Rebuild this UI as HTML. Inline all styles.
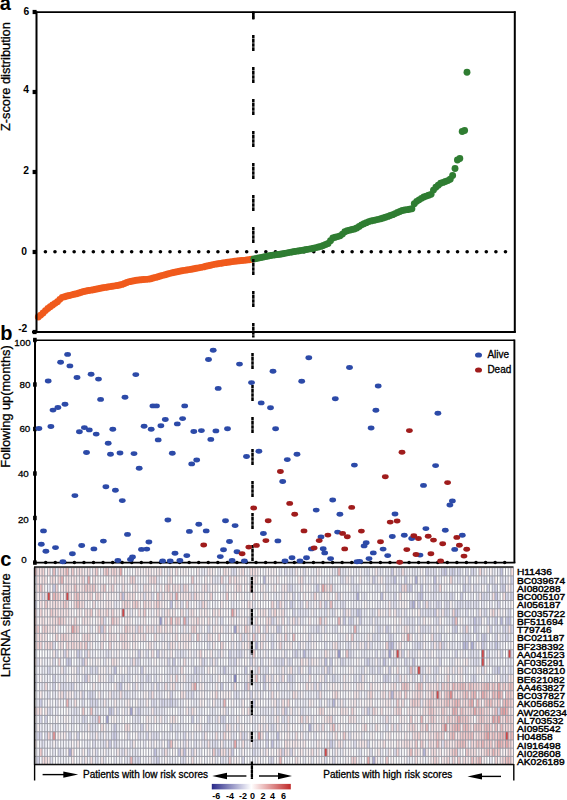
<!DOCTYPE html><html><head><meta charset="utf-8"><style>html,body{margin:0;padding:0;background:#fff;}svg{display:block}text{font-family:"Liberation Sans", sans-serif;} .t{stroke:#000;stroke-width:0.3px}</style></head><body>
<svg width="567" height="800" viewBox="0 0 567 800">
<rect width="567" height="800" fill="#fff"/>
<path fill="rgb(132,132,192)" d="M233.85 674.35h2.66v8.20h-2.66z"/>
<path fill="rgb(152,152,202)" d="M159.28 616.93h2.66v8.20h-2.66zM337.72 649.74h2.66v8.20h-2.66z"/>
<path fill="rgb(163,163,208)" d="M233.85 625.13h2.66v8.20h-2.66zM388.32 649.74h2.66v8.20h-2.66zM129.98 707.17h2.66v8.20h-2.66zM106.01 715.38h2.66v8.20h-2.66z"/>
<path fill="rgb(173,173,213)" d="M414.96 575.90h2.66v8.20h-2.66zM356.36 592.31h2.66v8.20h-2.66zM412.29 600.52h2.66v8.20h-2.66zM255.16 641.54h2.66v8.20h-2.66zM470.89 641.54h2.66v8.20h-2.66zM68.72 748.19h2.66v8.20h-2.66zM372.34 756.40h2.66v8.20h-2.66z"/>
<path fill="rgb(183,183,218)" d="M263.15 575.90h2.66v8.20h-2.66zM500.18 616.93h2.66v8.20h-2.66zM390.99 641.54h2.66v8.20h-2.66zM462.90 641.54h2.66v8.20h-2.66zM303.10 649.74h2.66v8.20h-2.66zM390.99 690.76h2.66v8.20h-2.66zM332.39 698.97h2.66v8.20h-2.66zM308.42 723.58h2.66v8.20h-2.66zM422.95 748.19h2.66v8.20h-2.66z"/>
<path fill="rgb(194,194,224)" d="M444.25 567.70h2.66v8.20h-2.66zM500.18 567.70h2.66v8.20h-2.66zM393.65 575.90h2.66v8.20h-2.66zM433.60 575.90h2.66v8.20h-2.66zM121.99 592.31h2.66v8.20h-2.66zM380.33 592.31h2.66v8.20h-2.66zM420.28 592.31h2.66v8.20h-2.66zM494.86 592.31h2.66v8.20h-2.66zM169.93 600.52h2.66v8.20h-2.66zM356.36 608.72h2.66v8.20h-2.66zM473.55 616.93h2.66v8.20h-2.66zM508.17 616.93h2.66v8.20h-2.66zM388.32 641.54h2.66v8.20h-2.66zM465.56 641.54h2.66v8.20h-2.66zM494.86 641.54h2.66v8.20h-2.66zM324.40 657.95h2.66v8.20h-2.66zM383.00 657.95h2.66v8.20h-2.66zM412.29 657.95h2.66v8.20h-2.66zM114.00 666.15h2.66v8.20h-2.66zM223.20 666.15h2.66v8.20h-2.66zM497.52 666.15h2.66v8.20h-2.66zM263.15 674.35h2.66v8.20h-2.66zM119.33 682.56h2.66v8.20h-2.66zM108.67 707.17h2.66v8.20h-2.66zM276.46 731.78h2.66v8.20h-2.66zM271.14 739.99h2.66v8.20h-2.66zM153.95 748.19h2.66v8.20h-2.66zM177.92 748.19h2.66v8.20h-2.66zM183.25 748.19h2.66v8.20h-2.66z"/>
<path fill="rgb(204,204,229)" d="M390.99 567.70h2.66v8.20h-2.66zM452.24 567.70h2.66v8.20h-2.66zM372.34 575.90h2.66v8.20h-2.66zM404.30 575.90h2.66v8.20h-2.66zM510.84 575.90h2.66v8.20h-2.66zM52.74 584.11h2.66v8.20h-2.66zM316.41 584.11h2.66v8.20h-2.66zM409.63 584.11h2.66v8.20h-2.66zM420.28 584.11h2.66v8.20h-2.66zM462.90 584.11h2.66v8.20h-2.66zM502.85 584.11h2.66v8.20h-2.66zM460.23 592.31h2.66v8.20h-2.66zM510.84 592.31h2.66v8.20h-2.66zM289.78 600.52h2.66v8.20h-2.66zM324.40 600.52h2.66v8.20h-2.66zM409.63 600.52h2.66v8.20h-2.66zM417.62 600.52h2.66v8.20h-2.66zM359.03 608.72h2.66v8.20h-2.66zM433.60 608.72h2.66v8.20h-2.66zM454.91 608.72h2.66v8.20h-2.66zM343.05 616.93h2.66v8.20h-2.66zM359.03 616.93h2.66v8.20h-2.66zM452.24 616.93h2.66v8.20h-2.66zM494.86 616.93h2.66v8.20h-2.66zM505.51 616.93h2.66v8.20h-2.66zM100.68 625.13h2.66v8.20h-2.66zM276.46 625.13h2.66v8.20h-2.66zM385.66 625.13h2.66v8.20h-2.66zM454.91 625.13h2.66v8.20h-2.66zM473.55 625.13h2.66v8.20h-2.66zM481.54 633.33h2.66v8.20h-2.66zM484.20 633.33h2.66v8.20h-2.66zM481.54 641.54h2.66v8.20h-2.66zM76.71 649.74h2.66v8.20h-2.66zM137.97 649.74h2.66v8.20h-2.66zM156.61 649.74h2.66v8.20h-2.66zM295.11 649.74h2.66v8.20h-2.66zM66.06 657.95h2.66v8.20h-2.66zM68.72 657.95h2.66v8.20h-2.66zM82.04 657.95h2.66v8.20h-2.66zM172.59 657.95h2.66v8.20h-2.66zM329.73 657.95h2.66v8.20h-2.66zM367.02 657.95h2.66v8.20h-2.66zM140.63 666.15h2.66v8.20h-2.66zM193.90 666.15h2.66v8.20h-2.66zM244.50 666.15h2.66v8.20h-2.66zM308.42 666.15h2.66v8.20h-2.66zM327.07 666.15h2.66v8.20h-2.66zM388.32 666.15h2.66v8.20h-2.66zM84.70 674.35h2.66v8.20h-2.66zM220.53 682.56h2.66v8.20h-2.66zM244.50 682.56h2.66v8.20h-2.66zM263.15 682.56h2.66v8.20h-2.66zM39.43 698.97h2.66v8.20h-2.66zM169.93 698.97h2.66v8.20h-2.66zM137.97 707.17h2.66v8.20h-2.66zM284.45 707.17h2.66v8.20h-2.66zM367.02 707.17h2.66v8.20h-2.66zM191.24 715.38h2.66v8.20h-2.66zM114.00 723.58h2.66v8.20h-2.66zM114.00 731.78h2.66v8.20h-2.66zM108.67 739.99h2.66v8.20h-2.66zM167.27 739.99h2.66v8.20h-2.66zM329.73 739.99h2.66v8.20h-2.66zM217.87 748.19h2.66v8.20h-2.66zM231.19 748.19h2.66v8.20h-2.66zM156.61 756.40h2.66v8.20h-2.66z"/>
<path fill="rgb(214,214,234)" d="M425.61 567.70h2.66v8.20h-2.66zM441.59 567.70h2.66v8.20h-2.66zM449.58 567.70h2.66v8.20h-2.66zM457.57 567.70h2.66v8.20h-2.66zM470.89 567.70h2.66v8.20h-2.66zM468.22 575.90h2.66v8.20h-2.66zM500.18 575.90h2.66v8.20h-2.66zM289.78 584.11h2.66v8.20h-2.66zM398.98 584.11h2.66v8.20h-2.66zM406.97 584.11h2.66v8.20h-2.66zM433.60 584.11h2.66v8.20h-2.66zM486.87 584.11h2.66v8.20h-2.66zM494.86 584.11h2.66v8.20h-2.66zM500.18 584.11h2.66v8.20h-2.66zM292.44 592.31h2.66v8.20h-2.66zM337.72 592.31h2.66v8.20h-2.66zM393.65 592.31h2.66v8.20h-2.66zM417.62 592.31h2.66v8.20h-2.66zM449.58 592.31h2.66v8.20h-2.66zM481.54 592.31h2.66v8.20h-2.66zM505.51 592.31h2.66v8.20h-2.66zM34.10 600.52h2.66v8.20h-2.66zM276.46 600.52h2.66v8.20h-2.66zM436.26 600.52h2.66v8.20h-2.66zM497.52 600.52h2.66v8.20h-2.66zM292.44 608.72h2.66v8.20h-2.66zM343.05 608.72h2.66v8.20h-2.66zM444.25 608.72h2.66v8.20h-2.66zM484.20 608.72h2.66v8.20h-2.66zM508.17 608.72h2.66v8.20h-2.66zM185.91 616.93h2.66v8.20h-2.66zM271.14 616.93h2.66v8.20h-2.66zM348.37 616.93h2.66v8.20h-2.66zM351.04 616.93h2.66v8.20h-2.66zM478.88 616.93h2.66v8.20h-2.66zM486.87 616.93h2.66v8.20h-2.66zM207.22 625.13h2.66v8.20h-2.66zM279.13 625.13h2.66v8.20h-2.66zM316.41 625.13h2.66v8.20h-2.66zM377.67 625.13h2.66v8.20h-2.66zM452.24 625.13h2.66v8.20h-2.66zM462.90 625.13h2.66v8.20h-2.66zM489.53 625.13h2.66v8.20h-2.66zM502.85 625.13h2.66v8.20h-2.66zM510.84 625.13h2.66v8.20h-2.66zM388.32 633.33h2.66v8.20h-2.66zM438.93 633.33h2.66v8.20h-2.66zM476.21 633.33h2.66v8.20h-2.66zM494.86 633.33h2.66v8.20h-2.66zM505.51 633.33h2.66v8.20h-2.66zM271.14 641.54h2.66v8.20h-2.66zM364.35 641.54h2.66v8.20h-2.66zM417.62 641.54h2.66v8.20h-2.66zM441.59 641.54h2.66v8.20h-2.66zM63.40 649.74h2.66v8.20h-2.66zM228.52 649.74h2.66v8.20h-2.66zM239.18 649.74h2.66v8.20h-2.66zM348.37 649.74h2.66v8.20h-2.66zM401.64 649.74h2.66v8.20h-2.66zM454.91 649.74h2.66v8.20h-2.66zM486.87 649.74h2.66v8.20h-2.66zM500.18 649.74h2.66v8.20h-2.66zM167.27 657.95h2.66v8.20h-2.66zM201.89 657.95h2.66v8.20h-2.66zM233.85 657.95h2.66v8.20h-2.66zM249.83 657.95h2.66v8.20h-2.66zM281.79 657.95h2.66v8.20h-2.66zM340.38 657.95h2.66v8.20h-2.66zM404.30 657.95h2.66v8.20h-2.66zM438.93 657.95h2.66v8.20h-2.66zM47.42 666.15h2.66v8.20h-2.66zM76.71 666.15h2.66v8.20h-2.66zM90.03 666.15h2.66v8.20h-2.66zM95.36 666.15h2.66v8.20h-2.66zM297.77 666.15h2.66v8.20h-2.66zM377.67 666.15h2.66v8.20h-2.66zM412.29 666.15h2.66v8.20h-2.66zM494.86 666.15h2.66v8.20h-2.66zM52.74 674.35h2.66v8.20h-2.66zM145.96 674.35h2.66v8.20h-2.66zM287.12 674.35h2.66v8.20h-2.66zM289.78 674.35h2.66v8.20h-2.66zM324.40 674.35h2.66v8.20h-2.66zM332.39 674.35h2.66v8.20h-2.66zM359.03 674.35h2.66v8.20h-2.66zM383.00 674.35h2.66v8.20h-2.66zM385.66 674.35h2.66v8.20h-2.66zM420.28 674.35h2.66v8.20h-2.66zM473.55 674.35h2.66v8.20h-2.66zM52.74 682.56h2.66v8.20h-2.66zM71.39 682.56h2.66v8.20h-2.66zM156.61 682.56h2.66v8.20h-2.66zM319.08 682.56h2.66v8.20h-2.66zM82.04 690.76h2.66v8.20h-2.66zM90.03 690.76h2.66v8.20h-2.66zM169.93 690.76h2.66v8.20h-2.66zM191.24 690.76h2.66v8.20h-2.66zM249.83 690.76h2.66v8.20h-2.66zM90.03 698.97h2.66v8.20h-2.66zM95.36 698.97h2.66v8.20h-2.66zM161.94 698.97h2.66v8.20h-2.66zM252.49 698.97h2.66v8.20h-2.66zM111.34 707.17h2.66v8.20h-2.66zM497.52 707.17h2.66v8.20h-2.66zM39.43 715.38h2.66v8.20h-2.66zM44.75 715.38h2.66v8.20h-2.66zM82.04 715.38h2.66v8.20h-2.66zM207.22 715.38h2.66v8.20h-2.66zM220.53 715.38h2.66v8.20h-2.66zM223.20 715.38h2.66v8.20h-2.66zM140.63 723.58h2.66v8.20h-2.66zM169.93 723.58h2.66v8.20h-2.66zM271.14 723.58h2.66v8.20h-2.66zM36.76 731.78h2.66v8.20h-2.66zM39.43 731.78h2.66v8.20h-2.66zM68.72 731.78h2.66v8.20h-2.66zM76.71 731.78h2.66v8.20h-2.66zM111.34 731.78h2.66v8.20h-2.66zM145.96 731.78h2.66v8.20h-2.66zM183.25 731.78h2.66v8.20h-2.66zM241.84 731.78h2.66v8.20h-2.66zM265.81 731.78h2.66v8.20h-2.66zM114.00 739.99h2.66v8.20h-2.66zM265.81 739.99h2.66v8.20h-2.66zM367.02 739.99h2.66v8.20h-2.66zM58.07 748.19h2.66v8.20h-2.66zM87.37 748.19h2.66v8.20h-2.66zM191.24 748.19h2.66v8.20h-2.66zM252.49 748.19h2.66v8.20h-2.66zM281.79 748.19h2.66v8.20h-2.66zM289.78 748.19h2.66v8.20h-2.66zM36.76 756.40h2.66v8.20h-2.66zM137.97 756.40h2.66v8.20h-2.66zM241.84 756.40h2.66v8.20h-2.66zM271.14 756.40h2.66v8.20h-2.66zM332.39 756.40h2.66v8.20h-2.66z"/>
<path fill="rgb(224,224,239)" d="M231.19 567.70h2.66v8.20h-2.66zM233.85 567.70h2.66v8.20h-2.66zM284.45 567.70h2.66v8.20h-2.66zM289.78 567.70h2.66v8.20h-2.66zM303.10 567.70h2.66v8.20h-2.66zM367.02 567.70h2.66v8.20h-2.66zM398.98 567.70h2.66v8.20h-2.66zM433.60 567.70h2.66v8.20h-2.66zM465.56 567.70h2.66v8.20h-2.66zM473.55 567.70h2.66v8.20h-2.66zM340.38 575.90h2.66v8.20h-2.66zM351.04 575.90h2.66v8.20h-2.66zM385.66 575.90h2.66v8.20h-2.66zM390.99 575.90h2.66v8.20h-2.66zM457.57 575.90h2.66v8.20h-2.66zM462.90 575.90h2.66v8.20h-2.66zM484.20 575.90h2.66v8.20h-2.66zM489.53 575.90h2.66v8.20h-2.66zM492.19 575.90h2.66v8.20h-2.66zM180.58 584.11h2.66v8.20h-2.66zM287.12 584.11h2.66v8.20h-2.66zM356.36 584.11h2.66v8.20h-2.66zM385.66 584.11h2.66v8.20h-2.66zM468.22 584.11h2.66v8.20h-2.66zM473.55 584.11h2.66v8.20h-2.66zM492.19 584.11h2.66v8.20h-2.66zM510.84 584.11h2.66v8.20h-2.66zM42.09 592.31h2.66v8.20h-2.66zM143.30 592.31h2.66v8.20h-2.66zM151.29 592.31h2.66v8.20h-2.66zM191.24 592.31h2.66v8.20h-2.66zM297.77 592.31h2.66v8.20h-2.66zM433.60 592.31h2.66v8.20h-2.66zM444.25 592.31h2.66v8.20h-2.66zM452.24 592.31h2.66v8.20h-2.66zM476.21 592.31h2.66v8.20h-2.66zM484.20 592.31h2.66v8.20h-2.66zM486.87 592.31h2.66v8.20h-2.66zM180.58 600.52h2.66v8.20h-2.66zM199.23 600.52h2.66v8.20h-2.66zM284.45 600.52h2.66v8.20h-2.66zM292.44 600.52h2.66v8.20h-2.66zM300.43 600.52h2.66v8.20h-2.66zM340.38 600.52h2.66v8.20h-2.66zM343.05 600.52h2.66v8.20h-2.66zM393.65 600.52h2.66v8.20h-2.66zM422.95 600.52h2.66v8.20h-2.66zM428.27 600.52h2.66v8.20h-2.66zM438.93 600.52h2.66v8.20h-2.66zM444.25 600.52h2.66v8.20h-2.66zM446.92 600.52h2.66v8.20h-2.66zM457.57 600.52h2.66v8.20h-2.66zM460.23 600.52h2.66v8.20h-2.66zM465.56 600.52h2.66v8.20h-2.66zM468.22 600.52h2.66v8.20h-2.66zM473.55 600.52h2.66v8.20h-2.66zM476.21 600.52h2.66v8.20h-2.66zM268.47 608.72h2.66v8.20h-2.66zM297.77 608.72h2.66v8.20h-2.66zM324.40 608.72h2.66v8.20h-2.66zM332.39 608.72h2.66v8.20h-2.66zM351.04 608.72h2.66v8.20h-2.66zM372.34 608.72h2.66v8.20h-2.66zM396.31 608.72h2.66v8.20h-2.66zM404.30 608.72h2.66v8.20h-2.66zM420.28 608.72h2.66v8.20h-2.66zM425.61 608.72h2.66v8.20h-2.66zM428.27 608.72h2.66v8.20h-2.66zM446.92 608.72h2.66v8.20h-2.66zM457.57 608.72h2.66v8.20h-2.66zM465.56 608.72h2.66v8.20h-2.66zM476.21 608.72h2.66v8.20h-2.66zM103.35 616.93h2.66v8.20h-2.66zM220.53 616.93h2.66v8.20h-2.66zM247.17 616.93h2.66v8.20h-2.66zM287.12 616.93h2.66v8.20h-2.66zM295.11 616.93h2.66v8.20h-2.66zM369.68 616.93h2.66v8.20h-2.66zM375.01 616.93h2.66v8.20h-2.66zM406.97 616.93h2.66v8.20h-2.66zM412.29 616.93h2.66v8.20h-2.66zM417.62 616.93h2.66v8.20h-2.66zM436.26 616.93h2.66v8.20h-2.66zM476.21 616.93h2.66v8.20h-2.66zM135.31 625.13h2.66v8.20h-2.66zM252.49 625.13h2.66v8.20h-2.66zM263.15 625.13h2.66v8.20h-2.66zM324.40 625.13h2.66v8.20h-2.66zM335.06 625.13h2.66v8.20h-2.66zM356.36 625.13h2.66v8.20h-2.66zM388.32 625.13h2.66v8.20h-2.66zM412.29 625.13h2.66v8.20h-2.66zM420.28 625.13h2.66v8.20h-2.66zM422.95 625.13h2.66v8.20h-2.66zM428.27 625.13h2.66v8.20h-2.66zM476.21 625.13h2.66v8.20h-2.66zM494.86 625.13h2.66v8.20h-2.66zM505.51 625.13h2.66v8.20h-2.66zM241.84 633.33h2.66v8.20h-2.66zM255.16 633.33h2.66v8.20h-2.66zM271.14 633.33h2.66v8.20h-2.66zM308.42 633.33h2.66v8.20h-2.66zM372.34 633.33h2.66v8.20h-2.66zM377.67 633.33h2.66v8.20h-2.66zM390.99 633.33h2.66v8.20h-2.66zM433.60 633.33h2.66v8.20h-2.66zM462.90 633.33h2.66v8.20h-2.66zM465.56 633.33h2.66v8.20h-2.66zM468.22 633.33h2.66v8.20h-2.66zM52.74 641.54h2.66v8.20h-2.66zM167.27 641.54h2.66v8.20h-2.66zM207.22 641.54h2.66v8.20h-2.66zM297.77 641.54h2.66v8.20h-2.66zM324.40 641.54h2.66v8.20h-2.66zM337.72 641.54h2.66v8.20h-2.66zM348.37 641.54h2.66v8.20h-2.66zM369.68 641.54h2.66v8.20h-2.66zM414.96 641.54h2.66v8.20h-2.66zM420.28 641.54h2.66v8.20h-2.66zM430.94 641.54h2.66v8.20h-2.66zM436.26 641.54h2.66v8.20h-2.66zM473.55 641.54h2.66v8.20h-2.66zM484.20 641.54h2.66v8.20h-2.66zM489.53 641.54h2.66v8.20h-2.66zM497.52 641.54h2.66v8.20h-2.66zM55.41 649.74h2.66v8.20h-2.66zM79.38 649.74h2.66v8.20h-2.66zM84.70 649.74h2.66v8.20h-2.66zM106.01 649.74h2.66v8.20h-2.66zM145.96 649.74h2.66v8.20h-2.66zM180.58 649.74h2.66v8.20h-2.66zM217.87 649.74h2.66v8.20h-2.66zM236.51 649.74h2.66v8.20h-2.66zM249.83 649.74h2.66v8.20h-2.66zM284.45 649.74h2.66v8.20h-2.66zM292.44 649.74h2.66v8.20h-2.66zM308.42 649.74h2.66v8.20h-2.66zM375.01 649.74h2.66v8.20h-2.66zM383.00 649.74h2.66v8.20h-2.66zM470.89 649.74h2.66v8.20h-2.66zM476.21 649.74h2.66v8.20h-2.66zM510.84 649.74h2.66v8.20h-2.66zM36.76 657.95h2.66v8.20h-2.66zM52.74 657.95h2.66v8.20h-2.66zM129.98 657.95h2.66v8.20h-2.66zM135.31 657.95h2.66v8.20h-2.66zM137.97 657.95h2.66v8.20h-2.66zM209.88 657.95h2.66v8.20h-2.66zM215.21 657.95h2.66v8.20h-2.66zM228.52 657.95h2.66v8.20h-2.66zM260.48 657.95h2.66v8.20h-2.66zM273.80 657.95h2.66v8.20h-2.66zM279.13 657.95h2.66v8.20h-2.66zM287.12 657.95h2.66v8.20h-2.66zM289.78 657.95h2.66v8.20h-2.66zM308.42 657.95h2.66v8.20h-2.66zM343.05 657.95h2.66v8.20h-2.66zM364.35 657.95h2.66v8.20h-2.66zM377.67 657.95h2.66v8.20h-2.66zM393.65 657.95h2.66v8.20h-2.66zM473.55 657.95h2.66v8.20h-2.66zM476.21 657.95h2.66v8.20h-2.66zM63.40 666.15h2.66v8.20h-2.66zM127.32 666.15h2.66v8.20h-2.66zM169.93 666.15h2.66v8.20h-2.66zM175.26 666.15h2.66v8.20h-2.66zM196.56 666.15h2.66v8.20h-2.66zM201.89 666.15h2.66v8.20h-2.66zM255.16 666.15h2.66v8.20h-2.66zM265.81 666.15h2.66v8.20h-2.66zM321.74 666.15h2.66v8.20h-2.66zM329.73 666.15h2.66v8.20h-2.66zM361.69 666.15h2.66v8.20h-2.66zM369.68 666.15h2.66v8.20h-2.66zM372.34 666.15h2.66v8.20h-2.66zM406.97 666.15h2.66v8.20h-2.66zM420.28 666.15h2.66v8.20h-2.66zM433.60 666.15h2.66v8.20h-2.66zM436.26 666.15h2.66v8.20h-2.66zM481.54 666.15h2.66v8.20h-2.66zM492.19 666.15h2.66v8.20h-2.66zM502.85 666.15h2.66v8.20h-2.66zM508.17 666.15h2.66v8.20h-2.66zM510.84 666.15h2.66v8.20h-2.66zM108.67 674.35h2.66v8.20h-2.66zM111.34 674.35h2.66v8.20h-2.66zM121.99 674.35h2.66v8.20h-2.66zM127.32 674.35h2.66v8.20h-2.66zM140.63 674.35h2.66v8.20h-2.66zM148.62 674.35h2.66v8.20h-2.66zM153.95 674.35h2.66v8.20h-2.66zM191.24 674.35h2.66v8.20h-2.66zM196.56 674.35h2.66v8.20h-2.66zM209.88 674.35h2.66v8.20h-2.66zM271.14 674.35h2.66v8.20h-2.66zM279.13 674.35h2.66v8.20h-2.66zM292.44 674.35h2.66v8.20h-2.66zM353.70 674.35h2.66v8.20h-2.66zM388.32 674.35h2.66v8.20h-2.66zM396.31 674.35h2.66v8.20h-2.66zM412.29 674.35h2.66v8.20h-2.66zM425.61 674.35h2.66v8.20h-2.66zM433.60 674.35h2.66v8.20h-2.66zM470.89 674.35h2.66v8.20h-2.66zM500.18 674.35h2.66v8.20h-2.66zM505.51 674.35h2.66v8.20h-2.66zM34.10 682.56h2.66v8.20h-2.66zM60.73 682.56h2.66v8.20h-2.66zM63.40 682.56h2.66v8.20h-2.66zM68.72 682.56h2.66v8.20h-2.66zM116.66 682.56h2.66v8.20h-2.66zM132.64 682.56h2.66v8.20h-2.66zM140.63 682.56h2.66v8.20h-2.66zM151.29 682.56h2.66v8.20h-2.66zM231.19 682.56h2.66v8.20h-2.66zM255.16 682.56h2.66v8.20h-2.66zM276.46 682.56h2.66v8.20h-2.66zM289.78 682.56h2.66v8.20h-2.66zM313.75 682.56h2.66v8.20h-2.66zM47.42 690.76h2.66v8.20h-2.66zM63.40 690.76h2.66v8.20h-2.66zM74.05 690.76h2.66v8.20h-2.66zM87.37 690.76h2.66v8.20h-2.66zM92.69 690.76h2.66v8.20h-2.66zM111.34 690.76h2.66v8.20h-2.66zM124.65 690.76h2.66v8.20h-2.66zM148.62 690.76h2.66v8.20h-2.66zM185.91 690.76h2.66v8.20h-2.66zM233.85 690.76h2.66v8.20h-2.66zM236.51 690.76h2.66v8.20h-2.66zM316.41 690.76h2.66v8.20h-2.66zM82.04 698.97h2.66v8.20h-2.66zM92.69 698.97h2.66v8.20h-2.66zM151.29 698.97h2.66v8.20h-2.66zM153.95 698.97h2.66v8.20h-2.66zM159.28 698.97h2.66v8.20h-2.66zM164.60 698.97h2.66v8.20h-2.66zM167.27 698.97h2.66v8.20h-2.66zM172.59 698.97h2.66v8.20h-2.66zM175.26 698.97h2.66v8.20h-2.66zM276.46 698.97h2.66v8.20h-2.66zM319.08 698.97h2.66v8.20h-2.66zM327.07 698.97h2.66v8.20h-2.66zM47.42 707.17h2.66v8.20h-2.66zM50.08 707.17h2.66v8.20h-2.66zM74.05 707.17h2.66v8.20h-2.66zM95.36 707.17h2.66v8.20h-2.66zM116.66 707.17h2.66v8.20h-2.66zM135.31 707.17h2.66v8.20h-2.66zM153.95 707.17h2.66v8.20h-2.66zM225.86 707.17h2.66v8.20h-2.66zM271.14 707.17h2.66v8.20h-2.66zM276.46 707.17h2.66v8.20h-2.66zM300.43 707.17h2.66v8.20h-2.66zM71.39 715.38h2.66v8.20h-2.66zM84.70 715.38h2.66v8.20h-2.66zM92.69 715.38h2.66v8.20h-2.66zM95.36 715.38h2.66v8.20h-2.66zM137.97 715.38h2.66v8.20h-2.66zM215.21 715.38h2.66v8.20h-2.66zM281.79 715.38h2.66v8.20h-2.66zM90.03 723.58h2.66v8.20h-2.66zM223.20 723.58h2.66v8.20h-2.66zM385.66 723.58h2.66v8.20h-2.66zM44.75 731.78h2.66v8.20h-2.66zM127.32 731.78h2.66v8.20h-2.66zM137.97 731.78h2.66v8.20h-2.66zM151.29 731.78h2.66v8.20h-2.66zM153.95 731.78h2.66v8.20h-2.66zM156.61 731.78h2.66v8.20h-2.66zM175.26 731.78h2.66v8.20h-2.66zM201.89 731.78h2.66v8.20h-2.66zM244.50 731.78h2.66v8.20h-2.66zM348.37 731.78h2.66v8.20h-2.66zM42.09 739.99h2.66v8.20h-2.66zM92.69 739.99h2.66v8.20h-2.66zM103.35 739.99h2.66v8.20h-2.66zM129.98 739.99h2.66v8.20h-2.66zM183.25 739.99h2.66v8.20h-2.66zM193.90 739.99h2.66v8.20h-2.66zM212.54 739.99h2.66v8.20h-2.66zM215.21 739.99h2.66v8.20h-2.66zM223.20 739.99h2.66v8.20h-2.66zM252.49 739.99h2.66v8.20h-2.66zM255.16 739.99h2.66v8.20h-2.66zM276.46 739.99h2.66v8.20h-2.66zM332.39 739.99h2.66v8.20h-2.66zM353.70 739.99h2.66v8.20h-2.66zM441.59 739.99h2.66v8.20h-2.66zM95.36 748.19h2.66v8.20h-2.66zM121.99 748.19h2.66v8.20h-2.66zM161.94 748.19h2.66v8.20h-2.66zM215.21 748.19h2.66v8.20h-2.66zM225.86 748.19h2.66v8.20h-2.66zM359.03 748.19h2.66v8.20h-2.66zM369.68 748.19h2.66v8.20h-2.66zM393.65 748.19h2.66v8.20h-2.66zM50.08 756.40h2.66v8.20h-2.66zM95.36 756.40h2.66v8.20h-2.66zM132.64 756.40h2.66v8.20h-2.66zM135.31 756.40h2.66v8.20h-2.66zM153.95 756.40h2.66v8.20h-2.66zM180.58 756.40h2.66v8.20h-2.66zM183.25 756.40h2.66v8.20h-2.66zM220.53 756.40h2.66v8.20h-2.66zM268.47 756.40h2.66v8.20h-2.66zM324.40 756.40h2.66v8.20h-2.66z"/>
<path fill="rgb(234,234,244)" d="M55.41 567.70h2.66v8.20h-2.66zM167.27 567.70h2.66v8.20h-2.66zM201.89 567.70h2.66v8.20h-2.66zM217.87 567.70h2.66v8.20h-2.66zM279.13 567.70h2.66v8.20h-2.66zM292.44 567.70h2.66v8.20h-2.66zM332.39 567.70h2.66v8.20h-2.66zM335.06 567.70h2.66v8.20h-2.66zM340.38 567.70h2.66v8.20h-2.66zM343.05 567.70h2.66v8.20h-2.66zM364.35 567.70h2.66v8.20h-2.66zM377.67 567.70h2.66v8.20h-2.66zM380.33 567.70h2.66v8.20h-2.66zM385.66 567.70h2.66v8.20h-2.66zM396.31 567.70h2.66v8.20h-2.66zM404.30 567.70h2.66v8.20h-2.66zM412.29 567.70h2.66v8.20h-2.66zM414.96 567.70h2.66v8.20h-2.66zM428.27 567.70h2.66v8.20h-2.66zM430.94 567.70h2.66v8.20h-2.66zM438.93 567.70h2.66v8.20h-2.66zM454.91 567.70h2.66v8.20h-2.66zM460.23 567.70h2.66v8.20h-2.66zM481.54 567.70h2.66v8.20h-2.66zM492.19 567.70h2.66v8.20h-2.66zM497.52 567.70h2.66v8.20h-2.66zM156.61 575.90h2.66v8.20h-2.66zM212.54 575.90h2.66v8.20h-2.66zM215.21 575.90h2.66v8.20h-2.66zM217.87 575.90h2.66v8.20h-2.66zM289.78 575.90h2.66v8.20h-2.66zM303.10 575.90h2.66v8.20h-2.66zM308.42 575.90h2.66v8.20h-2.66zM313.75 575.90h2.66v8.20h-2.66zM329.73 575.90h2.66v8.20h-2.66zM343.05 575.90h2.66v8.20h-2.66zM367.02 575.90h2.66v8.20h-2.66zM375.01 575.90h2.66v8.20h-2.66zM388.32 575.90h2.66v8.20h-2.66zM398.98 575.90h2.66v8.20h-2.66zM420.28 575.90h2.66v8.20h-2.66zM425.61 575.90h2.66v8.20h-2.66zM438.93 575.90h2.66v8.20h-2.66zM452.24 575.90h2.66v8.20h-2.66zM481.54 575.90h2.66v8.20h-2.66zM502.85 575.90h2.66v8.20h-2.66zM505.51 575.90h2.66v8.20h-2.66zM47.42 584.11h2.66v8.20h-2.66zM207.22 584.11h2.66v8.20h-2.66zM223.20 584.11h2.66v8.20h-2.66zM265.81 584.11h2.66v8.20h-2.66zM292.44 584.11h2.66v8.20h-2.66zM313.75 584.11h2.66v8.20h-2.66zM332.39 584.11h2.66v8.20h-2.66zM351.04 584.11h2.66v8.20h-2.66zM353.70 584.11h2.66v8.20h-2.66zM375.01 584.11h2.66v8.20h-2.66zM377.67 584.11h2.66v8.20h-2.66zM388.32 584.11h2.66v8.20h-2.66zM393.65 584.11h2.66v8.20h-2.66zM414.96 584.11h2.66v8.20h-2.66zM425.61 584.11h2.66v8.20h-2.66zM436.26 584.11h2.66v8.20h-2.66zM465.56 584.11h2.66v8.20h-2.66zM476.21 584.11h2.66v8.20h-2.66zM159.28 592.31h2.66v8.20h-2.66zM172.59 592.31h2.66v8.20h-2.66zM273.80 592.31h2.66v8.20h-2.66zM284.45 592.31h2.66v8.20h-2.66zM311.09 592.31h2.66v8.20h-2.66zM319.08 592.31h2.66v8.20h-2.66zM353.70 592.31h2.66v8.20h-2.66zM361.69 592.31h2.66v8.20h-2.66zM364.35 592.31h2.66v8.20h-2.66zM388.32 592.31h2.66v8.20h-2.66zM414.96 592.31h2.66v8.20h-2.66zM430.94 592.31h2.66v8.20h-2.66zM438.93 592.31h2.66v8.20h-2.66zM470.89 592.31h2.66v8.20h-2.66zM497.52 592.31h2.66v8.20h-2.66zM508.17 592.31h2.66v8.20h-2.66zM114.00 600.52h2.66v8.20h-2.66zM207.22 600.52h2.66v8.20h-2.66zM231.19 600.52h2.66v8.20h-2.66zM252.49 600.52h2.66v8.20h-2.66zM297.77 600.52h2.66v8.20h-2.66zM308.42 600.52h2.66v8.20h-2.66zM335.06 600.52h2.66v8.20h-2.66zM377.67 600.52h2.66v8.20h-2.66zM390.99 600.52h2.66v8.20h-2.66zM433.60 600.52h2.66v8.20h-2.66zM454.91 600.52h2.66v8.20h-2.66zM462.90 600.52h2.66v8.20h-2.66zM470.89 600.52h2.66v8.20h-2.66zM481.54 600.52h2.66v8.20h-2.66zM489.53 600.52h2.66v8.20h-2.66zM494.86 600.52h2.66v8.20h-2.66zM129.98 608.72h2.66v8.20h-2.66zM161.94 608.72h2.66v8.20h-2.66zM185.91 608.72h2.66v8.20h-2.66zM236.51 608.72h2.66v8.20h-2.66zM284.45 608.72h2.66v8.20h-2.66zM300.43 608.72h2.66v8.20h-2.66zM303.10 608.72h2.66v8.20h-2.66zM305.76 608.72h2.66v8.20h-2.66zM313.75 608.72h2.66v8.20h-2.66zM319.08 608.72h2.66v8.20h-2.66zM329.73 608.72h2.66v8.20h-2.66zM353.70 608.72h2.66v8.20h-2.66zM364.35 608.72h2.66v8.20h-2.66zM369.68 608.72h2.66v8.20h-2.66zM385.66 608.72h2.66v8.20h-2.66zM398.98 608.72h2.66v8.20h-2.66zM422.95 608.72h2.66v8.20h-2.66zM430.94 608.72h2.66v8.20h-2.66zM438.93 608.72h2.66v8.20h-2.66zM470.89 608.72h2.66v8.20h-2.66zM481.54 608.72h2.66v8.20h-2.66zM494.86 608.72h2.66v8.20h-2.66zM505.51 608.72h2.66v8.20h-2.66zM249.83 616.93h2.66v8.20h-2.66zM273.80 616.93h2.66v8.20h-2.66zM300.43 616.93h2.66v8.20h-2.66zM321.74 616.93h2.66v8.20h-2.66zM377.67 616.93h2.66v8.20h-2.66zM404.30 616.93h2.66v8.20h-2.66zM409.63 616.93h2.66v8.20h-2.66zM433.60 616.93h2.66v8.20h-2.66zM446.92 616.93h2.66v8.20h-2.66zM449.58 616.93h2.66v8.20h-2.66zM468.22 616.93h2.66v8.20h-2.66zM470.89 616.93h2.66v8.20h-2.66zM492.19 616.93h2.66v8.20h-2.66zM58.07 625.13h2.66v8.20h-2.66zM90.03 625.13h2.66v8.20h-2.66zM153.95 625.13h2.66v8.20h-2.66zM180.58 625.13h2.66v8.20h-2.66zM185.91 625.13h2.66v8.20h-2.66zM199.23 625.13h2.66v8.20h-2.66zM225.86 625.13h2.66v8.20h-2.66zM308.42 625.13h2.66v8.20h-2.66zM311.09 625.13h2.66v8.20h-2.66zM313.75 625.13h2.66v8.20h-2.66zM319.08 625.13h2.66v8.20h-2.66zM332.39 625.13h2.66v8.20h-2.66zM348.37 625.13h2.66v8.20h-2.66zM375.01 625.13h2.66v8.20h-2.66zM380.33 625.13h2.66v8.20h-2.66zM396.31 625.13h2.66v8.20h-2.66zM409.63 625.13h2.66v8.20h-2.66zM425.61 625.13h2.66v8.20h-2.66zM433.60 625.13h2.66v8.20h-2.66zM438.93 625.13h2.66v8.20h-2.66zM441.59 625.13h2.66v8.20h-2.66zM468.22 625.13h2.66v8.20h-2.66zM497.52 625.13h2.66v8.20h-2.66zM161.94 633.33h2.66v8.20h-2.66zM191.24 633.33h2.66v8.20h-2.66zM204.55 633.33h2.66v8.20h-2.66zM244.50 633.33h2.66v8.20h-2.66zM265.81 633.33h2.66v8.20h-2.66zM287.12 633.33h2.66v8.20h-2.66zM319.08 633.33h2.66v8.20h-2.66zM337.72 633.33h2.66v8.20h-2.66zM356.36 633.33h2.66v8.20h-2.66zM375.01 633.33h2.66v8.20h-2.66zM414.96 633.33h2.66v8.20h-2.66zM420.28 633.33h2.66v8.20h-2.66zM436.26 633.33h2.66v8.20h-2.66zM444.25 633.33h2.66v8.20h-2.66zM452.24 633.33h2.66v8.20h-2.66zM500.18 633.33h2.66v8.20h-2.66zM502.85 633.33h2.66v8.20h-2.66zM508.17 633.33h2.66v8.20h-2.66zM87.37 641.54h2.66v8.20h-2.66zM153.95 641.54h2.66v8.20h-2.66zM231.19 641.54h2.66v8.20h-2.66zM236.51 641.54h2.66v8.20h-2.66zM239.18 641.54h2.66v8.20h-2.66zM281.79 641.54h2.66v8.20h-2.66zM305.76 641.54h2.66v8.20h-2.66zM308.42 641.54h2.66v8.20h-2.66zM329.73 641.54h2.66v8.20h-2.66zM345.71 641.54h2.66v8.20h-2.66zM356.36 641.54h2.66v8.20h-2.66zM377.67 641.54h2.66v8.20h-2.66zM393.65 641.54h2.66v8.20h-2.66zM404.30 641.54h2.66v8.20h-2.66zM412.29 641.54h2.66v8.20h-2.66zM444.25 641.54h2.66v8.20h-2.66zM449.58 641.54h2.66v8.20h-2.66zM452.24 641.54h2.66v8.20h-2.66zM457.57 641.54h2.66v8.20h-2.66zM492.19 641.54h2.66v8.20h-2.66zM34.10 649.74h2.66v8.20h-2.66zM108.67 649.74h2.66v8.20h-2.66zM161.94 649.74h2.66v8.20h-2.66zM175.26 649.74h2.66v8.20h-2.66zM177.92 649.74h2.66v8.20h-2.66zM183.25 649.74h2.66v8.20h-2.66zM193.90 649.74h2.66v8.20h-2.66zM231.19 649.74h2.66v8.20h-2.66zM233.85 649.74h2.66v8.20h-2.66zM241.84 649.74h2.66v8.20h-2.66zM257.82 649.74h2.66v8.20h-2.66zM265.81 649.74h2.66v8.20h-2.66zM297.77 649.74h2.66v8.20h-2.66zM305.76 649.74h2.66v8.20h-2.66zM319.08 649.74h2.66v8.20h-2.66zM329.73 649.74h2.66v8.20h-2.66zM351.04 649.74h2.66v8.20h-2.66zM361.69 649.74h2.66v8.20h-2.66zM364.35 649.74h2.66v8.20h-2.66zM380.33 649.74h2.66v8.20h-2.66zM409.63 649.74h2.66v8.20h-2.66zM412.29 649.74h2.66v8.20h-2.66zM414.96 649.74h2.66v8.20h-2.66zM422.95 649.74h2.66v8.20h-2.66zM428.27 649.74h2.66v8.20h-2.66zM436.26 649.74h2.66v8.20h-2.66zM438.93 649.74h2.66v8.20h-2.66zM462.90 649.74h2.66v8.20h-2.66zM468.22 649.74h2.66v8.20h-2.66zM473.55 649.74h2.66v8.20h-2.66zM494.86 649.74h2.66v8.20h-2.66zM76.71 657.95h2.66v8.20h-2.66zM79.38 657.95h2.66v8.20h-2.66zM103.35 657.95h2.66v8.20h-2.66zM148.62 657.95h2.66v8.20h-2.66zM177.92 657.95h2.66v8.20h-2.66zM191.24 657.95h2.66v8.20h-2.66zM204.55 657.95h2.66v8.20h-2.66zM231.19 657.95h2.66v8.20h-2.66zM255.16 657.95h2.66v8.20h-2.66zM276.46 657.95h2.66v8.20h-2.66zM319.08 657.95h2.66v8.20h-2.66zM348.37 657.95h2.66v8.20h-2.66zM369.68 657.95h2.66v8.20h-2.66zM372.34 657.95h2.66v8.20h-2.66zM385.66 657.95h2.66v8.20h-2.66zM390.99 657.95h2.66v8.20h-2.66zM406.97 657.95h2.66v8.20h-2.66zM449.58 657.95h2.66v8.20h-2.66zM452.24 657.95h2.66v8.20h-2.66zM470.89 657.95h2.66v8.20h-2.66zM489.53 657.95h2.66v8.20h-2.66zM505.51 657.95h2.66v8.20h-2.66zM508.17 657.95h2.66v8.20h-2.66zM510.84 657.95h2.66v8.20h-2.66zM42.09 666.15h2.66v8.20h-2.66zM50.08 666.15h2.66v8.20h-2.66zM84.70 666.15h2.66v8.20h-2.66zM92.69 666.15h2.66v8.20h-2.66zM106.01 666.15h2.66v8.20h-2.66zM111.34 666.15h2.66v8.20h-2.66zM135.31 666.15h2.66v8.20h-2.66zM153.95 666.15h2.66v8.20h-2.66zM167.27 666.15h2.66v8.20h-2.66zM172.59 666.15h2.66v8.20h-2.66zM199.23 666.15h2.66v8.20h-2.66zM217.87 666.15h2.66v8.20h-2.66zM220.53 666.15h2.66v8.20h-2.66zM225.86 666.15h2.66v8.20h-2.66zM231.19 666.15h2.66v8.20h-2.66zM233.85 666.15h2.66v8.20h-2.66zM260.48 666.15h2.66v8.20h-2.66zM263.15 666.15h2.66v8.20h-2.66zM276.46 666.15h2.66v8.20h-2.66zM279.13 666.15h2.66v8.20h-2.66zM284.45 666.15h2.66v8.20h-2.66zM292.44 666.15h2.66v8.20h-2.66zM316.41 666.15h2.66v8.20h-2.66zM359.03 666.15h2.66v8.20h-2.66zM380.33 666.15h2.66v8.20h-2.66zM422.95 666.15h2.66v8.20h-2.66zM449.58 666.15h2.66v8.20h-2.66zM454.91 666.15h2.66v8.20h-2.66zM462.90 666.15h2.66v8.20h-2.66zM465.56 666.15h2.66v8.20h-2.66zM473.55 666.15h2.66v8.20h-2.66zM34.10 674.35h2.66v8.20h-2.66zM58.07 674.35h2.66v8.20h-2.66zM63.40 674.35h2.66v8.20h-2.66zM76.71 674.35h2.66v8.20h-2.66zM82.04 674.35h2.66v8.20h-2.66zM119.33 674.35h2.66v8.20h-2.66zM167.27 674.35h2.66v8.20h-2.66zM185.91 674.35h2.66v8.20h-2.66zM188.57 674.35h2.66v8.20h-2.66zM193.90 674.35h2.66v8.20h-2.66zM201.89 674.35h2.66v8.20h-2.66zM228.52 674.35h2.66v8.20h-2.66zM244.50 674.35h2.66v8.20h-2.66zM249.83 674.35h2.66v8.20h-2.66zM260.48 674.35h2.66v8.20h-2.66zM300.43 674.35h2.66v8.20h-2.66zM313.75 674.35h2.66v8.20h-2.66zM329.73 674.35h2.66v8.20h-2.66zM335.06 674.35h2.66v8.20h-2.66zM337.72 674.35h2.66v8.20h-2.66zM364.35 674.35h2.66v8.20h-2.66zM393.65 674.35h2.66v8.20h-2.66zM452.24 674.35h2.66v8.20h-2.66zM465.56 674.35h2.66v8.20h-2.66zM486.87 674.35h2.66v8.20h-2.66zM502.85 674.35h2.66v8.20h-2.66zM39.43 682.56h2.66v8.20h-2.66zM42.09 682.56h2.66v8.20h-2.66zM66.06 682.56h2.66v8.20h-2.66zM79.38 682.56h2.66v8.20h-2.66zM98.02 682.56h2.66v8.20h-2.66zM161.94 682.56h2.66v8.20h-2.66zM167.27 682.56h2.66v8.20h-2.66zM175.26 682.56h2.66v8.20h-2.66zM185.91 682.56h2.66v8.20h-2.66zM188.57 682.56h2.66v8.20h-2.66zM204.55 682.56h2.66v8.20h-2.66zM225.86 682.56h2.66v8.20h-2.66zM257.82 682.56h2.66v8.20h-2.66zM271.14 682.56h2.66v8.20h-2.66zM284.45 682.56h2.66v8.20h-2.66zM292.44 682.56h2.66v8.20h-2.66zM324.40 682.56h2.66v8.20h-2.66zM438.93 682.56h2.66v8.20h-2.66zM52.74 690.76h2.66v8.20h-2.66zM100.68 690.76h2.66v8.20h-2.66zM114.00 690.76h2.66v8.20h-2.66zM116.66 690.76h2.66v8.20h-2.66zM121.99 690.76h2.66v8.20h-2.66zM127.32 690.76h2.66v8.20h-2.66zM132.64 690.76h2.66v8.20h-2.66zM156.61 690.76h2.66v8.20h-2.66zM159.28 690.76h2.66v8.20h-2.66zM188.57 690.76h2.66v8.20h-2.66zM241.84 690.76h2.66v8.20h-2.66zM255.16 690.76h2.66v8.20h-2.66zM260.48 690.76h2.66v8.20h-2.66zM268.47 690.76h2.66v8.20h-2.66zM281.79 690.76h2.66v8.20h-2.66zM287.12 690.76h2.66v8.20h-2.66zM297.77 690.76h2.66v8.20h-2.66zM308.42 690.76h2.66v8.20h-2.66zM359.03 690.76h2.66v8.20h-2.66zM364.35 690.76h2.66v8.20h-2.66zM36.76 698.97h2.66v8.20h-2.66zM55.41 698.97h2.66v8.20h-2.66zM68.72 698.97h2.66v8.20h-2.66zM100.68 698.97h2.66v8.20h-2.66zM106.01 698.97h2.66v8.20h-2.66zM137.97 698.97h2.66v8.20h-2.66zM140.63 698.97h2.66v8.20h-2.66zM180.58 698.97h2.66v8.20h-2.66zM193.90 698.97h2.66v8.20h-2.66zM207.22 698.97h2.66v8.20h-2.66zM215.21 698.97h2.66v8.20h-2.66zM217.87 698.97h2.66v8.20h-2.66zM220.53 698.97h2.66v8.20h-2.66zM239.18 698.97h2.66v8.20h-2.66zM295.11 698.97h2.66v8.20h-2.66zM303.10 698.97h2.66v8.20h-2.66zM329.73 698.97h2.66v8.20h-2.66zM337.72 698.97h2.66v8.20h-2.66zM343.05 698.97h2.66v8.20h-2.66zM420.28 698.97h2.66v8.20h-2.66zM55.41 707.17h2.66v8.20h-2.66zM71.39 707.17h2.66v8.20h-2.66zM76.71 707.17h2.66v8.20h-2.66zM100.68 707.17h2.66v8.20h-2.66zM124.65 707.17h2.66v8.20h-2.66zM140.63 707.17h2.66v8.20h-2.66zM145.96 707.17h2.66v8.20h-2.66zM156.61 707.17h2.66v8.20h-2.66zM159.28 707.17h2.66v8.20h-2.66zM161.94 707.17h2.66v8.20h-2.66zM177.92 707.17h2.66v8.20h-2.66zM180.58 707.17h2.66v8.20h-2.66zM188.57 707.17h2.66v8.20h-2.66zM199.23 707.17h2.66v8.20h-2.66zM209.88 707.17h2.66v8.20h-2.66zM212.54 707.17h2.66v8.20h-2.66zM231.19 707.17h2.66v8.20h-2.66zM260.48 707.17h2.66v8.20h-2.66zM263.15 707.17h2.66v8.20h-2.66zM265.81 707.17h2.66v8.20h-2.66zM292.44 707.17h2.66v8.20h-2.66zM303.10 707.17h2.66v8.20h-2.66zM308.42 707.17h2.66v8.20h-2.66zM361.69 707.17h2.66v8.20h-2.66zM369.68 707.17h2.66v8.20h-2.66zM76.71 715.38h2.66v8.20h-2.66zM90.03 715.38h2.66v8.20h-2.66zM132.64 715.38h2.66v8.20h-2.66zM135.31 715.38h2.66v8.20h-2.66zM164.60 715.38h2.66v8.20h-2.66zM180.58 715.38h2.66v8.20h-2.66zM196.56 715.38h2.66v8.20h-2.66zM209.88 715.38h2.66v8.20h-2.66zM228.52 715.38h2.66v8.20h-2.66zM231.19 715.38h2.66v8.20h-2.66zM252.49 715.38h2.66v8.20h-2.66zM268.47 715.38h2.66v8.20h-2.66zM271.14 715.38h2.66v8.20h-2.66zM284.45 715.38h2.66v8.20h-2.66zM303.10 715.38h2.66v8.20h-2.66zM311.09 715.38h2.66v8.20h-2.66zM332.39 715.38h2.66v8.20h-2.66zM383.00 715.38h2.66v8.20h-2.66zM388.32 715.38h2.66v8.20h-2.66zM34.10 723.58h2.66v8.20h-2.66zM39.43 723.58h2.66v8.20h-2.66zM44.75 723.58h2.66v8.20h-2.66zM52.74 723.58h2.66v8.20h-2.66zM55.41 723.58h2.66v8.20h-2.66zM63.40 723.58h2.66v8.20h-2.66zM71.39 723.58h2.66v8.20h-2.66zM79.38 723.58h2.66v8.20h-2.66zM84.70 723.58h2.66v8.20h-2.66zM92.69 723.58h2.66v8.20h-2.66zM95.36 723.58h2.66v8.20h-2.66zM106.01 723.58h2.66v8.20h-2.66zM111.34 723.58h2.66v8.20h-2.66zM132.64 723.58h2.66v8.20h-2.66zM175.26 723.58h2.66v8.20h-2.66zM177.92 723.58h2.66v8.20h-2.66zM204.55 723.58h2.66v8.20h-2.66zM207.22 723.58h2.66v8.20h-2.66zM215.21 723.58h2.66v8.20h-2.66zM231.19 723.58h2.66v8.20h-2.66zM236.51 723.58h2.66v8.20h-2.66zM252.49 723.58h2.66v8.20h-2.66zM263.15 723.58h2.66v8.20h-2.66zM268.47 723.58h2.66v8.20h-2.66zM273.80 723.58h2.66v8.20h-2.66zM284.45 723.58h2.66v8.20h-2.66zM300.43 723.58h2.66v8.20h-2.66zM311.09 723.58h2.66v8.20h-2.66zM319.08 723.58h2.66v8.20h-2.66zM369.68 723.58h2.66v8.20h-2.66zM393.65 723.58h2.66v8.20h-2.66zM398.98 723.58h2.66v8.20h-2.66zM50.08 731.78h2.66v8.20h-2.66zM90.03 731.78h2.66v8.20h-2.66zM92.69 731.78h2.66v8.20h-2.66zM98.02 731.78h2.66v8.20h-2.66zM100.68 731.78h2.66v8.20h-2.66zM106.01 731.78h2.66v8.20h-2.66zM116.66 731.78h2.66v8.20h-2.66zM140.63 731.78h2.66v8.20h-2.66zM161.94 731.78h2.66v8.20h-2.66zM167.27 731.78h2.66v8.20h-2.66zM188.57 731.78h2.66v8.20h-2.66zM193.90 731.78h2.66v8.20h-2.66zM220.53 731.78h2.66v8.20h-2.66zM231.19 731.78h2.66v8.20h-2.66zM233.85 731.78h2.66v8.20h-2.66zM271.14 731.78h2.66v8.20h-2.66zM305.76 731.78h2.66v8.20h-2.66zM313.75 731.78h2.66v8.20h-2.66zM329.73 731.78h2.66v8.20h-2.66zM361.69 731.78h2.66v8.20h-2.66zM380.33 731.78h2.66v8.20h-2.66zM39.43 739.99h2.66v8.20h-2.66zM50.08 739.99h2.66v8.20h-2.66zM55.41 739.99h2.66v8.20h-2.66zM87.37 739.99h2.66v8.20h-2.66zM100.68 739.99h2.66v8.20h-2.66zM116.66 739.99h2.66v8.20h-2.66zM143.30 739.99h2.66v8.20h-2.66zM151.29 739.99h2.66v8.20h-2.66zM159.28 739.99h2.66v8.20h-2.66zM201.89 739.99h2.66v8.20h-2.66zM204.55 739.99h2.66v8.20h-2.66zM209.88 739.99h2.66v8.20h-2.66zM228.52 739.99h2.66v8.20h-2.66zM231.19 739.99h2.66v8.20h-2.66zM236.51 739.99h2.66v8.20h-2.66zM244.50 739.99h2.66v8.20h-2.66zM257.82 739.99h2.66v8.20h-2.66zM343.05 739.99h2.66v8.20h-2.66zM44.75 748.19h2.66v8.20h-2.66zM52.74 748.19h2.66v8.20h-2.66zM60.73 748.19h2.66v8.20h-2.66zM106.01 748.19h2.66v8.20h-2.66zM119.33 748.19h2.66v8.20h-2.66zM127.32 748.19h2.66v8.20h-2.66zM132.64 748.19h2.66v8.20h-2.66zM135.31 748.19h2.66v8.20h-2.66zM156.61 748.19h2.66v8.20h-2.66zM167.27 748.19h2.66v8.20h-2.66zM199.23 748.19h2.66v8.20h-2.66zM239.18 748.19h2.66v8.20h-2.66zM255.16 748.19h2.66v8.20h-2.66zM257.82 748.19h2.66v8.20h-2.66zM263.15 748.19h2.66v8.20h-2.66zM321.74 748.19h2.66v8.20h-2.66zM332.39 748.19h2.66v8.20h-2.66zM340.38 748.19h2.66v8.20h-2.66zM380.33 748.19h2.66v8.20h-2.66zM385.66 748.19h2.66v8.20h-2.66zM457.57 748.19h2.66v8.20h-2.66zM82.04 756.40h2.66v8.20h-2.66zM103.35 756.40h2.66v8.20h-2.66zM114.00 756.40h2.66v8.20h-2.66zM119.33 756.40h2.66v8.20h-2.66zM124.65 756.40h2.66v8.20h-2.66zM127.32 756.40h2.66v8.20h-2.66zM151.29 756.40h2.66v8.20h-2.66zM169.93 756.40h2.66v8.20h-2.66zM215.21 756.40h2.66v8.20h-2.66zM223.20 756.40h2.66v8.20h-2.66zM225.86 756.40h2.66v8.20h-2.66zM303.10 756.40h2.66v8.20h-2.66zM311.09 756.40h2.66v8.20h-2.66zM359.03 756.40h2.66v8.20h-2.66zM380.33 756.40h2.66v8.20h-2.66zM406.97 756.40h2.66v8.20h-2.66zM489.53 756.40h2.66v8.20h-2.66z"/>
<path fill="rgb(245,245,250)" d="M50.08 567.70h2.66v8.20h-2.66zM90.03 567.70h2.66v8.20h-2.66zM100.68 567.70h2.66v8.20h-2.66zM127.32 567.70h2.66v8.20h-2.66zM161.94 567.70h2.66v8.20h-2.66zM199.23 567.70h2.66v8.20h-2.66zM204.55 567.70h2.66v8.20h-2.66zM244.50 567.70h2.66v8.20h-2.66zM247.17 567.70h2.66v8.20h-2.66zM263.15 567.70h2.66v8.20h-2.66zM287.12 567.70h2.66v8.20h-2.66zM311.09 567.70h2.66v8.20h-2.66zM313.75 567.70h2.66v8.20h-2.66zM345.71 567.70h2.66v8.20h-2.66zM353.70 567.70h2.66v8.20h-2.66zM356.36 567.70h2.66v8.20h-2.66zM361.69 567.70h2.66v8.20h-2.66zM372.34 567.70h2.66v8.20h-2.66zM388.32 567.70h2.66v8.20h-2.66zM406.97 567.70h2.66v8.20h-2.66zM409.63 567.70h2.66v8.20h-2.66zM417.62 567.70h2.66v8.20h-2.66zM446.92 567.70h2.66v8.20h-2.66zM486.87 567.70h2.66v8.20h-2.66zM494.86 567.70h2.66v8.20h-2.66zM508.17 567.70h2.66v8.20h-2.66zM34.10 575.90h2.66v8.20h-2.66zM84.70 575.90h2.66v8.20h-2.66zM124.65 575.90h2.66v8.20h-2.66zM135.31 575.90h2.66v8.20h-2.66zM137.97 575.90h2.66v8.20h-2.66zM143.30 575.90h2.66v8.20h-2.66zM159.28 575.90h2.66v8.20h-2.66zM164.60 575.90h2.66v8.20h-2.66zM180.58 575.90h2.66v8.20h-2.66zM193.90 575.90h2.66v8.20h-2.66zM199.23 575.90h2.66v8.20h-2.66zM223.20 575.90h2.66v8.20h-2.66zM225.86 575.90h2.66v8.20h-2.66zM247.17 575.90h2.66v8.20h-2.66zM249.83 575.90h2.66v8.20h-2.66zM273.80 575.90h2.66v8.20h-2.66zM287.12 575.90h2.66v8.20h-2.66zM292.44 575.90h2.66v8.20h-2.66zM321.74 575.90h2.66v8.20h-2.66zM324.40 575.90h2.66v8.20h-2.66zM332.39 575.90h2.66v8.20h-2.66zM337.72 575.90h2.66v8.20h-2.66zM353.70 575.90h2.66v8.20h-2.66zM361.69 575.90h2.66v8.20h-2.66zM364.35 575.90h2.66v8.20h-2.66zM383.00 575.90h2.66v8.20h-2.66zM406.97 575.90h2.66v8.20h-2.66zM412.29 575.90h2.66v8.20h-2.66zM428.27 575.90h2.66v8.20h-2.66zM454.91 575.90h2.66v8.20h-2.66zM460.23 575.90h2.66v8.20h-2.66zM473.55 575.90h2.66v8.20h-2.66zM478.88 575.90h2.66v8.20h-2.66zM98.02 584.11h2.66v8.20h-2.66zM116.66 584.11h2.66v8.20h-2.66zM119.33 584.11h2.66v8.20h-2.66zM127.32 584.11h2.66v8.20h-2.66zM137.97 584.11h2.66v8.20h-2.66zM140.63 584.11h2.66v8.20h-2.66zM156.61 584.11h2.66v8.20h-2.66zM188.57 584.11h2.66v8.20h-2.66zM191.24 584.11h2.66v8.20h-2.66zM199.23 584.11h2.66v8.20h-2.66zM220.53 584.11h2.66v8.20h-2.66zM279.13 584.11h2.66v8.20h-2.66zM295.11 584.11h2.66v8.20h-2.66zM297.77 584.11h2.66v8.20h-2.66zM335.06 584.11h2.66v8.20h-2.66zM337.72 584.11h2.66v8.20h-2.66zM343.05 584.11h2.66v8.20h-2.66zM359.03 584.11h2.66v8.20h-2.66zM367.02 584.11h2.66v8.20h-2.66zM369.68 584.11h2.66v8.20h-2.66zM390.99 584.11h2.66v8.20h-2.66zM430.94 584.11h2.66v8.20h-2.66zM444.25 584.11h2.66v8.20h-2.66zM449.58 584.11h2.66v8.20h-2.66zM454.91 584.11h2.66v8.20h-2.66zM478.88 584.11h2.66v8.20h-2.66zM116.66 592.31h2.66v8.20h-2.66zM204.55 592.31h2.66v8.20h-2.66zM212.54 592.31h2.66v8.20h-2.66zM223.20 592.31h2.66v8.20h-2.66zM244.50 592.31h2.66v8.20h-2.66zM247.17 592.31h2.66v8.20h-2.66zM260.48 592.31h2.66v8.20h-2.66zM268.47 592.31h2.66v8.20h-2.66zM276.46 592.31h2.66v8.20h-2.66zM279.13 592.31h2.66v8.20h-2.66zM329.73 592.31h2.66v8.20h-2.66zM343.05 592.31h2.66v8.20h-2.66zM345.71 592.31h2.66v8.20h-2.66zM348.37 592.31h2.66v8.20h-2.66zM351.04 592.31h2.66v8.20h-2.66zM372.34 592.31h2.66v8.20h-2.66zM375.01 592.31h2.66v8.20h-2.66zM385.66 592.31h2.66v8.20h-2.66zM390.99 592.31h2.66v8.20h-2.66zM409.63 592.31h2.66v8.20h-2.66zM422.95 592.31h2.66v8.20h-2.66zM425.61 592.31h2.66v8.20h-2.66zM428.27 592.31h2.66v8.20h-2.66zM436.26 592.31h2.66v8.20h-2.66zM441.59 592.31h2.66v8.20h-2.66zM446.92 592.31h2.66v8.20h-2.66zM462.90 592.31h2.66v8.20h-2.66zM468.22 592.31h2.66v8.20h-2.66zM489.53 592.31h2.66v8.20h-2.66zM84.70 600.52h2.66v8.20h-2.66zM95.36 600.52h2.66v8.20h-2.66zM116.66 600.52h2.66v8.20h-2.66zM188.57 600.52h2.66v8.20h-2.66zM196.56 600.52h2.66v8.20h-2.66zM212.54 600.52h2.66v8.20h-2.66zM215.21 600.52h2.66v8.20h-2.66zM233.85 600.52h2.66v8.20h-2.66zM236.51 600.52h2.66v8.20h-2.66zM311.09 600.52h2.66v8.20h-2.66zM316.41 600.52h2.66v8.20h-2.66zM321.74 600.52h2.66v8.20h-2.66zM327.07 600.52h2.66v8.20h-2.66zM332.39 600.52h2.66v8.20h-2.66zM337.72 600.52h2.66v8.20h-2.66zM351.04 600.52h2.66v8.20h-2.66zM353.70 600.52h2.66v8.20h-2.66zM356.36 600.52h2.66v8.20h-2.66zM359.03 600.52h2.66v8.20h-2.66zM367.02 600.52h2.66v8.20h-2.66zM375.01 600.52h2.66v8.20h-2.66zM383.00 600.52h2.66v8.20h-2.66zM385.66 600.52h2.66v8.20h-2.66zM396.31 600.52h2.66v8.20h-2.66zM430.94 600.52h2.66v8.20h-2.66zM452.24 600.52h2.66v8.20h-2.66zM484.20 600.52h2.66v8.20h-2.66zM502.85 600.52h2.66v8.20h-2.66zM505.51 600.52h2.66v8.20h-2.66zM508.17 600.52h2.66v8.20h-2.66zM36.76 608.72h2.66v8.20h-2.66zM151.29 608.72h2.66v8.20h-2.66zM244.50 608.72h2.66v8.20h-2.66zM295.11 608.72h2.66v8.20h-2.66zM308.42 608.72h2.66v8.20h-2.66zM321.74 608.72h2.66v8.20h-2.66zM361.69 608.72h2.66v8.20h-2.66zM375.01 608.72h2.66v8.20h-2.66zM409.63 608.72h2.66v8.20h-2.66zM449.58 608.72h2.66v8.20h-2.66zM460.23 608.72h2.66v8.20h-2.66zM462.90 608.72h2.66v8.20h-2.66zM486.87 608.72h2.66v8.20h-2.66zM500.18 608.72h2.66v8.20h-2.66zM135.31 616.93h2.66v8.20h-2.66zM137.97 616.93h2.66v8.20h-2.66zM161.94 616.93h2.66v8.20h-2.66zM180.58 616.93h2.66v8.20h-2.66zM212.54 616.93h2.66v8.20h-2.66zM217.87 616.93h2.66v8.20h-2.66zM233.85 616.93h2.66v8.20h-2.66zM279.13 616.93h2.66v8.20h-2.66zM303.10 616.93h2.66v8.20h-2.66zM313.75 616.93h2.66v8.20h-2.66zM329.73 616.93h2.66v8.20h-2.66zM335.06 616.93h2.66v8.20h-2.66zM353.70 616.93h2.66v8.20h-2.66zM361.69 616.93h2.66v8.20h-2.66zM364.35 616.93h2.66v8.20h-2.66zM367.02 616.93h2.66v8.20h-2.66zM380.33 616.93h2.66v8.20h-2.66zM383.00 616.93h2.66v8.20h-2.66zM385.66 616.93h2.66v8.20h-2.66zM401.64 616.93h2.66v8.20h-2.66zM420.28 616.93h2.66v8.20h-2.66zM444.25 616.93h2.66v8.20h-2.66zM462.90 616.93h2.66v8.20h-2.66zM465.56 616.93h2.66v8.20h-2.66zM489.53 616.93h2.66v8.20h-2.66zM502.85 616.93h2.66v8.20h-2.66zM510.84 616.93h2.66v8.20h-2.66zM79.38 625.13h2.66v8.20h-2.66zM119.33 625.13h2.66v8.20h-2.66zM143.30 625.13h2.66v8.20h-2.66zM172.59 625.13h2.66v8.20h-2.66zM209.88 625.13h2.66v8.20h-2.66zM223.20 625.13h2.66v8.20h-2.66zM239.18 625.13h2.66v8.20h-2.66zM268.47 625.13h2.66v8.20h-2.66zM287.12 625.13h2.66v8.20h-2.66zM292.44 625.13h2.66v8.20h-2.66zM329.73 625.13h2.66v8.20h-2.66zM351.04 625.13h2.66v8.20h-2.66zM361.69 625.13h2.66v8.20h-2.66zM364.35 625.13h2.66v8.20h-2.66zM367.02 625.13h2.66v8.20h-2.66zM398.98 625.13h2.66v8.20h-2.66zM478.88 625.13h2.66v8.20h-2.66zM484.20 625.13h2.66v8.20h-2.66zM500.18 625.13h2.66v8.20h-2.66zM95.36 633.33h2.66v8.20h-2.66zM145.96 633.33h2.66v8.20h-2.66zM159.28 633.33h2.66v8.20h-2.66zM167.27 633.33h2.66v8.20h-2.66zM201.89 633.33h2.66v8.20h-2.66zM225.86 633.33h2.66v8.20h-2.66zM236.51 633.33h2.66v8.20h-2.66zM249.83 633.33h2.66v8.20h-2.66zM268.47 633.33h2.66v8.20h-2.66zM273.80 633.33h2.66v8.20h-2.66zM281.79 633.33h2.66v8.20h-2.66zM313.75 633.33h2.66v8.20h-2.66zM340.38 633.33h2.66v8.20h-2.66zM343.05 633.33h2.66v8.20h-2.66zM353.70 633.33h2.66v8.20h-2.66zM359.03 633.33h2.66v8.20h-2.66zM361.69 633.33h2.66v8.20h-2.66zM364.35 633.33h2.66v8.20h-2.66zM385.66 633.33h2.66v8.20h-2.66zM393.65 633.33h2.66v8.20h-2.66zM460.23 633.33h2.66v8.20h-2.66zM470.89 633.33h2.66v8.20h-2.66zM478.88 633.33h2.66v8.20h-2.66zM486.87 633.33h2.66v8.20h-2.66zM492.19 633.33h2.66v8.20h-2.66zM510.84 633.33h2.66v8.20h-2.66zM42.09 641.54h2.66v8.20h-2.66zM95.36 641.54h2.66v8.20h-2.66zM98.02 641.54h2.66v8.20h-2.66zM111.34 641.54h2.66v8.20h-2.66zM159.28 641.54h2.66v8.20h-2.66zM175.26 641.54h2.66v8.20h-2.66zM196.56 641.54h2.66v8.20h-2.66zM199.23 641.54h2.66v8.20h-2.66zM209.88 641.54h2.66v8.20h-2.66zM249.83 641.54h2.66v8.20h-2.66zM257.82 641.54h2.66v8.20h-2.66zM263.15 641.54h2.66v8.20h-2.66zM273.80 641.54h2.66v8.20h-2.66zM292.44 641.54h2.66v8.20h-2.66zM340.38 641.54h2.66v8.20h-2.66zM372.34 641.54h2.66v8.20h-2.66zM375.01 641.54h2.66v8.20h-2.66zM380.33 641.54h2.66v8.20h-2.66zM425.61 641.54h2.66v8.20h-2.66zM454.91 641.54h2.66v8.20h-2.66zM460.23 641.54h2.66v8.20h-2.66zM500.18 641.54h2.66v8.20h-2.66zM502.85 641.54h2.66v8.20h-2.66zM508.17 641.54h2.66v8.20h-2.66zM47.42 649.74h2.66v8.20h-2.66zM68.72 649.74h2.66v8.20h-2.66zM90.03 649.74h2.66v8.20h-2.66zM92.69 649.74h2.66v8.20h-2.66zM98.02 649.74h2.66v8.20h-2.66zM100.68 649.74h2.66v8.20h-2.66zM103.35 649.74h2.66v8.20h-2.66zM114.00 649.74h2.66v8.20h-2.66zM119.33 649.74h2.66v8.20h-2.66zM124.65 649.74h2.66v8.20h-2.66zM135.31 649.74h2.66v8.20h-2.66zM143.30 649.74h2.66v8.20h-2.66zM167.27 649.74h2.66v8.20h-2.66zM185.91 649.74h2.66v8.20h-2.66zM191.24 649.74h2.66v8.20h-2.66zM212.54 649.74h2.66v8.20h-2.66zM215.21 649.74h2.66v8.20h-2.66zM223.20 649.74h2.66v8.20h-2.66zM247.17 649.74h2.66v8.20h-2.66zM260.48 649.74h2.66v8.20h-2.66zM271.14 649.74h2.66v8.20h-2.66zM273.80 649.74h2.66v8.20h-2.66zM279.13 649.74h2.66v8.20h-2.66zM300.43 649.74h2.66v8.20h-2.66zM311.09 649.74h2.66v8.20h-2.66zM321.74 649.74h2.66v8.20h-2.66zM332.39 649.74h2.66v8.20h-2.66zM353.70 649.74h2.66v8.20h-2.66zM359.03 649.74h2.66v8.20h-2.66zM367.02 649.74h2.66v8.20h-2.66zM369.68 649.74h2.66v8.20h-2.66zM390.99 649.74h2.66v8.20h-2.66zM441.59 649.74h2.66v8.20h-2.66zM444.25 649.74h2.66v8.20h-2.66zM446.92 649.74h2.66v8.20h-2.66zM452.24 649.74h2.66v8.20h-2.66zM489.53 649.74h2.66v8.20h-2.66zM492.19 649.74h2.66v8.20h-2.66zM42.09 657.95h2.66v8.20h-2.66zM44.75 657.95h2.66v8.20h-2.66zM47.42 657.95h2.66v8.20h-2.66zM60.73 657.95h2.66v8.20h-2.66zM92.69 657.95h2.66v8.20h-2.66zM121.99 657.95h2.66v8.20h-2.66zM124.65 657.95h2.66v8.20h-2.66zM143.30 657.95h2.66v8.20h-2.66zM145.96 657.95h2.66v8.20h-2.66zM159.28 657.95h2.66v8.20h-2.66zM161.94 657.95h2.66v8.20h-2.66zM169.93 657.95h2.66v8.20h-2.66zM185.91 657.95h2.66v8.20h-2.66zM220.53 657.95h2.66v8.20h-2.66zM239.18 657.95h2.66v8.20h-2.66zM265.81 657.95h2.66v8.20h-2.66zM271.14 657.95h2.66v8.20h-2.66zM295.11 657.95h2.66v8.20h-2.66zM297.77 657.95h2.66v8.20h-2.66zM337.72 657.95h2.66v8.20h-2.66zM345.71 657.95h2.66v8.20h-2.66zM351.04 657.95h2.66v8.20h-2.66zM359.03 657.95h2.66v8.20h-2.66zM380.33 657.95h2.66v8.20h-2.66zM398.98 657.95h2.66v8.20h-2.66zM409.63 657.95h2.66v8.20h-2.66zM414.96 657.95h2.66v8.20h-2.66zM420.28 657.95h2.66v8.20h-2.66zM422.95 657.95h2.66v8.20h-2.66zM425.61 657.95h2.66v8.20h-2.66zM428.27 657.95h2.66v8.20h-2.66zM433.60 657.95h2.66v8.20h-2.66zM468.22 657.95h2.66v8.20h-2.66zM478.88 657.95h2.66v8.20h-2.66zM492.19 657.95h2.66v8.20h-2.66zM494.86 657.95h2.66v8.20h-2.66zM497.52 657.95h2.66v8.20h-2.66zM500.18 657.95h2.66v8.20h-2.66zM34.10 666.15h2.66v8.20h-2.66zM36.76 666.15h2.66v8.20h-2.66zM39.43 666.15h2.66v8.20h-2.66zM44.75 666.15h2.66v8.20h-2.66zM52.74 666.15h2.66v8.20h-2.66zM55.41 666.15h2.66v8.20h-2.66zM58.07 666.15h2.66v8.20h-2.66zM66.06 666.15h2.66v8.20h-2.66zM79.38 666.15h2.66v8.20h-2.66zM87.37 666.15h2.66v8.20h-2.66zM129.98 666.15h2.66v8.20h-2.66zM132.64 666.15h2.66v8.20h-2.66zM145.96 666.15h2.66v8.20h-2.66zM148.62 666.15h2.66v8.20h-2.66zM151.29 666.15h2.66v8.20h-2.66zM156.61 666.15h2.66v8.20h-2.66zM164.60 666.15h2.66v8.20h-2.66zM177.92 666.15h2.66v8.20h-2.66zM185.91 666.15h2.66v8.20h-2.66zM191.24 666.15h2.66v8.20h-2.66zM215.21 666.15h2.66v8.20h-2.66zM228.52 666.15h2.66v8.20h-2.66zM241.84 666.15h2.66v8.20h-2.66zM252.49 666.15h2.66v8.20h-2.66zM273.80 666.15h2.66v8.20h-2.66zM295.11 666.15h2.66v8.20h-2.66zM305.76 666.15h2.66v8.20h-2.66zM311.09 666.15h2.66v8.20h-2.66zM313.75 666.15h2.66v8.20h-2.66zM319.08 666.15h2.66v8.20h-2.66zM335.06 666.15h2.66v8.20h-2.66zM340.38 666.15h2.66v8.20h-2.66zM343.05 666.15h2.66v8.20h-2.66zM353.70 666.15h2.66v8.20h-2.66zM356.36 666.15h2.66v8.20h-2.66zM367.02 666.15h2.66v8.20h-2.66zM375.01 666.15h2.66v8.20h-2.66zM398.98 666.15h2.66v8.20h-2.66zM404.30 666.15h2.66v8.20h-2.66zM430.94 666.15h2.66v8.20h-2.66zM470.89 666.15h2.66v8.20h-2.66zM500.18 666.15h2.66v8.20h-2.66zM505.51 666.15h2.66v8.20h-2.66zM36.76 674.35h2.66v8.20h-2.66zM42.09 674.35h2.66v8.20h-2.66zM44.75 674.35h2.66v8.20h-2.66zM47.42 674.35h2.66v8.20h-2.66zM55.41 674.35h2.66v8.20h-2.66zM60.73 674.35h2.66v8.20h-2.66zM90.03 674.35h2.66v8.20h-2.66zM106.01 674.35h2.66v8.20h-2.66zM116.66 674.35h2.66v8.20h-2.66zM124.65 674.35h2.66v8.20h-2.66zM129.98 674.35h2.66v8.20h-2.66zM137.97 674.35h2.66v8.20h-2.66zM143.30 674.35h2.66v8.20h-2.66zM156.61 674.35h2.66v8.20h-2.66zM164.60 674.35h2.66v8.20h-2.66zM172.59 674.35h2.66v8.20h-2.66zM177.92 674.35h2.66v8.20h-2.66zM204.55 674.35h2.66v8.20h-2.66zM207.22 674.35h2.66v8.20h-2.66zM212.54 674.35h2.66v8.20h-2.66zM215.21 674.35h2.66v8.20h-2.66zM225.86 674.35h2.66v8.20h-2.66zM241.84 674.35h2.66v8.20h-2.66zM257.82 674.35h2.66v8.20h-2.66zM297.77 674.35h2.66v8.20h-2.66zM303.10 674.35h2.66v8.20h-2.66zM305.76 674.35h2.66v8.20h-2.66zM340.38 674.35h2.66v8.20h-2.66zM345.71 674.35h2.66v8.20h-2.66zM356.36 674.35h2.66v8.20h-2.66zM375.01 674.35h2.66v8.20h-2.66zM377.67 674.35h2.66v8.20h-2.66zM401.64 674.35h2.66v8.20h-2.66zM406.97 674.35h2.66v8.20h-2.66zM414.96 674.35h2.66v8.20h-2.66zM428.27 674.35h2.66v8.20h-2.66zM430.94 674.35h2.66v8.20h-2.66zM438.93 674.35h2.66v8.20h-2.66zM441.59 674.35h2.66v8.20h-2.66zM476.21 674.35h2.66v8.20h-2.66zM484.20 674.35h2.66v8.20h-2.66zM489.53 674.35h2.66v8.20h-2.66zM47.42 682.56h2.66v8.20h-2.66zM50.08 682.56h2.66v8.20h-2.66zM76.71 682.56h2.66v8.20h-2.66zM82.04 682.56h2.66v8.20h-2.66zM90.03 682.56h2.66v8.20h-2.66zM95.36 682.56h2.66v8.20h-2.66zM103.35 682.56h2.66v8.20h-2.66zM106.01 682.56h2.66v8.20h-2.66zM108.67 682.56h2.66v8.20h-2.66zM121.99 682.56h2.66v8.20h-2.66zM137.97 682.56h2.66v8.20h-2.66zM143.30 682.56h2.66v8.20h-2.66zM145.96 682.56h2.66v8.20h-2.66zM148.62 682.56h2.66v8.20h-2.66zM159.28 682.56h2.66v8.20h-2.66zM177.92 682.56h2.66v8.20h-2.66zM183.25 682.56h2.66v8.20h-2.66zM196.56 682.56h2.66v8.20h-2.66zM207.22 682.56h2.66v8.20h-2.66zM209.88 682.56h2.66v8.20h-2.66zM212.54 682.56h2.66v8.20h-2.66zM217.87 682.56h2.66v8.20h-2.66zM236.51 682.56h2.66v8.20h-2.66zM241.84 682.56h2.66v8.20h-2.66zM252.49 682.56h2.66v8.20h-2.66zM265.81 682.56h2.66v8.20h-2.66zM279.13 682.56h2.66v8.20h-2.66zM281.79 682.56h2.66v8.20h-2.66zM303.10 682.56h2.66v8.20h-2.66zM340.38 682.56h2.66v8.20h-2.66zM353.70 682.56h2.66v8.20h-2.66zM367.02 682.56h2.66v8.20h-2.66zM396.31 682.56h2.66v8.20h-2.66zM412.29 682.56h2.66v8.20h-2.66zM422.95 682.56h2.66v8.20h-2.66zM36.76 690.76h2.66v8.20h-2.66zM42.09 690.76h2.66v8.20h-2.66zM44.75 690.76h2.66v8.20h-2.66zM55.41 690.76h2.66v8.20h-2.66zM76.71 690.76h2.66v8.20h-2.66zM106.01 690.76h2.66v8.20h-2.66zM129.98 690.76h2.66v8.20h-2.66zM135.31 690.76h2.66v8.20h-2.66zM140.63 690.76h2.66v8.20h-2.66zM153.95 690.76h2.66v8.20h-2.66zM161.94 690.76h2.66v8.20h-2.66zM172.59 690.76h2.66v8.20h-2.66zM193.90 690.76h2.66v8.20h-2.66zM196.56 690.76h2.66v8.20h-2.66zM204.55 690.76h2.66v8.20h-2.66zM217.87 690.76h2.66v8.20h-2.66zM244.50 690.76h2.66v8.20h-2.66zM273.80 690.76h2.66v8.20h-2.66zM279.13 690.76h2.66v8.20h-2.66zM284.45 690.76h2.66v8.20h-2.66zM289.78 690.76h2.66v8.20h-2.66zM303.10 690.76h2.66v8.20h-2.66zM305.76 690.76h2.66v8.20h-2.66zM311.09 690.76h2.66v8.20h-2.66zM313.75 690.76h2.66v8.20h-2.66zM321.74 690.76h2.66v8.20h-2.66zM324.40 690.76h2.66v8.20h-2.66zM343.05 690.76h2.66v8.20h-2.66zM375.01 690.76h2.66v8.20h-2.66zM377.67 690.76h2.66v8.20h-2.66zM385.66 690.76h2.66v8.20h-2.66zM422.95 690.76h2.66v8.20h-2.66zM42.09 698.97h2.66v8.20h-2.66zM44.75 698.97h2.66v8.20h-2.66zM50.08 698.97h2.66v8.20h-2.66zM60.73 698.97h2.66v8.20h-2.66zM71.39 698.97h2.66v8.20h-2.66zM79.38 698.97h2.66v8.20h-2.66zM87.37 698.97h2.66v8.20h-2.66zM98.02 698.97h2.66v8.20h-2.66zM111.34 698.97h2.66v8.20h-2.66zM116.66 698.97h2.66v8.20h-2.66zM119.33 698.97h2.66v8.20h-2.66zM121.99 698.97h2.66v8.20h-2.66zM129.98 698.97h2.66v8.20h-2.66zM143.30 698.97h2.66v8.20h-2.66zM156.61 698.97h2.66v8.20h-2.66zM177.92 698.97h2.66v8.20h-2.66zM191.24 698.97h2.66v8.20h-2.66zM196.56 698.97h2.66v8.20h-2.66zM233.85 698.97h2.66v8.20h-2.66zM236.51 698.97h2.66v8.20h-2.66zM265.81 698.97h2.66v8.20h-2.66zM268.47 698.97h2.66v8.20h-2.66zM279.13 698.97h2.66v8.20h-2.66zM297.77 698.97h2.66v8.20h-2.66zM300.43 698.97h2.66v8.20h-2.66zM305.76 698.97h2.66v8.20h-2.66zM313.75 698.97h2.66v8.20h-2.66zM356.36 698.97h2.66v8.20h-2.66zM375.01 698.97h2.66v8.20h-2.66zM390.99 698.97h2.66v8.20h-2.66zM393.65 698.97h2.66v8.20h-2.66zM404.30 698.97h2.66v8.20h-2.66zM68.72 707.17h2.66v8.20h-2.66zM87.37 707.17h2.66v8.20h-2.66zM92.69 707.17h2.66v8.20h-2.66zM98.02 707.17h2.66v8.20h-2.66zM103.35 707.17h2.66v8.20h-2.66zM106.01 707.17h2.66v8.20h-2.66zM143.30 707.17h2.66v8.20h-2.66zM148.62 707.17h2.66v8.20h-2.66zM164.60 707.17h2.66v8.20h-2.66zM169.93 707.17h2.66v8.20h-2.66zM196.56 707.17h2.66v8.20h-2.66zM201.89 707.17h2.66v8.20h-2.66zM215.21 707.17h2.66v8.20h-2.66zM217.87 707.17h2.66v8.20h-2.66zM255.16 707.17h2.66v8.20h-2.66zM257.82 707.17h2.66v8.20h-2.66zM268.47 707.17h2.66v8.20h-2.66zM279.13 707.17h2.66v8.20h-2.66zM287.12 707.17h2.66v8.20h-2.66zM295.11 707.17h2.66v8.20h-2.66zM305.76 707.17h2.66v8.20h-2.66zM390.99 707.17h2.66v8.20h-2.66zM36.76 715.38h2.66v8.20h-2.66zM52.74 715.38h2.66v8.20h-2.66zM60.73 715.38h2.66v8.20h-2.66zM74.05 715.38h2.66v8.20h-2.66zM79.38 715.38h2.66v8.20h-2.66zM116.66 715.38h2.66v8.20h-2.66zM151.29 715.38h2.66v8.20h-2.66zM156.61 715.38h2.66v8.20h-2.66zM161.94 715.38h2.66v8.20h-2.66zM212.54 715.38h2.66v8.20h-2.66zM233.85 715.38h2.66v8.20h-2.66zM239.18 715.38h2.66v8.20h-2.66zM244.50 715.38h2.66v8.20h-2.66zM247.17 715.38h2.66v8.20h-2.66zM255.16 715.38h2.66v8.20h-2.66zM257.82 715.38h2.66v8.20h-2.66zM265.81 715.38h2.66v8.20h-2.66zM289.78 715.38h2.66v8.20h-2.66zM292.44 715.38h2.66v8.20h-2.66zM356.36 715.38h2.66v8.20h-2.66zM359.03 715.38h2.66v8.20h-2.66zM369.68 715.38h2.66v8.20h-2.66zM377.67 715.38h2.66v8.20h-2.66zM380.33 715.38h2.66v8.20h-2.66zM42.09 723.58h2.66v8.20h-2.66zM47.42 723.58h2.66v8.20h-2.66zM58.07 723.58h2.66v8.20h-2.66zM82.04 723.58h2.66v8.20h-2.66zM116.66 723.58h2.66v8.20h-2.66zM119.33 723.58h2.66v8.20h-2.66zM135.31 723.58h2.66v8.20h-2.66zM137.97 723.58h2.66v8.20h-2.66zM143.30 723.58h2.66v8.20h-2.66zM148.62 723.58h2.66v8.20h-2.66zM151.29 723.58h2.66v8.20h-2.66zM159.28 723.58h2.66v8.20h-2.66zM172.59 723.58h2.66v8.20h-2.66zM180.58 723.58h2.66v8.20h-2.66zM183.25 723.58h2.66v8.20h-2.66zM185.91 723.58h2.66v8.20h-2.66zM201.89 723.58h2.66v8.20h-2.66zM209.88 723.58h2.66v8.20h-2.66zM212.54 723.58h2.66v8.20h-2.66zM217.87 723.58h2.66v8.20h-2.66zM220.53 723.58h2.66v8.20h-2.66zM244.50 723.58h2.66v8.20h-2.66zM255.16 723.58h2.66v8.20h-2.66zM279.13 723.58h2.66v8.20h-2.66zM324.40 723.58h2.66v8.20h-2.66zM335.06 723.58h2.66v8.20h-2.66zM345.71 723.58h2.66v8.20h-2.66zM348.37 723.58h2.66v8.20h-2.66zM353.70 723.58h2.66v8.20h-2.66zM372.34 723.58h2.66v8.20h-2.66zM383.00 723.58h2.66v8.20h-2.66zM428.27 723.58h2.66v8.20h-2.66zM34.10 731.78h2.66v8.20h-2.66zM66.06 731.78h2.66v8.20h-2.66zM71.39 731.78h2.66v8.20h-2.66zM108.67 731.78h2.66v8.20h-2.66zM143.30 731.78h2.66v8.20h-2.66zM164.60 731.78h2.66v8.20h-2.66zM169.93 731.78h2.66v8.20h-2.66zM177.92 731.78h2.66v8.20h-2.66zM180.58 731.78h2.66v8.20h-2.66zM196.56 731.78h2.66v8.20h-2.66zM209.88 731.78h2.66v8.20h-2.66zM212.54 731.78h2.66v8.20h-2.66zM217.87 731.78h2.66v8.20h-2.66zM255.16 731.78h2.66v8.20h-2.66zM273.80 731.78h2.66v8.20h-2.66zM289.78 731.78h2.66v8.20h-2.66zM292.44 731.78h2.66v8.20h-2.66zM303.10 731.78h2.66v8.20h-2.66zM327.07 731.78h2.66v8.20h-2.66zM367.02 731.78h2.66v8.20h-2.66zM409.63 731.78h2.66v8.20h-2.66zM44.75 739.99h2.66v8.20h-2.66zM47.42 739.99h2.66v8.20h-2.66zM60.73 739.99h2.66v8.20h-2.66zM63.40 739.99h2.66v8.20h-2.66zM66.06 739.99h2.66v8.20h-2.66zM68.72 739.99h2.66v8.20h-2.66zM74.05 739.99h2.66v8.20h-2.66zM82.04 739.99h2.66v8.20h-2.66zM84.70 739.99h2.66v8.20h-2.66zM95.36 739.99h2.66v8.20h-2.66zM98.02 739.99h2.66v8.20h-2.66zM111.34 739.99h2.66v8.20h-2.66zM119.33 739.99h2.66v8.20h-2.66zM121.99 739.99h2.66v8.20h-2.66zM124.65 739.99h2.66v8.20h-2.66zM137.97 739.99h2.66v8.20h-2.66zM156.61 739.99h2.66v8.20h-2.66zM177.92 739.99h2.66v8.20h-2.66zM188.57 739.99h2.66v8.20h-2.66zM196.56 739.99h2.66v8.20h-2.66zM217.87 739.99h2.66v8.20h-2.66zM225.86 739.99h2.66v8.20h-2.66zM239.18 739.99h2.66v8.20h-2.66zM247.17 739.99h2.66v8.20h-2.66zM260.48 739.99h2.66v8.20h-2.66zM273.80 739.99h2.66v8.20h-2.66zM279.13 739.99h2.66v8.20h-2.66zM311.09 739.99h2.66v8.20h-2.66zM313.75 739.99h2.66v8.20h-2.66zM321.74 739.99h2.66v8.20h-2.66zM324.40 739.99h2.66v8.20h-2.66zM351.04 739.99h2.66v8.20h-2.66zM375.01 739.99h2.66v8.20h-2.66zM425.61 739.99h2.66v8.20h-2.66zM468.22 739.99h2.66v8.20h-2.66zM36.76 748.19h2.66v8.20h-2.66zM42.09 748.19h2.66v8.20h-2.66zM50.08 748.19h2.66v8.20h-2.66zM63.40 748.19h2.66v8.20h-2.66zM79.38 748.19h2.66v8.20h-2.66zM90.03 748.19h2.66v8.20h-2.66zM100.68 748.19h2.66v8.20h-2.66zM108.67 748.19h2.66v8.20h-2.66zM114.00 748.19h2.66v8.20h-2.66zM129.98 748.19h2.66v8.20h-2.66zM137.97 748.19h2.66v8.20h-2.66zM151.29 748.19h2.66v8.20h-2.66zM159.28 748.19h2.66v8.20h-2.66zM196.56 748.19h2.66v8.20h-2.66zM209.88 748.19h2.66v8.20h-2.66zM244.50 748.19h2.66v8.20h-2.66zM249.83 748.19h2.66v8.20h-2.66zM303.10 748.19h2.66v8.20h-2.66zM313.75 748.19h2.66v8.20h-2.66zM337.72 748.19h2.66v8.20h-2.66zM356.36 748.19h2.66v8.20h-2.66zM398.98 748.19h2.66v8.20h-2.66zM34.10 756.40h2.66v8.20h-2.66zM39.43 756.40h2.66v8.20h-2.66zM58.07 756.40h2.66v8.20h-2.66zM60.73 756.40h2.66v8.20h-2.66zM63.40 756.40h2.66v8.20h-2.66zM66.06 756.40h2.66v8.20h-2.66zM76.71 756.40h2.66v8.20h-2.66zM87.37 756.40h2.66v8.20h-2.66zM92.69 756.40h2.66v8.20h-2.66zM98.02 756.40h2.66v8.20h-2.66zM143.30 756.40h2.66v8.20h-2.66zM145.96 756.40h2.66v8.20h-2.66zM159.28 756.40h2.66v8.20h-2.66zM161.94 756.40h2.66v8.20h-2.66zM167.27 756.40h2.66v8.20h-2.66zM172.59 756.40h2.66v8.20h-2.66zM175.26 756.40h2.66v8.20h-2.66zM193.90 756.40h2.66v8.20h-2.66zM204.55 756.40h2.66v8.20h-2.66zM231.19 756.40h2.66v8.20h-2.66zM249.83 756.40h2.66v8.20h-2.66zM252.49 756.40h2.66v8.20h-2.66zM255.16 756.40h2.66v8.20h-2.66zM260.48 756.40h2.66v8.20h-2.66zM284.45 756.40h2.66v8.20h-2.66zM287.12 756.40h2.66v8.20h-2.66zM319.08 756.40h2.66v8.20h-2.66zM337.72 756.40h2.66v8.20h-2.66zM343.05 756.40h2.66v8.20h-2.66zM369.68 756.40h2.66v8.20h-2.66zM409.63 756.40h2.66v8.20h-2.66zM412.29 756.40h2.66v8.20h-2.66zM422.95 756.40h2.66v8.20h-2.66zM425.61 756.40h2.66v8.20h-2.66zM449.58 756.40h2.66v8.20h-2.66z"/>
<path fill="rgb(252,244,244)" d="M68.72 567.70h2.66v8.20h-2.66zM74.05 567.70h2.66v8.20h-2.66zM84.70 567.70h2.66v8.20h-2.66zM137.97 567.70h2.66v8.20h-2.66zM140.63 567.70h2.66v8.20h-2.66zM143.30 567.70h2.66v8.20h-2.66zM151.29 567.70h2.66v8.20h-2.66zM153.95 567.70h2.66v8.20h-2.66zM164.60 567.70h2.66v8.20h-2.66zM180.58 567.70h2.66v8.20h-2.66zM183.25 567.70h2.66v8.20h-2.66zM185.91 567.70h2.66v8.20h-2.66zM212.54 567.70h2.66v8.20h-2.66zM228.52 567.70h2.66v8.20h-2.66zM236.51 567.70h2.66v8.20h-2.66zM257.82 567.70h2.66v8.20h-2.66zM265.81 567.70h2.66v8.20h-2.66zM268.47 567.70h2.66v8.20h-2.66zM271.14 567.70h2.66v8.20h-2.66zM273.80 567.70h2.66v8.20h-2.66zM300.43 567.70h2.66v8.20h-2.66zM305.76 567.70h2.66v8.20h-2.66zM319.08 567.70h2.66v8.20h-2.66zM329.73 567.70h2.66v8.20h-2.66zM348.37 567.70h2.66v8.20h-2.66zM359.03 567.70h2.66v8.20h-2.66zM393.65 567.70h2.66v8.20h-2.66zM420.28 567.70h2.66v8.20h-2.66zM484.20 567.70h2.66v8.20h-2.66zM489.53 567.70h2.66v8.20h-2.66zM55.41 575.90h2.66v8.20h-2.66zM63.40 575.90h2.66v8.20h-2.66zM76.71 575.90h2.66v8.20h-2.66zM95.36 575.90h2.66v8.20h-2.66zM98.02 575.90h2.66v8.20h-2.66zM100.68 575.90h2.66v8.20h-2.66zM106.01 575.90h2.66v8.20h-2.66zM111.34 575.90h2.66v8.20h-2.66zM116.66 575.90h2.66v8.20h-2.66zM119.33 575.90h2.66v8.20h-2.66zM127.32 575.90h2.66v8.20h-2.66zM140.63 575.90h2.66v8.20h-2.66zM145.96 575.90h2.66v8.20h-2.66zM196.56 575.90h2.66v8.20h-2.66zM231.19 575.90h2.66v8.20h-2.66zM239.18 575.90h2.66v8.20h-2.66zM241.84 575.90h2.66v8.20h-2.66zM265.81 575.90h2.66v8.20h-2.66zM268.47 575.90h2.66v8.20h-2.66zM271.14 575.90h2.66v8.20h-2.66zM284.45 575.90h2.66v8.20h-2.66zM311.09 575.90h2.66v8.20h-2.66zM316.41 575.90h2.66v8.20h-2.66zM327.07 575.90h2.66v8.20h-2.66zM348.37 575.90h2.66v8.20h-2.66zM369.68 575.90h2.66v8.20h-2.66zM377.67 575.90h2.66v8.20h-2.66zM409.63 575.90h2.66v8.20h-2.66zM417.62 575.90h2.66v8.20h-2.66zM422.95 575.90h2.66v8.20h-2.66zM436.26 575.90h2.66v8.20h-2.66zM444.25 575.90h2.66v8.20h-2.66zM465.56 575.90h2.66v8.20h-2.66zM476.21 575.90h2.66v8.20h-2.66zM494.86 575.90h2.66v8.20h-2.66zM508.17 575.90h2.66v8.20h-2.66zM50.08 584.11h2.66v8.20h-2.66zM114.00 584.11h2.66v8.20h-2.66zM124.65 584.11h2.66v8.20h-2.66zM169.93 584.11h2.66v8.20h-2.66zM196.56 584.11h2.66v8.20h-2.66zM209.88 584.11h2.66v8.20h-2.66zM212.54 584.11h2.66v8.20h-2.66zM215.21 584.11h2.66v8.20h-2.66zM228.52 584.11h2.66v8.20h-2.66zM252.49 584.11h2.66v8.20h-2.66zM263.15 584.11h2.66v8.20h-2.66zM271.14 584.11h2.66v8.20h-2.66zM305.76 584.11h2.66v8.20h-2.66zM308.42 584.11h2.66v8.20h-2.66zM319.08 584.11h2.66v8.20h-2.66zM348.37 584.11h2.66v8.20h-2.66zM383.00 584.11h2.66v8.20h-2.66zM428.27 584.11h2.66v8.20h-2.66zM470.89 584.11h2.66v8.20h-2.66zM481.54 584.11h2.66v8.20h-2.66zM505.51 584.11h2.66v8.20h-2.66zM34.10 592.31h2.66v8.20h-2.66zM36.76 592.31h2.66v8.20h-2.66zM50.08 592.31h2.66v8.20h-2.66zM60.73 592.31h2.66v8.20h-2.66zM71.39 592.31h2.66v8.20h-2.66zM84.70 592.31h2.66v8.20h-2.66zM108.67 592.31h2.66v8.20h-2.66zM111.34 592.31h2.66v8.20h-2.66zM114.00 592.31h2.66v8.20h-2.66zM137.97 592.31h2.66v8.20h-2.66zM164.60 592.31h2.66v8.20h-2.66zM177.92 592.31h2.66v8.20h-2.66zM199.23 592.31h2.66v8.20h-2.66zM207.22 592.31h2.66v8.20h-2.66zM220.53 592.31h2.66v8.20h-2.66zM231.19 592.31h2.66v8.20h-2.66zM239.18 592.31h2.66v8.20h-2.66zM241.84 592.31h2.66v8.20h-2.66zM265.81 592.31h2.66v8.20h-2.66zM287.12 592.31h2.66v8.20h-2.66zM289.78 592.31h2.66v8.20h-2.66zM308.42 592.31h2.66v8.20h-2.66zM316.41 592.31h2.66v8.20h-2.66zM321.74 592.31h2.66v8.20h-2.66zM324.40 592.31h2.66v8.20h-2.66zM340.38 592.31h2.66v8.20h-2.66zM383.00 592.31h2.66v8.20h-2.66zM404.30 592.31h2.66v8.20h-2.66zM42.09 600.52h2.66v8.20h-2.66zM71.39 600.52h2.66v8.20h-2.66zM87.37 600.52h2.66v8.20h-2.66zM98.02 600.52h2.66v8.20h-2.66zM100.68 600.52h2.66v8.20h-2.66zM103.35 600.52h2.66v8.20h-2.66zM111.34 600.52h2.66v8.20h-2.66zM129.98 600.52h2.66v8.20h-2.66zM151.29 600.52h2.66v8.20h-2.66zM161.94 600.52h2.66v8.20h-2.66zM164.60 600.52h2.66v8.20h-2.66zM177.92 600.52h2.66v8.20h-2.66zM193.90 600.52h2.66v8.20h-2.66zM225.86 600.52h2.66v8.20h-2.66zM241.84 600.52h2.66v8.20h-2.66zM257.82 600.52h2.66v8.20h-2.66zM273.80 600.52h2.66v8.20h-2.66zM281.79 600.52h2.66v8.20h-2.66zM313.75 600.52h2.66v8.20h-2.66zM364.35 600.52h2.66v8.20h-2.66zM398.98 600.52h2.66v8.20h-2.66zM401.64 600.52h2.66v8.20h-2.66zM404.30 600.52h2.66v8.20h-2.66zM414.96 600.52h2.66v8.20h-2.66zM449.58 600.52h2.66v8.20h-2.66zM510.84 600.52h2.66v8.20h-2.66zM42.09 608.72h2.66v8.20h-2.66zM47.42 608.72h2.66v8.20h-2.66zM68.72 608.72h2.66v8.20h-2.66zM71.39 608.72h2.66v8.20h-2.66zM108.67 608.72h2.66v8.20h-2.66zM114.00 608.72h2.66v8.20h-2.66zM116.66 608.72h2.66v8.20h-2.66zM119.33 608.72h2.66v8.20h-2.66zM124.65 608.72h2.66v8.20h-2.66zM132.64 608.72h2.66v8.20h-2.66zM140.63 608.72h2.66v8.20h-2.66zM148.62 608.72h2.66v8.20h-2.66zM153.95 608.72h2.66v8.20h-2.66zM159.28 608.72h2.66v8.20h-2.66zM169.93 608.72h2.66v8.20h-2.66zM183.25 608.72h2.66v8.20h-2.66zM193.90 608.72h2.66v8.20h-2.66zM201.89 608.72h2.66v8.20h-2.66zM207.22 608.72h2.66v8.20h-2.66zM215.21 608.72h2.66v8.20h-2.66zM220.53 608.72h2.66v8.20h-2.66zM225.86 608.72h2.66v8.20h-2.66zM239.18 608.72h2.66v8.20h-2.66zM241.84 608.72h2.66v8.20h-2.66zM247.17 608.72h2.66v8.20h-2.66zM249.83 608.72h2.66v8.20h-2.66zM265.81 608.72h2.66v8.20h-2.66zM276.46 608.72h2.66v8.20h-2.66zM311.09 608.72h2.66v8.20h-2.66zM327.07 608.72h2.66v8.20h-2.66zM335.06 608.72h2.66v8.20h-2.66zM340.38 608.72h2.66v8.20h-2.66zM380.33 608.72h2.66v8.20h-2.66zM383.00 608.72h2.66v8.20h-2.66zM401.64 608.72h2.66v8.20h-2.66zM412.29 608.72h2.66v8.20h-2.66zM502.85 608.72h2.66v8.20h-2.66zM36.76 616.93h2.66v8.20h-2.66zM44.75 616.93h2.66v8.20h-2.66zM66.06 616.93h2.66v8.20h-2.66zM71.39 616.93h2.66v8.20h-2.66zM76.71 616.93h2.66v8.20h-2.66zM90.03 616.93h2.66v8.20h-2.66zM95.36 616.93h2.66v8.20h-2.66zM108.67 616.93h2.66v8.20h-2.66zM119.33 616.93h2.66v8.20h-2.66zM129.98 616.93h2.66v8.20h-2.66zM140.63 616.93h2.66v8.20h-2.66zM151.29 616.93h2.66v8.20h-2.66zM153.95 616.93h2.66v8.20h-2.66zM156.61 616.93h2.66v8.20h-2.66zM167.27 616.93h2.66v8.20h-2.66zM172.59 616.93h2.66v8.20h-2.66zM188.57 616.93h2.66v8.20h-2.66zM199.23 616.93h2.66v8.20h-2.66zM209.88 616.93h2.66v8.20h-2.66zM228.52 616.93h2.66v8.20h-2.66zM236.51 616.93h2.66v8.20h-2.66zM239.18 616.93h2.66v8.20h-2.66zM241.84 616.93h2.66v8.20h-2.66zM260.48 616.93h2.66v8.20h-2.66zM289.78 616.93h2.66v8.20h-2.66zM316.41 616.93h2.66v8.20h-2.66zM340.38 616.93h2.66v8.20h-2.66zM356.36 616.93h2.66v8.20h-2.66zM372.34 616.93h2.66v8.20h-2.66zM393.65 616.93h2.66v8.20h-2.66zM428.27 616.93h2.66v8.20h-2.66zM460.23 616.93h2.66v8.20h-2.66zM481.54 616.93h2.66v8.20h-2.66zM55.41 625.13h2.66v8.20h-2.66zM68.72 625.13h2.66v8.20h-2.66zM82.04 625.13h2.66v8.20h-2.66zM95.36 625.13h2.66v8.20h-2.66zM111.34 625.13h2.66v8.20h-2.66zM116.66 625.13h2.66v8.20h-2.66zM121.99 625.13h2.66v8.20h-2.66zM161.94 625.13h2.66v8.20h-2.66zM167.27 625.13h2.66v8.20h-2.66zM188.57 625.13h2.66v8.20h-2.66zM196.56 625.13h2.66v8.20h-2.66zM201.89 625.13h2.66v8.20h-2.66zM215.21 625.13h2.66v8.20h-2.66zM217.87 625.13h2.66v8.20h-2.66zM228.52 625.13h2.66v8.20h-2.66zM241.84 625.13h2.66v8.20h-2.66zM249.83 625.13h2.66v8.20h-2.66zM271.14 625.13h2.66v8.20h-2.66zM273.80 625.13h2.66v8.20h-2.66zM289.78 625.13h2.66v8.20h-2.66zM303.10 625.13h2.66v8.20h-2.66zM321.74 625.13h2.66v8.20h-2.66zM340.38 625.13h2.66v8.20h-2.66zM372.34 625.13h2.66v8.20h-2.66zM383.00 625.13h2.66v8.20h-2.66zM393.65 625.13h2.66v8.20h-2.66zM401.64 625.13h2.66v8.20h-2.66zM430.94 625.13h2.66v8.20h-2.66zM436.26 625.13h2.66v8.20h-2.66zM446.92 625.13h2.66v8.20h-2.66zM460.23 625.13h2.66v8.20h-2.66zM52.74 633.33h2.66v8.20h-2.66zM58.07 633.33h2.66v8.20h-2.66zM90.03 633.33h2.66v8.20h-2.66zM92.69 633.33h2.66v8.20h-2.66zM127.32 633.33h2.66v8.20h-2.66zM129.98 633.33h2.66v8.20h-2.66zM135.31 633.33h2.66v8.20h-2.66zM137.97 633.33h2.66v8.20h-2.66zM156.61 633.33h2.66v8.20h-2.66zM164.60 633.33h2.66v8.20h-2.66zM169.93 633.33h2.66v8.20h-2.66zM172.59 633.33h2.66v8.20h-2.66zM199.23 633.33h2.66v8.20h-2.66zM212.54 633.33h2.66v8.20h-2.66zM276.46 633.33h2.66v8.20h-2.66zM300.43 633.33h2.66v8.20h-2.66zM305.76 633.33h2.66v8.20h-2.66zM311.09 633.33h2.66v8.20h-2.66zM324.40 633.33h2.66v8.20h-2.66zM369.68 633.33h2.66v8.20h-2.66zM404.30 633.33h2.66v8.20h-2.66zM417.62 633.33h2.66v8.20h-2.66zM422.95 633.33h2.66v8.20h-2.66zM497.52 633.33h2.66v8.20h-2.66zM114.00 641.54h2.66v8.20h-2.66zM116.66 641.54h2.66v8.20h-2.66zM119.33 641.54h2.66v8.20h-2.66zM135.31 641.54h2.66v8.20h-2.66zM145.96 641.54h2.66v8.20h-2.66zM151.29 641.54h2.66v8.20h-2.66zM161.94 641.54h2.66v8.20h-2.66zM164.60 641.54h2.66v8.20h-2.66zM180.58 641.54h2.66v8.20h-2.66zM188.57 641.54h2.66v8.20h-2.66zM223.20 641.54h2.66v8.20h-2.66zM228.52 641.54h2.66v8.20h-2.66zM233.85 641.54h2.66v8.20h-2.66zM244.50 641.54h2.66v8.20h-2.66zM265.81 641.54h2.66v8.20h-2.66zM276.46 641.54h2.66v8.20h-2.66zM284.45 641.54h2.66v8.20h-2.66zM287.12 641.54h2.66v8.20h-2.66zM300.43 641.54h2.66v8.20h-2.66zM303.10 641.54h2.66v8.20h-2.66zM311.09 641.54h2.66v8.20h-2.66zM313.75 641.54h2.66v8.20h-2.66zM351.04 641.54h2.66v8.20h-2.66zM353.70 641.54h2.66v8.20h-2.66zM361.69 641.54h2.66v8.20h-2.66zM396.31 641.54h2.66v8.20h-2.66zM422.95 641.54h2.66v8.20h-2.66zM446.92 641.54h2.66v8.20h-2.66zM468.22 641.54h2.66v8.20h-2.66zM476.21 641.54h2.66v8.20h-2.66zM478.88 641.54h2.66v8.20h-2.66zM510.84 641.54h2.66v8.20h-2.66zM60.73 649.74h2.66v8.20h-2.66zM74.05 649.74h2.66v8.20h-2.66zM111.34 649.74h2.66v8.20h-2.66zM116.66 649.74h2.66v8.20h-2.66zM127.32 649.74h2.66v8.20h-2.66zM132.64 649.74h2.66v8.20h-2.66zM140.63 649.74h2.66v8.20h-2.66zM159.28 649.74h2.66v8.20h-2.66zM164.60 649.74h2.66v8.20h-2.66zM188.57 649.74h2.66v8.20h-2.66zM196.56 649.74h2.66v8.20h-2.66zM204.55 649.74h2.66v8.20h-2.66zM244.50 649.74h2.66v8.20h-2.66zM263.15 649.74h2.66v8.20h-2.66zM281.79 649.74h2.66v8.20h-2.66zM327.07 649.74h2.66v8.20h-2.66zM385.66 649.74h2.66v8.20h-2.66zM417.62 649.74h2.66v8.20h-2.66zM425.61 649.74h2.66v8.20h-2.66zM430.94 649.74h2.66v8.20h-2.66zM460.23 649.74h2.66v8.20h-2.66zM497.52 649.74h2.66v8.20h-2.66zM39.43 657.95h2.66v8.20h-2.66zM50.08 657.95h2.66v8.20h-2.66zM90.03 657.95h2.66v8.20h-2.66zM95.36 657.95h2.66v8.20h-2.66zM98.02 657.95h2.66v8.20h-2.66zM106.01 657.95h2.66v8.20h-2.66zM116.66 657.95h2.66v8.20h-2.66zM153.95 657.95h2.66v8.20h-2.66zM164.60 657.95h2.66v8.20h-2.66zM236.51 657.95h2.66v8.20h-2.66zM244.50 657.95h2.66v8.20h-2.66zM268.47 657.95h2.66v8.20h-2.66zM284.45 657.95h2.66v8.20h-2.66zM303.10 657.95h2.66v8.20h-2.66zM313.75 657.95h2.66v8.20h-2.66zM316.41 657.95h2.66v8.20h-2.66zM321.74 657.95h2.66v8.20h-2.66zM335.06 657.95h2.66v8.20h-2.66zM356.36 657.95h2.66v8.20h-2.66zM375.01 657.95h2.66v8.20h-2.66zM396.31 657.95h2.66v8.20h-2.66zM436.26 657.95h2.66v8.20h-2.66zM454.91 657.95h2.66v8.20h-2.66zM457.57 657.95h2.66v8.20h-2.66zM462.90 657.95h2.66v8.20h-2.66zM71.39 666.15h2.66v8.20h-2.66zM74.05 666.15h2.66v8.20h-2.66zM82.04 666.15h2.66v8.20h-2.66zM98.02 666.15h2.66v8.20h-2.66zM100.68 666.15h2.66v8.20h-2.66zM103.35 666.15h2.66v8.20h-2.66zM108.67 666.15h2.66v8.20h-2.66zM119.33 666.15h2.66v8.20h-2.66zM124.65 666.15h2.66v8.20h-2.66zM143.30 666.15h2.66v8.20h-2.66zM212.54 666.15h2.66v8.20h-2.66zM271.14 666.15h2.66v8.20h-2.66zM287.12 666.15h2.66v8.20h-2.66zM332.39 666.15h2.66v8.20h-2.66zM348.37 666.15h2.66v8.20h-2.66zM351.04 666.15h2.66v8.20h-2.66zM364.35 666.15h2.66v8.20h-2.66zM385.66 666.15h2.66v8.20h-2.66zM390.99 666.15h2.66v8.20h-2.66zM425.61 666.15h2.66v8.20h-2.66zM438.93 666.15h2.66v8.20h-2.66zM444.25 666.15h2.66v8.20h-2.66zM476.21 666.15h2.66v8.20h-2.66zM478.88 666.15h2.66v8.20h-2.66zM39.43 674.35h2.66v8.20h-2.66zM66.06 674.35h2.66v8.20h-2.66zM71.39 674.35h2.66v8.20h-2.66zM74.05 674.35h2.66v8.20h-2.66zM100.68 674.35h2.66v8.20h-2.66zM103.35 674.35h2.66v8.20h-2.66zM135.31 674.35h2.66v8.20h-2.66zM159.28 674.35h2.66v8.20h-2.66zM180.58 674.35h2.66v8.20h-2.66zM199.23 674.35h2.66v8.20h-2.66zM252.49 674.35h2.66v8.20h-2.66zM273.80 674.35h2.66v8.20h-2.66zM276.46 674.35h2.66v8.20h-2.66zM321.74 674.35h2.66v8.20h-2.66zM348.37 674.35h2.66v8.20h-2.66zM372.34 674.35h2.66v8.20h-2.66zM409.63 674.35h2.66v8.20h-2.66zM422.95 674.35h2.66v8.20h-2.66zM436.26 674.35h2.66v8.20h-2.66zM444.25 674.35h2.66v8.20h-2.66zM457.57 674.35h2.66v8.20h-2.66zM481.54 674.35h2.66v8.20h-2.66zM494.86 674.35h2.66v8.20h-2.66zM497.52 674.35h2.66v8.20h-2.66zM74.05 682.56h2.66v8.20h-2.66zM124.65 682.56h2.66v8.20h-2.66zM153.95 682.56h2.66v8.20h-2.66zM180.58 682.56h2.66v8.20h-2.66zM201.89 682.56h2.66v8.20h-2.66zM287.12 682.56h2.66v8.20h-2.66zM297.77 682.56h2.66v8.20h-2.66zM308.42 682.56h2.66v8.20h-2.66zM327.07 682.56h2.66v8.20h-2.66zM329.73 682.56h2.66v8.20h-2.66zM335.06 682.56h2.66v8.20h-2.66zM337.72 682.56h2.66v8.20h-2.66zM345.71 682.56h2.66v8.20h-2.66zM348.37 682.56h2.66v8.20h-2.66zM372.34 682.56h2.66v8.20h-2.66zM375.01 682.56h2.66v8.20h-2.66zM377.67 682.56h2.66v8.20h-2.66zM388.32 682.56h2.66v8.20h-2.66zM398.98 682.56h2.66v8.20h-2.66zM409.63 682.56h2.66v8.20h-2.66zM71.39 690.76h2.66v8.20h-2.66zM143.30 690.76h2.66v8.20h-2.66zM145.96 690.76h2.66v8.20h-2.66zM167.27 690.76h2.66v8.20h-2.66zM199.23 690.76h2.66v8.20h-2.66zM201.89 690.76h2.66v8.20h-2.66zM209.88 690.76h2.66v8.20h-2.66zM212.54 690.76h2.66v8.20h-2.66zM220.53 690.76h2.66v8.20h-2.66zM223.20 690.76h2.66v8.20h-2.66zM225.86 690.76h2.66v8.20h-2.66zM247.17 690.76h2.66v8.20h-2.66zM252.49 690.76h2.66v8.20h-2.66zM257.82 690.76h2.66v8.20h-2.66zM276.46 690.76h2.66v8.20h-2.66zM300.43 690.76h2.66v8.20h-2.66zM337.72 690.76h2.66v8.20h-2.66zM348.37 690.76h2.66v8.20h-2.66zM372.34 690.76h2.66v8.20h-2.66zM406.97 690.76h2.66v8.20h-2.66zM409.63 690.76h2.66v8.20h-2.66zM441.59 690.76h2.66v8.20h-2.66zM476.21 690.76h2.66v8.20h-2.66zM47.42 698.97h2.66v8.20h-2.66zM58.07 698.97h2.66v8.20h-2.66zM124.65 698.97h2.66v8.20h-2.66zM135.31 698.97h2.66v8.20h-2.66zM185.91 698.97h2.66v8.20h-2.66zM201.89 698.97h2.66v8.20h-2.66zM231.19 698.97h2.66v8.20h-2.66zM249.83 698.97h2.66v8.20h-2.66zM255.16 698.97h2.66v8.20h-2.66zM257.82 698.97h2.66v8.20h-2.66zM271.14 698.97h2.66v8.20h-2.66zM284.45 698.97h2.66v8.20h-2.66zM311.09 698.97h2.66v8.20h-2.66zM324.40 698.97h2.66v8.20h-2.66zM335.06 698.97h2.66v8.20h-2.66zM348.37 698.97h2.66v8.20h-2.66zM351.04 698.97h2.66v8.20h-2.66zM359.03 698.97h2.66v8.20h-2.66zM364.35 698.97h2.66v8.20h-2.66zM367.02 698.97h2.66v8.20h-2.66zM380.33 698.97h2.66v8.20h-2.66zM383.00 698.97h2.66v8.20h-2.66zM398.98 698.97h2.66v8.20h-2.66zM473.55 698.97h2.66v8.20h-2.66zM481.54 698.97h2.66v8.20h-2.66zM500.18 698.97h2.66v8.20h-2.66zM66.06 707.17h2.66v8.20h-2.66zM114.00 707.17h2.66v8.20h-2.66zM121.99 707.17h2.66v8.20h-2.66zM127.32 707.17h2.66v8.20h-2.66zM132.64 707.17h2.66v8.20h-2.66zM193.90 707.17h2.66v8.20h-2.66zM220.53 707.17h2.66v8.20h-2.66zM273.80 707.17h2.66v8.20h-2.66zM297.77 707.17h2.66v8.20h-2.66zM316.41 707.17h2.66v8.20h-2.66zM327.07 707.17h2.66v8.20h-2.66zM329.73 707.17h2.66v8.20h-2.66zM332.39 707.17h2.66v8.20h-2.66zM335.06 707.17h2.66v8.20h-2.66zM353.70 707.17h2.66v8.20h-2.66zM385.66 707.17h2.66v8.20h-2.66zM388.32 707.17h2.66v8.20h-2.66zM417.62 707.17h2.66v8.20h-2.66zM420.28 707.17h2.66v8.20h-2.66zM489.53 707.17h2.66v8.20h-2.66zM34.10 715.38h2.66v8.20h-2.66zM55.41 715.38h2.66v8.20h-2.66zM63.40 715.38h2.66v8.20h-2.66zM66.06 715.38h2.66v8.20h-2.66zM111.34 715.38h2.66v8.20h-2.66zM114.00 715.38h2.66v8.20h-2.66zM121.99 715.38h2.66v8.20h-2.66zM148.62 715.38h2.66v8.20h-2.66zM175.26 715.38h2.66v8.20h-2.66zM199.23 715.38h2.66v8.20h-2.66zM249.83 715.38h2.66v8.20h-2.66zM260.48 715.38h2.66v8.20h-2.66zM263.15 715.38h2.66v8.20h-2.66zM273.80 715.38h2.66v8.20h-2.66zM297.77 715.38h2.66v8.20h-2.66zM308.42 715.38h2.66v8.20h-2.66zM313.75 715.38h2.66v8.20h-2.66zM321.74 715.38h2.66v8.20h-2.66zM340.38 715.38h2.66v8.20h-2.66zM361.69 715.38h2.66v8.20h-2.66zM372.34 715.38h2.66v8.20h-2.66zM390.99 715.38h2.66v8.20h-2.66zM401.64 715.38h2.66v8.20h-2.66zM404.30 715.38h2.66v8.20h-2.66zM422.95 715.38h2.66v8.20h-2.66zM425.61 715.38h2.66v8.20h-2.66zM436.26 715.38h2.66v8.20h-2.66zM36.76 723.58h2.66v8.20h-2.66zM50.08 723.58h2.66v8.20h-2.66zM66.06 723.58h2.66v8.20h-2.66zM103.35 723.58h2.66v8.20h-2.66zM193.90 723.58h2.66v8.20h-2.66zM196.56 723.58h2.66v8.20h-2.66zM233.85 723.58h2.66v8.20h-2.66zM239.18 723.58h2.66v8.20h-2.66zM241.84 723.58h2.66v8.20h-2.66zM281.79 723.58h2.66v8.20h-2.66zM292.44 723.58h2.66v8.20h-2.66zM303.10 723.58h2.66v8.20h-2.66zM313.75 723.58h2.66v8.20h-2.66zM343.05 723.58h2.66v8.20h-2.66zM356.36 723.58h2.66v8.20h-2.66zM377.67 723.58h2.66v8.20h-2.66zM401.64 723.58h2.66v8.20h-2.66zM438.93 723.58h2.66v8.20h-2.66zM55.41 731.78h2.66v8.20h-2.66zM60.73 731.78h2.66v8.20h-2.66zM74.05 731.78h2.66v8.20h-2.66zM82.04 731.78h2.66v8.20h-2.66zM87.37 731.78h2.66v8.20h-2.66zM103.35 731.78h2.66v8.20h-2.66zM124.65 731.78h2.66v8.20h-2.66zM135.31 731.78h2.66v8.20h-2.66zM148.62 731.78h2.66v8.20h-2.66zM185.91 731.78h2.66v8.20h-2.66zM191.24 731.78h2.66v8.20h-2.66zM225.86 731.78h2.66v8.20h-2.66zM247.17 731.78h2.66v8.20h-2.66zM279.13 731.78h2.66v8.20h-2.66zM284.45 731.78h2.66v8.20h-2.66zM308.42 731.78h2.66v8.20h-2.66zM319.08 731.78h2.66v8.20h-2.66zM324.40 731.78h2.66v8.20h-2.66zM332.39 731.78h2.66v8.20h-2.66zM340.38 731.78h2.66v8.20h-2.66zM345.71 731.78h2.66v8.20h-2.66zM351.04 731.78h2.66v8.20h-2.66zM353.70 731.78h2.66v8.20h-2.66zM356.36 731.78h2.66v8.20h-2.66zM359.03 731.78h2.66v8.20h-2.66zM369.68 731.78h2.66v8.20h-2.66zM372.34 731.78h2.66v8.20h-2.66zM385.66 731.78h2.66v8.20h-2.66zM396.31 731.78h2.66v8.20h-2.66zM398.98 731.78h2.66v8.20h-2.66zM406.97 731.78h2.66v8.20h-2.66zM422.95 731.78h2.66v8.20h-2.66zM425.61 731.78h2.66v8.20h-2.66zM52.74 739.99h2.66v8.20h-2.66zM71.39 739.99h2.66v8.20h-2.66zM148.62 739.99h2.66v8.20h-2.66zM153.95 739.99h2.66v8.20h-2.66zM161.94 739.99h2.66v8.20h-2.66zM172.59 739.99h2.66v8.20h-2.66zM175.26 739.99h2.66v8.20h-2.66zM180.58 739.99h2.66v8.20h-2.66zM199.23 739.99h2.66v8.20h-2.66zM249.83 739.99h2.66v8.20h-2.66zM289.78 739.99h2.66v8.20h-2.66zM297.77 739.99h2.66v8.20h-2.66zM300.43 739.99h2.66v8.20h-2.66zM319.08 739.99h2.66v8.20h-2.66zM335.06 739.99h2.66v8.20h-2.66zM348.37 739.99h2.66v8.20h-2.66zM356.36 739.99h2.66v8.20h-2.66zM372.34 739.99h2.66v8.20h-2.66zM377.67 739.99h2.66v8.20h-2.66zM380.33 739.99h2.66v8.20h-2.66zM388.32 739.99h2.66v8.20h-2.66zM390.99 739.99h2.66v8.20h-2.66zM398.98 739.99h2.66v8.20h-2.66zM412.29 739.99h2.66v8.20h-2.66zM66.06 748.19h2.66v8.20h-2.66zM92.69 748.19h2.66v8.20h-2.66zM103.35 748.19h2.66v8.20h-2.66zM172.59 748.19h2.66v8.20h-2.66zM185.91 748.19h2.66v8.20h-2.66zM188.57 748.19h2.66v8.20h-2.66zM207.22 748.19h2.66v8.20h-2.66zM241.84 748.19h2.66v8.20h-2.66zM260.48 748.19h2.66v8.20h-2.66zM271.14 748.19h2.66v8.20h-2.66zM297.77 748.19h2.66v8.20h-2.66zM305.76 748.19h2.66v8.20h-2.66zM308.42 748.19h2.66v8.20h-2.66zM343.05 748.19h2.66v8.20h-2.66zM348.37 748.19h2.66v8.20h-2.66zM367.02 748.19h2.66v8.20h-2.66zM375.01 748.19h2.66v8.20h-2.66zM412.29 748.19h2.66v8.20h-2.66zM420.28 748.19h2.66v8.20h-2.66zM436.26 748.19h2.66v8.20h-2.66zM444.25 748.19h2.66v8.20h-2.66zM460.23 748.19h2.66v8.20h-2.66zM476.21 748.19h2.66v8.20h-2.66zM500.18 748.19h2.66v8.20h-2.66zM502.85 748.19h2.66v8.20h-2.66zM79.38 756.40h2.66v8.20h-2.66zM148.62 756.40h2.66v8.20h-2.66zM164.60 756.40h2.66v8.20h-2.66zM185.91 756.40h2.66v8.20h-2.66zM199.23 756.40h2.66v8.20h-2.66zM209.88 756.40h2.66v8.20h-2.66zM212.54 756.40h2.66v8.20h-2.66zM233.85 756.40h2.66v8.20h-2.66zM236.51 756.40h2.66v8.20h-2.66zM257.82 756.40h2.66v8.20h-2.66zM276.46 756.40h2.66v8.20h-2.66zM297.77 756.40h2.66v8.20h-2.66zM308.42 756.40h2.66v8.20h-2.66zM316.41 756.40h2.66v8.20h-2.66zM321.74 756.40h2.66v8.20h-2.66zM329.73 756.40h2.66v8.20h-2.66zM335.06 756.40h2.66v8.20h-2.66zM345.71 756.40h2.66v8.20h-2.66zM356.36 756.40h2.66v8.20h-2.66zM390.99 756.40h2.66v8.20h-2.66zM404.30 756.40h2.66v8.20h-2.66zM420.28 756.40h2.66v8.20h-2.66zM428.27 756.40h2.66v8.20h-2.66zM454.91 756.40h2.66v8.20h-2.66zM460.23 756.40h2.66v8.20h-2.66zM468.22 756.40h2.66v8.20h-2.66zM481.54 756.40h2.66v8.20h-2.66zM484.20 756.40h2.66v8.20h-2.66zM497.52 756.40h2.66v8.20h-2.66z"/>
<path fill="rgb(250,234,234)" d="M82.04 567.70h2.66v8.20h-2.66zM92.69 567.70h2.66v8.20h-2.66zM108.67 567.70h2.66v8.20h-2.66zM116.66 567.70h2.66v8.20h-2.66zM135.31 567.70h2.66v8.20h-2.66zM145.96 567.70h2.66v8.20h-2.66zM148.62 567.70h2.66v8.20h-2.66zM156.61 567.70h2.66v8.20h-2.66zM169.93 567.70h2.66v8.20h-2.66zM196.56 567.70h2.66v8.20h-2.66zM207.22 567.70h2.66v8.20h-2.66zM209.88 567.70h2.66v8.20h-2.66zM225.86 567.70h2.66v8.20h-2.66zM239.18 567.70h2.66v8.20h-2.66zM255.16 567.70h2.66v8.20h-2.66zM295.11 567.70h2.66v8.20h-2.66zM316.41 567.70h2.66v8.20h-2.66zM375.01 567.70h2.66v8.20h-2.66zM39.43 575.90h2.66v8.20h-2.66zM44.75 575.90h2.66v8.20h-2.66zM68.72 575.90h2.66v8.20h-2.66zM71.39 575.90h2.66v8.20h-2.66zM79.38 575.90h2.66v8.20h-2.66zM108.67 575.90h2.66v8.20h-2.66zM121.99 575.90h2.66v8.20h-2.66zM167.27 575.90h2.66v8.20h-2.66zM204.55 575.90h2.66v8.20h-2.66zM209.88 575.90h2.66v8.20h-2.66zM236.51 575.90h2.66v8.20h-2.66zM244.50 575.90h2.66v8.20h-2.66zM252.49 575.90h2.66v8.20h-2.66zM255.16 575.90h2.66v8.20h-2.66zM276.46 575.90h2.66v8.20h-2.66zM297.77 575.90h2.66v8.20h-2.66zM345.71 575.90h2.66v8.20h-2.66zM359.03 575.90h2.66v8.20h-2.66zM380.33 575.90h2.66v8.20h-2.66zM42.09 584.11h2.66v8.20h-2.66zM60.73 584.11h2.66v8.20h-2.66zM63.40 584.11h2.66v8.20h-2.66zM68.72 584.11h2.66v8.20h-2.66zM71.39 584.11h2.66v8.20h-2.66zM76.71 584.11h2.66v8.20h-2.66zM79.38 584.11h2.66v8.20h-2.66zM95.36 584.11h2.66v8.20h-2.66zM108.67 584.11h2.66v8.20h-2.66zM132.64 584.11h2.66v8.20h-2.66zM135.31 584.11h2.66v8.20h-2.66zM145.96 584.11h2.66v8.20h-2.66zM148.62 584.11h2.66v8.20h-2.66zM153.95 584.11h2.66v8.20h-2.66zM159.28 584.11h2.66v8.20h-2.66zM175.26 584.11h2.66v8.20h-2.66zM193.90 584.11h2.66v8.20h-2.66zM201.89 584.11h2.66v8.20h-2.66zM225.86 584.11h2.66v8.20h-2.66zM233.85 584.11h2.66v8.20h-2.66zM244.50 584.11h2.66v8.20h-2.66zM260.48 584.11h2.66v8.20h-2.66zM273.80 584.11h2.66v8.20h-2.66zM281.79 584.11h2.66v8.20h-2.66zM284.45 584.11h2.66v8.20h-2.66zM300.43 584.11h2.66v8.20h-2.66zM327.07 584.11h2.66v8.20h-2.66zM508.17 584.11h2.66v8.20h-2.66zM63.40 592.31h2.66v8.20h-2.66zM79.38 592.31h2.66v8.20h-2.66zM100.68 592.31h2.66v8.20h-2.66zM106.01 592.31h2.66v8.20h-2.66zM124.65 592.31h2.66v8.20h-2.66zM129.98 592.31h2.66v8.20h-2.66zM140.63 592.31h2.66v8.20h-2.66zM145.96 592.31h2.66v8.20h-2.66zM148.62 592.31h2.66v8.20h-2.66zM167.27 592.31h2.66v8.20h-2.66zM180.58 592.31h2.66v8.20h-2.66zM183.25 592.31h2.66v8.20h-2.66zM185.91 592.31h2.66v8.20h-2.66zM196.56 592.31h2.66v8.20h-2.66zM201.89 592.31h2.66v8.20h-2.66zM233.85 592.31h2.66v8.20h-2.66zM263.15 592.31h2.66v8.20h-2.66zM281.79 592.31h2.66v8.20h-2.66zM303.10 592.31h2.66v8.20h-2.66zM327.07 592.31h2.66v8.20h-2.66zM478.88 592.31h2.66v8.20h-2.66zM47.42 600.52h2.66v8.20h-2.66zM50.08 600.52h2.66v8.20h-2.66zM58.07 600.52h2.66v8.20h-2.66zM106.01 600.52h2.66v8.20h-2.66zM108.67 600.52h2.66v8.20h-2.66zM137.97 600.52h2.66v8.20h-2.66zM145.96 600.52h2.66v8.20h-2.66zM159.28 600.52h2.66v8.20h-2.66zM204.55 600.52h2.66v8.20h-2.66zM220.53 600.52h2.66v8.20h-2.66zM249.83 600.52h2.66v8.20h-2.66zM388.32 600.52h2.66v8.20h-2.66zM44.75 608.72h2.66v8.20h-2.66zM58.07 608.72h2.66v8.20h-2.66zM63.40 608.72h2.66v8.20h-2.66zM76.71 608.72h2.66v8.20h-2.66zM79.38 608.72h2.66v8.20h-2.66zM87.37 608.72h2.66v8.20h-2.66zM95.36 608.72h2.66v8.20h-2.66zM100.68 608.72h2.66v8.20h-2.66zM103.35 608.72h2.66v8.20h-2.66zM127.32 608.72h2.66v8.20h-2.66zM164.60 608.72h2.66v8.20h-2.66zM172.59 608.72h2.66v8.20h-2.66zM188.57 608.72h2.66v8.20h-2.66zM199.23 608.72h2.66v8.20h-2.66zM204.55 608.72h2.66v8.20h-2.66zM257.82 608.72h2.66v8.20h-2.66zM260.48 608.72h2.66v8.20h-2.66zM271.14 608.72h2.66v8.20h-2.66zM279.13 608.72h2.66v8.20h-2.66zM345.71 608.72h2.66v8.20h-2.66zM348.37 608.72h2.66v8.20h-2.66zM393.65 608.72h2.66v8.20h-2.66zM417.62 608.72h2.66v8.20h-2.66zM436.26 608.72h2.66v8.20h-2.66zM441.59 608.72h2.66v8.20h-2.66zM478.88 608.72h2.66v8.20h-2.66zM489.53 608.72h2.66v8.20h-2.66zM497.52 608.72h2.66v8.20h-2.66zM39.43 616.93h2.66v8.20h-2.66zM47.42 616.93h2.66v8.20h-2.66zM50.08 616.93h2.66v8.20h-2.66zM68.72 616.93h2.66v8.20h-2.66zM84.70 616.93h2.66v8.20h-2.66zM87.37 616.93h2.66v8.20h-2.66zM98.02 616.93h2.66v8.20h-2.66zM124.65 616.93h2.66v8.20h-2.66zM127.32 616.93h2.66v8.20h-2.66zM143.30 616.93h2.66v8.20h-2.66zM191.24 616.93h2.66v8.20h-2.66zM193.90 616.93h2.66v8.20h-2.66zM201.89 616.93h2.66v8.20h-2.66zM215.21 616.93h2.66v8.20h-2.66zM231.19 616.93h2.66v8.20h-2.66zM244.50 616.93h2.66v8.20h-2.66zM276.46 616.93h2.66v8.20h-2.66zM297.77 616.93h2.66v8.20h-2.66zM308.42 616.93h2.66v8.20h-2.66zM398.98 616.93h2.66v8.20h-2.66zM422.95 616.93h2.66v8.20h-2.66zM438.93 616.93h2.66v8.20h-2.66zM47.42 625.13h2.66v8.20h-2.66zM50.08 625.13h2.66v8.20h-2.66zM66.06 625.13h2.66v8.20h-2.66zM87.37 625.13h2.66v8.20h-2.66zM129.98 625.13h2.66v8.20h-2.66zM132.64 625.13h2.66v8.20h-2.66zM148.62 625.13h2.66v8.20h-2.66zM175.26 625.13h2.66v8.20h-2.66zM183.25 625.13h2.66v8.20h-2.66zM212.54 625.13h2.66v8.20h-2.66zM220.53 625.13h2.66v8.20h-2.66zM255.16 625.13h2.66v8.20h-2.66zM284.45 625.13h2.66v8.20h-2.66zM406.97 625.13h2.66v8.20h-2.66zM417.62 625.13h2.66v8.20h-2.66zM486.87 625.13h2.66v8.20h-2.66zM34.10 633.33h2.66v8.20h-2.66zM42.09 633.33h2.66v8.20h-2.66zM44.75 633.33h2.66v8.20h-2.66zM68.72 633.33h2.66v8.20h-2.66zM74.05 633.33h2.66v8.20h-2.66zM76.71 633.33h2.66v8.20h-2.66zM100.68 633.33h2.66v8.20h-2.66zM111.34 633.33h2.66v8.20h-2.66zM114.00 633.33h2.66v8.20h-2.66zM140.63 633.33h2.66v8.20h-2.66zM180.58 633.33h2.66v8.20h-2.66zM183.25 633.33h2.66v8.20h-2.66zM185.91 633.33h2.66v8.20h-2.66zM209.88 633.33h2.66v8.20h-2.66zM231.19 633.33h2.66v8.20h-2.66zM260.48 633.33h2.66v8.20h-2.66zM263.15 633.33h2.66v8.20h-2.66zM279.13 633.33h2.66v8.20h-2.66zM345.71 633.33h2.66v8.20h-2.66zM367.02 633.33h2.66v8.20h-2.66zM401.64 633.33h2.66v8.20h-2.66zM409.63 633.33h2.66v8.20h-2.66zM34.10 641.54h2.66v8.20h-2.66zM58.07 641.54h2.66v8.20h-2.66zM68.72 641.54h2.66v8.20h-2.66zM82.04 641.54h2.66v8.20h-2.66zM90.03 641.54h2.66v8.20h-2.66zM127.32 641.54h2.66v8.20h-2.66zM132.64 641.54h2.66v8.20h-2.66zM172.59 641.54h2.66v8.20h-2.66zM177.92 641.54h2.66v8.20h-2.66zM183.25 641.54h2.66v8.20h-2.66zM185.91 641.54h2.66v8.20h-2.66zM212.54 641.54h2.66v8.20h-2.66zM241.84 641.54h2.66v8.20h-2.66zM289.78 641.54h2.66v8.20h-2.66zM332.39 641.54h2.66v8.20h-2.66zM359.03 641.54h2.66v8.20h-2.66zM367.02 641.54h2.66v8.20h-2.66zM433.60 641.54h2.66v8.20h-2.66zM52.74 649.74h2.66v8.20h-2.66zM169.93 649.74h2.66v8.20h-2.66zM209.88 649.74h2.66v8.20h-2.66zM220.53 649.74h2.66v8.20h-2.66zM335.06 649.74h2.66v8.20h-2.66zM393.65 649.74h2.66v8.20h-2.66zM406.97 649.74h2.66v8.20h-2.66zM34.10 657.95h2.66v8.20h-2.66zM114.00 657.95h2.66v8.20h-2.66zM199.23 657.95h2.66v8.20h-2.66zM212.54 657.95h2.66v8.20h-2.66zM252.49 657.95h2.66v8.20h-2.66zM305.76 657.95h2.66v8.20h-2.66zM311.09 657.95h2.66v8.20h-2.66zM465.56 657.95h2.66v8.20h-2.66zM486.87 657.95h2.66v8.20h-2.66zM60.73 666.15h2.66v8.20h-2.66zM207.22 666.15h2.66v8.20h-2.66zM249.83 666.15h2.66v8.20h-2.66zM281.79 666.15h2.66v8.20h-2.66zM300.43 666.15h2.66v8.20h-2.66zM324.40 666.15h2.66v8.20h-2.66zM414.96 666.15h2.66v8.20h-2.66zM428.27 666.15h2.66v8.20h-2.66zM446.92 666.15h2.66v8.20h-2.66zM452.24 666.15h2.66v8.20h-2.66zM457.57 666.15h2.66v8.20h-2.66zM460.23 666.15h2.66v8.20h-2.66zM484.20 666.15h2.66v8.20h-2.66zM169.93 674.35h2.66v8.20h-2.66zM183.25 674.35h2.66v8.20h-2.66zM217.87 674.35h2.66v8.20h-2.66zM247.17 674.35h2.66v8.20h-2.66zM265.81 674.35h2.66v8.20h-2.66zM268.47 674.35h2.66v8.20h-2.66zM319.08 674.35h2.66v8.20h-2.66zM343.05 674.35h2.66v8.20h-2.66zM361.69 674.35h2.66v8.20h-2.66zM404.30 674.35h2.66v8.20h-2.66zM460.23 674.35h2.66v8.20h-2.66zM508.17 674.35h2.66v8.20h-2.66zM58.07 682.56h2.66v8.20h-2.66zM92.69 682.56h2.66v8.20h-2.66zM114.00 682.56h2.66v8.20h-2.66zM127.32 682.56h2.66v8.20h-2.66zM135.31 682.56h2.66v8.20h-2.66zM169.93 682.56h2.66v8.20h-2.66zM199.23 682.56h2.66v8.20h-2.66zM215.21 682.56h2.66v8.20h-2.66zM268.47 682.56h2.66v8.20h-2.66zM311.09 682.56h2.66v8.20h-2.66zM316.41 682.56h2.66v8.20h-2.66zM332.39 682.56h2.66v8.20h-2.66zM343.05 682.56h2.66v8.20h-2.66zM356.36 682.56h2.66v8.20h-2.66zM359.03 682.56h2.66v8.20h-2.66zM361.69 682.56h2.66v8.20h-2.66zM383.00 682.56h2.66v8.20h-2.66zM390.99 682.56h2.66v8.20h-2.66zM425.61 682.56h2.66v8.20h-2.66zM430.94 682.56h2.66v8.20h-2.66zM433.60 682.56h2.66v8.20h-2.66zM449.58 682.56h2.66v8.20h-2.66zM39.43 690.76h2.66v8.20h-2.66zM58.07 690.76h2.66v8.20h-2.66zM66.06 690.76h2.66v8.20h-2.66zM68.72 690.76h2.66v8.20h-2.66zM79.38 690.76h2.66v8.20h-2.66zM98.02 690.76h2.66v8.20h-2.66zM108.67 690.76h2.66v8.20h-2.66zM183.25 690.76h2.66v8.20h-2.66zM228.52 690.76h2.66v8.20h-2.66zM295.11 690.76h2.66v8.20h-2.66zM332.39 690.76h2.66v8.20h-2.66zM353.70 690.76h2.66v8.20h-2.66zM356.36 690.76h2.66v8.20h-2.66zM367.02 690.76h2.66v8.20h-2.66zM380.33 690.76h2.66v8.20h-2.66zM396.31 690.76h2.66v8.20h-2.66zM412.29 690.76h2.66v8.20h-2.66zM425.61 690.76h2.66v8.20h-2.66zM428.27 690.76h2.66v8.20h-2.66zM454.91 690.76h2.66v8.20h-2.66zM468.22 690.76h2.66v8.20h-2.66zM489.53 690.76h2.66v8.20h-2.66zM103.35 698.97h2.66v8.20h-2.66zM114.00 698.97h2.66v8.20h-2.66zM127.32 698.97h2.66v8.20h-2.66zM145.96 698.97h2.66v8.20h-2.66zM199.23 698.97h2.66v8.20h-2.66zM212.54 698.97h2.66v8.20h-2.66zM241.84 698.97h2.66v8.20h-2.66zM273.80 698.97h2.66v8.20h-2.66zM308.42 698.97h2.66v8.20h-2.66zM340.38 698.97h2.66v8.20h-2.66zM353.70 698.97h2.66v8.20h-2.66zM369.68 698.97h2.66v8.20h-2.66zM385.66 698.97h2.66v8.20h-2.66zM388.32 698.97h2.66v8.20h-2.66zM422.95 698.97h2.66v8.20h-2.66zM433.60 698.97h2.66v8.20h-2.66zM460.23 698.97h2.66v8.20h-2.66zM44.75 707.17h2.66v8.20h-2.66zM151.29 707.17h2.66v8.20h-2.66zM185.91 707.17h2.66v8.20h-2.66zM223.20 707.17h2.66v8.20h-2.66zM241.84 707.17h2.66v8.20h-2.66zM289.78 707.17h2.66v8.20h-2.66zM343.05 707.17h2.66v8.20h-2.66zM345.71 707.17h2.66v8.20h-2.66zM364.35 707.17h2.66v8.20h-2.66zM375.01 707.17h2.66v8.20h-2.66zM393.65 707.17h2.66v8.20h-2.66zM406.97 707.17h2.66v8.20h-2.66zM409.63 707.17h2.66v8.20h-2.66zM412.29 707.17h2.66v8.20h-2.66zM414.96 707.17h2.66v8.20h-2.66zM425.61 707.17h2.66v8.20h-2.66zM436.26 707.17h2.66v8.20h-2.66zM438.93 707.17h2.66v8.20h-2.66zM446.92 707.17h2.66v8.20h-2.66zM449.58 707.17h2.66v8.20h-2.66zM457.57 707.17h2.66v8.20h-2.66zM508.17 707.17h2.66v8.20h-2.66zM145.96 715.38h2.66v8.20h-2.66zM153.95 715.38h2.66v8.20h-2.66zM159.28 715.38h2.66v8.20h-2.66zM169.93 715.38h2.66v8.20h-2.66zM217.87 715.38h2.66v8.20h-2.66zM236.51 715.38h2.66v8.20h-2.66zM324.40 715.38h2.66v8.20h-2.66zM351.04 715.38h2.66v8.20h-2.66zM353.70 715.38h2.66v8.20h-2.66zM398.98 715.38h2.66v8.20h-2.66zM414.96 715.38h2.66v8.20h-2.66zM438.93 715.38h2.66v8.20h-2.66zM444.25 715.38h2.66v8.20h-2.66zM470.89 715.38h2.66v8.20h-2.66zM489.53 715.38h2.66v8.20h-2.66zM87.37 723.58h2.66v8.20h-2.66zM145.96 723.58h2.66v8.20h-2.66zM199.23 723.58h2.66v8.20h-2.66zM228.52 723.58h2.66v8.20h-2.66zM257.82 723.58h2.66v8.20h-2.66zM260.48 723.58h2.66v8.20h-2.66zM265.81 723.58h2.66v8.20h-2.66zM276.46 723.58h2.66v8.20h-2.66zM287.12 723.58h2.66v8.20h-2.66zM316.41 723.58h2.66v8.20h-2.66zM337.72 723.58h2.66v8.20h-2.66zM361.69 723.58h2.66v8.20h-2.66zM406.97 723.58h2.66v8.20h-2.66zM414.96 723.58h2.66v8.20h-2.66zM422.95 723.58h2.66v8.20h-2.66zM433.60 723.58h2.66v8.20h-2.66zM436.26 723.58h2.66v8.20h-2.66zM446.92 723.58h2.66v8.20h-2.66zM460.23 723.58h2.66v8.20h-2.66zM470.89 723.58h2.66v8.20h-2.66zM492.19 723.58h2.66v8.20h-2.66zM497.52 723.58h2.66v8.20h-2.66zM58.07 731.78h2.66v8.20h-2.66zM63.40 731.78h2.66v8.20h-2.66zM95.36 731.78h2.66v8.20h-2.66zM204.55 731.78h2.66v8.20h-2.66zM228.52 731.78h2.66v8.20h-2.66zM249.83 731.78h2.66v8.20h-2.66zM287.12 731.78h2.66v8.20h-2.66zM300.43 731.78h2.66v8.20h-2.66zM388.32 731.78h2.66v8.20h-2.66zM404.30 731.78h2.66v8.20h-2.66zM420.28 731.78h2.66v8.20h-2.66zM430.94 731.78h2.66v8.20h-2.66zM446.92 731.78h2.66v8.20h-2.66zM454.91 731.78h2.66v8.20h-2.66zM473.55 731.78h2.66v8.20h-2.66zM34.10 739.99h2.66v8.20h-2.66zM76.71 739.99h2.66v8.20h-2.66zM106.01 739.99h2.66v8.20h-2.66zM132.64 739.99h2.66v8.20h-2.66zM185.91 739.99h2.66v8.20h-2.66zM220.53 739.99h2.66v8.20h-2.66zM287.12 739.99h2.66v8.20h-2.66zM292.44 739.99h2.66v8.20h-2.66zM295.11 739.99h2.66v8.20h-2.66zM303.10 739.99h2.66v8.20h-2.66zM316.41 739.99h2.66v8.20h-2.66zM327.07 739.99h2.66v8.20h-2.66zM340.38 739.99h2.66v8.20h-2.66zM359.03 739.99h2.66v8.20h-2.66zM361.69 739.99h2.66v8.20h-2.66zM364.35 739.99h2.66v8.20h-2.66zM401.64 739.99h2.66v8.20h-2.66zM409.63 739.99h2.66v8.20h-2.66zM422.95 739.99h2.66v8.20h-2.66zM433.60 739.99h2.66v8.20h-2.66zM438.93 739.99h2.66v8.20h-2.66zM449.58 739.99h2.66v8.20h-2.66zM452.24 739.99h2.66v8.20h-2.66zM492.19 739.99h2.66v8.20h-2.66zM82.04 748.19h2.66v8.20h-2.66zM116.66 748.19h2.66v8.20h-2.66zM124.65 748.19h2.66v8.20h-2.66zM193.90 748.19h2.66v8.20h-2.66zM265.81 748.19h2.66v8.20h-2.66zM276.46 748.19h2.66v8.20h-2.66zM287.12 748.19h2.66v8.20h-2.66zM292.44 748.19h2.66v8.20h-2.66zM300.43 748.19h2.66v8.20h-2.66zM316.41 748.19h2.66v8.20h-2.66zM335.06 748.19h2.66v8.20h-2.66zM377.67 748.19h2.66v8.20h-2.66zM388.32 748.19h2.66v8.20h-2.66zM406.97 748.19h2.66v8.20h-2.66zM417.62 748.19h2.66v8.20h-2.66zM425.61 748.19h2.66v8.20h-2.66zM438.93 748.19h2.66v8.20h-2.66zM446.92 748.19h2.66v8.20h-2.66zM478.88 748.19h2.66v8.20h-2.66zM481.54 748.19h2.66v8.20h-2.66zM505.51 748.19h2.66v8.20h-2.66zM510.84 748.19h2.66v8.20h-2.66zM47.42 756.40h2.66v8.20h-2.66zM71.39 756.40h2.66v8.20h-2.66zM84.70 756.40h2.66v8.20h-2.66zM100.68 756.40h2.66v8.20h-2.66zM375.01 756.40h2.66v8.20h-2.66zM430.94 756.40h2.66v8.20h-2.66zM441.59 756.40h2.66v8.20h-2.66zM444.25 756.40h2.66v8.20h-2.66zM465.56 756.40h2.66v8.20h-2.66z"/>
<path fill="rgb(247,223,223)" d="M36.76 567.70h2.66v8.20h-2.66zM39.43 567.70h2.66v8.20h-2.66zM47.42 567.70h2.66v8.20h-2.66zM58.07 567.70h2.66v8.20h-2.66zM60.73 567.70h2.66v8.20h-2.66zM76.71 567.70h2.66v8.20h-2.66zM79.38 567.70h2.66v8.20h-2.66zM87.37 567.70h2.66v8.20h-2.66zM159.28 567.70h2.66v8.20h-2.66zM175.26 567.70h2.66v8.20h-2.66zM223.20 567.70h2.66v8.20h-2.66zM241.84 567.70h2.66v8.20h-2.66zM249.83 567.70h2.66v8.20h-2.66zM252.49 567.70h2.66v8.20h-2.66zM401.64 567.70h2.66v8.20h-2.66zM510.84 567.70h2.66v8.20h-2.66zM36.76 575.90h2.66v8.20h-2.66zM42.09 575.90h2.66v8.20h-2.66zM50.08 575.90h2.66v8.20h-2.66zM52.74 575.90h2.66v8.20h-2.66zM66.06 575.90h2.66v8.20h-2.66zM74.05 575.90h2.66v8.20h-2.66zM92.69 575.90h2.66v8.20h-2.66zM114.00 575.90h2.66v8.20h-2.66zM148.62 575.90h2.66v8.20h-2.66zM151.29 575.90h2.66v8.20h-2.66zM169.93 575.90h2.66v8.20h-2.66zM233.85 575.90h2.66v8.20h-2.66zM300.43 575.90h2.66v8.20h-2.66zM36.76 584.11h2.66v8.20h-2.66zM82.04 584.11h2.66v8.20h-2.66zM100.68 584.11h2.66v8.20h-2.66zM121.99 584.11h2.66v8.20h-2.66zM143.30 584.11h2.66v8.20h-2.66zM164.60 584.11h2.66v8.20h-2.66zM172.59 584.11h2.66v8.20h-2.66zM177.92 584.11h2.66v8.20h-2.66zM185.91 584.11h2.66v8.20h-2.66zM204.55 584.11h2.66v8.20h-2.66zM236.51 584.11h2.66v8.20h-2.66zM239.18 584.11h2.66v8.20h-2.66zM401.64 584.11h2.66v8.20h-2.66zM39.43 592.31h2.66v8.20h-2.66zM44.75 592.31h2.66v8.20h-2.66zM68.72 592.31h2.66v8.20h-2.66zM82.04 592.31h2.66v8.20h-2.66zM87.37 592.31h2.66v8.20h-2.66zM98.02 592.31h2.66v8.20h-2.66zM127.32 592.31h2.66v8.20h-2.66zM132.64 592.31h2.66v8.20h-2.66zM161.94 592.31h2.66v8.20h-2.66zM188.57 592.31h2.66v8.20h-2.66zM252.49 592.31h2.66v8.20h-2.66zM335.06 592.31h2.66v8.20h-2.66zM398.98 592.31h2.66v8.20h-2.66zM492.19 592.31h2.66v8.20h-2.66zM502.85 592.31h2.66v8.20h-2.66zM39.43 600.52h2.66v8.20h-2.66zM52.74 600.52h2.66v8.20h-2.66zM55.41 600.52h2.66v8.20h-2.66zM60.73 600.52h2.66v8.20h-2.66zM79.38 600.52h2.66v8.20h-2.66zM82.04 600.52h2.66v8.20h-2.66zM92.69 600.52h2.66v8.20h-2.66zM121.99 600.52h2.66v8.20h-2.66zM127.32 600.52h2.66v8.20h-2.66zM148.62 600.52h2.66v8.20h-2.66zM153.95 600.52h2.66v8.20h-2.66zM175.26 600.52h2.66v8.20h-2.66zM247.17 600.52h2.66v8.20h-2.66zM305.76 600.52h2.66v8.20h-2.66zM425.61 600.52h2.66v8.20h-2.66zM52.74 608.72h2.66v8.20h-2.66zM55.41 608.72h2.66v8.20h-2.66zM60.73 608.72h2.66v8.20h-2.66zM66.06 608.72h2.66v8.20h-2.66zM84.70 608.72h2.66v8.20h-2.66zM137.97 608.72h2.66v8.20h-2.66zM156.61 608.72h2.66v8.20h-2.66zM167.27 608.72h2.66v8.20h-2.66zM180.58 608.72h2.66v8.20h-2.66zM191.24 608.72h2.66v8.20h-2.66zM212.54 608.72h2.66v8.20h-2.66zM217.87 608.72h2.66v8.20h-2.66zM233.85 608.72h2.66v8.20h-2.66zM263.15 608.72h2.66v8.20h-2.66zM281.79 608.72h2.66v8.20h-2.66zM377.67 608.72h2.66v8.20h-2.66zM388.32 608.72h2.66v8.20h-2.66zM42.09 616.93h2.66v8.20h-2.66zM52.74 616.93h2.66v8.20h-2.66zM55.41 616.93h2.66v8.20h-2.66zM63.40 616.93h2.66v8.20h-2.66zM82.04 616.93h2.66v8.20h-2.66zM114.00 616.93h2.66v8.20h-2.66zM116.66 616.93h2.66v8.20h-2.66zM207.22 616.93h2.66v8.20h-2.66zM255.16 616.93h2.66v8.20h-2.66zM265.81 616.93h2.66v8.20h-2.66zM268.47 616.93h2.66v8.20h-2.66zM281.79 616.93h2.66v8.20h-2.66zM292.44 616.93h2.66v8.20h-2.66zM324.40 616.93h2.66v8.20h-2.66zM52.74 625.13h2.66v8.20h-2.66zM108.67 625.13h2.66v8.20h-2.66zM127.32 625.13h2.66v8.20h-2.66zM140.63 625.13h2.66v8.20h-2.66zM145.96 625.13h2.66v8.20h-2.66zM151.29 625.13h2.66v8.20h-2.66zM156.61 625.13h2.66v8.20h-2.66zM159.28 625.13h2.66v8.20h-2.66zM164.60 625.13h2.66v8.20h-2.66zM169.93 625.13h2.66v8.20h-2.66zM236.51 625.13h2.66v8.20h-2.66zM247.17 625.13h2.66v8.20h-2.66zM265.81 625.13h2.66v8.20h-2.66zM404.30 625.13h2.66v8.20h-2.66zM508.17 625.13h2.66v8.20h-2.66zM36.76 633.33h2.66v8.20h-2.66zM39.43 633.33h2.66v8.20h-2.66zM66.06 633.33h2.66v8.20h-2.66zM71.39 633.33h2.66v8.20h-2.66zM82.04 633.33h2.66v8.20h-2.66zM84.70 633.33h2.66v8.20h-2.66zM103.35 633.33h2.66v8.20h-2.66zM108.67 633.33h2.66v8.20h-2.66zM119.33 633.33h2.66v8.20h-2.66zM121.99 633.33h2.66v8.20h-2.66zM124.65 633.33h2.66v8.20h-2.66zM132.64 633.33h2.66v8.20h-2.66zM143.30 633.33h2.66v8.20h-2.66zM153.95 633.33h2.66v8.20h-2.66zM175.26 633.33h2.66v8.20h-2.66zM188.57 633.33h2.66v8.20h-2.66zM207.22 633.33h2.66v8.20h-2.66zM239.18 633.33h2.66v8.20h-2.66zM247.17 633.33h2.66v8.20h-2.66zM430.94 633.33h2.66v8.20h-2.66zM44.75 641.54h2.66v8.20h-2.66zM47.42 641.54h2.66v8.20h-2.66zM60.73 641.54h2.66v8.20h-2.66zM74.05 641.54h2.66v8.20h-2.66zM76.71 641.54h2.66v8.20h-2.66zM100.68 641.54h2.66v8.20h-2.66zM121.99 641.54h2.66v8.20h-2.66zM124.65 641.54h2.66v8.20h-2.66zM148.62 641.54h2.66v8.20h-2.66zM169.93 641.54h2.66v8.20h-2.66zM247.17 641.54h2.66v8.20h-2.66zM260.48 641.54h2.66v8.20h-2.66zM335.06 641.54h2.66v8.20h-2.66zM398.98 641.54h2.66v8.20h-2.66zM66.06 649.74h2.66v8.20h-2.66zM87.37 649.74h2.66v8.20h-2.66zM151.29 649.74h2.66v8.20h-2.66zM324.40 649.74h2.66v8.20h-2.66zM398.98 649.74h2.66v8.20h-2.66zM84.70 657.95h2.66v8.20h-2.66zM111.34 657.95h2.66v8.20h-2.66zM132.64 657.95h2.66v8.20h-2.66zM183.25 657.95h2.66v8.20h-2.66zM300.43 657.95h2.66v8.20h-2.66zM180.58 666.15h2.66v8.20h-2.66zM289.78 666.15h2.66v8.20h-2.66zM396.31 666.15h2.66v8.20h-2.66zM87.37 674.35h2.66v8.20h-2.66zM98.02 674.35h2.66v8.20h-2.66zM281.79 674.35h2.66v8.20h-2.66zM308.42 674.35h2.66v8.20h-2.66zM398.98 674.35h2.66v8.20h-2.66zM510.84 674.35h2.66v8.20h-2.66zM44.75 682.56h2.66v8.20h-2.66zM164.60 682.56h2.66v8.20h-2.66zM172.59 682.56h2.66v8.20h-2.66zM233.85 682.56h2.66v8.20h-2.66zM305.76 682.56h2.66v8.20h-2.66zM369.68 682.56h2.66v8.20h-2.66zM393.65 682.56h2.66v8.20h-2.66zM414.96 682.56h2.66v8.20h-2.66zM428.27 682.56h2.66v8.20h-2.66zM444.25 682.56h2.66v8.20h-2.66zM465.56 682.56h2.66v8.20h-2.66zM478.88 682.56h2.66v8.20h-2.66zM489.53 682.56h2.66v8.20h-2.66zM494.86 682.56h2.66v8.20h-2.66zM500.18 682.56h2.66v8.20h-2.66zM505.51 682.56h2.66v8.20h-2.66zM60.73 690.76h2.66v8.20h-2.66zM119.33 690.76h2.66v8.20h-2.66zM151.29 690.76h2.66v8.20h-2.66zM180.58 690.76h2.66v8.20h-2.66zM271.14 690.76h2.66v8.20h-2.66zM292.44 690.76h2.66v8.20h-2.66zM319.08 690.76h2.66v8.20h-2.66zM383.00 690.76h2.66v8.20h-2.66zM393.65 690.76h2.66v8.20h-2.66zM414.96 690.76h2.66v8.20h-2.66zM420.28 690.76h2.66v8.20h-2.66zM433.60 690.76h2.66v8.20h-2.66zM452.24 690.76h2.66v8.20h-2.66zM457.57 690.76h2.66v8.20h-2.66zM460.23 690.76h2.66v8.20h-2.66zM478.88 690.76h2.66v8.20h-2.66zM74.05 698.97h2.66v8.20h-2.66zM281.79 698.97h2.66v8.20h-2.66zM401.64 698.97h2.66v8.20h-2.66zM409.63 698.97h2.66v8.20h-2.66zM425.61 698.97h2.66v8.20h-2.66zM438.93 698.97h2.66v8.20h-2.66zM441.59 698.97h2.66v8.20h-2.66zM449.58 698.97h2.66v8.20h-2.66zM465.56 698.97h2.66v8.20h-2.66zM478.88 698.97h2.66v8.20h-2.66zM492.19 698.97h2.66v8.20h-2.66zM494.86 698.97h2.66v8.20h-2.66zM34.10 707.17h2.66v8.20h-2.66zM36.76 707.17h2.66v8.20h-2.66zM39.43 707.17h2.66v8.20h-2.66zM191.24 707.17h2.66v8.20h-2.66zM247.17 707.17h2.66v8.20h-2.66zM281.79 707.17h2.66v8.20h-2.66zM321.74 707.17h2.66v8.20h-2.66zM340.38 707.17h2.66v8.20h-2.66zM380.33 707.17h2.66v8.20h-2.66zM422.95 707.17h2.66v8.20h-2.66zM433.60 707.17h2.66v8.20h-2.66zM444.25 707.17h2.66v8.20h-2.66zM465.56 707.17h2.66v8.20h-2.66zM468.22 707.17h2.66v8.20h-2.66zM484.20 707.17h2.66v8.20h-2.66zM492.19 707.17h2.66v8.20h-2.66zM510.84 707.17h2.66v8.20h-2.66zM172.59 715.38h2.66v8.20h-2.66zM276.46 715.38h2.66v8.20h-2.66zM287.12 715.38h2.66v8.20h-2.66zM305.76 715.38h2.66v8.20h-2.66zM327.07 715.38h2.66v8.20h-2.66zM348.37 715.38h2.66v8.20h-2.66zM385.66 715.38h2.66v8.20h-2.66zM428.27 715.38h2.66v8.20h-2.66zM433.60 715.38h2.66v8.20h-2.66zM452.24 715.38h2.66v8.20h-2.66zM468.22 715.38h2.66v8.20h-2.66zM476.21 715.38h2.66v8.20h-2.66zM484.20 715.38h2.66v8.20h-2.66zM500.18 715.38h2.66v8.20h-2.66zM502.85 715.38h2.66v8.20h-2.66zM100.68 723.58h2.66v8.20h-2.66zM124.65 723.58h2.66v8.20h-2.66zM127.32 723.58h2.66v8.20h-2.66zM225.86 723.58h2.66v8.20h-2.66zM321.74 723.58h2.66v8.20h-2.66zM329.73 723.58h2.66v8.20h-2.66zM375.01 723.58h2.66v8.20h-2.66zM390.99 723.58h2.66v8.20h-2.66zM396.31 723.58h2.66v8.20h-2.66zM409.63 723.58h2.66v8.20h-2.66zM430.94 723.58h2.66v8.20h-2.66zM481.54 723.58h2.66v8.20h-2.66zM502.85 723.58h2.66v8.20h-2.66zM508.17 723.58h2.66v8.20h-2.66zM215.21 731.78h2.66v8.20h-2.66zM239.18 731.78h2.66v8.20h-2.66zM260.48 731.78h2.66v8.20h-2.66zM295.11 731.78h2.66v8.20h-2.66zM335.06 731.78h2.66v8.20h-2.66zM412.29 731.78h2.66v8.20h-2.66zM414.96 731.78h2.66v8.20h-2.66zM428.27 731.78h2.66v8.20h-2.66zM433.60 731.78h2.66v8.20h-2.66zM438.93 731.78h2.66v8.20h-2.66zM457.57 731.78h2.66v8.20h-2.66zM476.21 731.78h2.66v8.20h-2.66zM207.22 739.99h2.66v8.20h-2.66zM241.84 739.99h2.66v8.20h-2.66zM284.45 739.99h2.66v8.20h-2.66zM337.72 739.99h2.66v8.20h-2.66zM383.00 739.99h2.66v8.20h-2.66zM396.31 739.99h2.66v8.20h-2.66zM404.30 739.99h2.66v8.20h-2.66zM406.97 739.99h2.66v8.20h-2.66zM428.27 739.99h2.66v8.20h-2.66zM430.94 739.99h2.66v8.20h-2.66zM446.92 739.99h2.66v8.20h-2.66zM465.56 739.99h2.66v8.20h-2.66zM473.55 739.99h2.66v8.20h-2.66zM510.84 739.99h2.66v8.20h-2.66zM71.39 748.19h2.66v8.20h-2.66zM164.60 748.19h2.66v8.20h-2.66zM180.58 748.19h2.66v8.20h-2.66zM220.53 748.19h2.66v8.20h-2.66zM223.20 748.19h2.66v8.20h-2.66zM228.52 748.19h2.66v8.20h-2.66zM284.45 748.19h2.66v8.20h-2.66zM311.09 748.19h2.66v8.20h-2.66zM327.07 748.19h2.66v8.20h-2.66zM430.94 748.19h2.66v8.20h-2.66zM433.60 748.19h2.66v8.20h-2.66zM449.58 748.19h2.66v8.20h-2.66zM468.22 748.19h2.66v8.20h-2.66zM470.89 748.19h2.66v8.20h-2.66zM473.55 748.19h2.66v8.20h-2.66zM489.53 748.19h2.66v8.20h-2.66zM42.09 756.40h2.66v8.20h-2.66zM44.75 756.40h2.66v8.20h-2.66zM90.03 756.40h2.66v8.20h-2.66zM191.24 756.40h2.66v8.20h-2.66zM295.11 756.40h2.66v8.20h-2.66zM414.96 756.40h2.66v8.20h-2.66zM436.26 756.40h2.66v8.20h-2.66zM462.90 756.40h2.66v8.20h-2.66zM473.55 756.40h2.66v8.20h-2.66zM500.18 756.40h2.66v8.20h-2.66zM510.84 756.40h2.66v8.20h-2.66z"/>
<path fill="rgb(244,212,212)" d="M42.09 567.70h2.66v8.20h-2.66zM63.40 567.70h2.66v8.20h-2.66zM103.35 567.70h2.66v8.20h-2.66zM111.34 567.70h2.66v8.20h-2.66zM114.00 567.70h2.66v8.20h-2.66zM478.88 567.70h2.66v8.20h-2.66zM58.07 575.90h2.66v8.20h-2.66zM82.04 575.90h2.66v8.20h-2.66zM129.98 575.90h2.66v8.20h-2.66zM132.64 575.90h2.66v8.20h-2.66zM153.95 575.90h2.66v8.20h-2.66zM220.53 575.90h2.66v8.20h-2.66zM228.52 575.90h2.66v8.20h-2.66zM449.58 575.90h2.66v8.20h-2.66zM55.41 584.11h2.66v8.20h-2.66zM66.06 584.11h2.66v8.20h-2.66zM87.37 584.11h2.66v8.20h-2.66zM90.03 584.11h2.66v8.20h-2.66zM111.34 584.11h2.66v8.20h-2.66zM183.25 584.11h2.66v8.20h-2.66zM324.40 584.11h2.66v8.20h-2.66zM404.30 584.11h2.66v8.20h-2.66zM438.93 584.11h2.66v8.20h-2.66zM58.07 592.31h2.66v8.20h-2.66zM90.03 592.31h2.66v8.20h-2.66zM95.36 592.31h2.66v8.20h-2.66zM119.33 592.31h2.66v8.20h-2.66zM169.93 592.31h2.66v8.20h-2.66zM193.90 592.31h2.66v8.20h-2.66zM209.88 592.31h2.66v8.20h-2.66zM313.75 592.31h2.66v8.20h-2.66zM66.06 600.52h2.66v8.20h-2.66zM74.05 600.52h2.66v8.20h-2.66zM124.65 600.52h2.66v8.20h-2.66zM132.64 600.52h2.66v8.20h-2.66zM143.30 600.52h2.66v8.20h-2.66zM185.91 600.52h2.66v8.20h-2.66zM201.89 600.52h2.66v8.20h-2.66zM271.14 600.52h2.66v8.20h-2.66zM279.13 600.52h2.66v8.20h-2.66zM319.08 600.52h2.66v8.20h-2.66zM34.10 608.72h2.66v8.20h-2.66zM39.43 608.72h2.66v8.20h-2.66zM98.02 608.72h2.66v8.20h-2.66zM106.01 608.72h2.66v8.20h-2.66zM111.34 608.72h2.66v8.20h-2.66zM273.80 608.72h2.66v8.20h-2.66zM452.24 608.72h2.66v8.20h-2.66zM492.19 608.72h2.66v8.20h-2.66zM34.10 616.93h2.66v8.20h-2.66zM60.73 616.93h2.66v8.20h-2.66zM74.05 616.93h2.66v8.20h-2.66zM100.68 616.93h2.66v8.20h-2.66zM164.60 616.93h2.66v8.20h-2.66zM177.92 616.93h2.66v8.20h-2.66zM196.56 616.93h2.66v8.20h-2.66zM34.10 625.13h2.66v8.20h-2.66zM42.09 625.13h2.66v8.20h-2.66zM44.75 625.13h2.66v8.20h-2.66zM76.71 625.13h2.66v8.20h-2.66zM103.35 625.13h2.66v8.20h-2.66zM137.97 625.13h2.66v8.20h-2.66zM191.24 625.13h2.66v8.20h-2.66zM193.90 625.13h2.66v8.20h-2.66zM257.82 625.13h2.66v8.20h-2.66zM465.56 625.13h2.66v8.20h-2.66zM55.41 633.33h2.66v8.20h-2.66zM60.73 633.33h2.66v8.20h-2.66zM63.40 633.33h2.66v8.20h-2.66zM87.37 633.33h2.66v8.20h-2.66zM217.87 633.33h2.66v8.20h-2.66zM284.45 633.33h2.66v8.20h-2.66zM36.76 641.54h2.66v8.20h-2.66zM39.43 641.54h2.66v8.20h-2.66zM50.08 641.54h2.66v8.20h-2.66zM66.06 641.54h2.66v8.20h-2.66zM71.39 641.54h2.66v8.20h-2.66zM79.38 641.54h2.66v8.20h-2.66zM108.67 641.54h2.66v8.20h-2.66zM220.53 641.54h2.66v8.20h-2.66zM279.13 641.54h2.66v8.20h-2.66zM385.66 641.54h2.66v8.20h-2.66zM438.93 641.54h2.66v8.20h-2.66zM199.23 649.74h2.66v8.20h-2.66zM58.07 657.95h2.66v8.20h-2.66zM257.82 666.15h2.66v8.20h-2.66zM175.26 674.35h2.66v8.20h-2.66zM446.92 674.35h2.66v8.20h-2.66zM191.24 682.56h2.66v8.20h-2.66zM406.97 682.56h2.66v8.20h-2.66zM436.26 682.56h2.66v8.20h-2.66zM454.91 682.56h2.66v8.20h-2.66zM473.55 682.56h2.66v8.20h-2.66zM476.21 682.56h2.66v8.20h-2.66zM215.21 690.76h2.66v8.20h-2.66zM335.06 690.76h2.66v8.20h-2.66zM369.68 690.76h2.66v8.20h-2.66zM388.32 690.76h2.66v8.20h-2.66zM398.98 690.76h2.66v8.20h-2.66zM417.62 690.76h2.66v8.20h-2.66zM438.93 690.76h2.66v8.20h-2.66zM486.87 690.76h2.66v8.20h-2.66zM510.84 690.76h2.66v8.20h-2.66zM287.12 698.97h2.66v8.20h-2.66zM414.96 698.97h2.66v8.20h-2.66zM417.62 698.97h2.66v8.20h-2.66zM430.94 698.97h2.66v8.20h-2.66zM436.26 698.97h2.66v8.20h-2.66zM462.90 698.97h2.66v8.20h-2.66zM510.84 698.97h2.66v8.20h-2.66zM319.08 707.17h2.66v8.20h-2.66zM351.04 707.17h2.66v8.20h-2.66zM372.34 707.17h2.66v8.20h-2.66zM396.31 707.17h2.66v8.20h-2.66zM398.98 707.17h2.66v8.20h-2.66zM462.90 707.17h2.66v8.20h-2.66zM470.89 707.17h2.66v8.20h-2.66zM476.21 707.17h2.66v8.20h-2.66zM486.87 707.17h2.66v8.20h-2.66zM300.43 715.38h2.66v8.20h-2.66zM329.73 715.38h2.66v8.20h-2.66zM441.59 715.38h2.66v8.20h-2.66zM449.58 715.38h2.66v8.20h-2.66zM486.87 715.38h2.66v8.20h-2.66zM508.17 715.38h2.66v8.20h-2.66zM510.84 715.38h2.66v8.20h-2.66zM364.35 723.58h2.66v8.20h-2.66zM412.29 723.58h2.66v8.20h-2.66zM420.28 723.58h2.66v8.20h-2.66zM449.58 723.58h2.66v8.20h-2.66zM468.22 723.58h2.66v8.20h-2.66zM489.53 723.58h2.66v8.20h-2.66zM505.51 723.58h2.66v8.20h-2.66zM47.42 731.78h2.66v8.20h-2.66zM223.20 731.78h2.66v8.20h-2.66zM417.62 731.78h2.66v8.20h-2.66zM441.59 731.78h2.66v8.20h-2.66zM478.88 731.78h2.66v8.20h-2.66zM481.54 731.78h2.66v8.20h-2.66zM489.53 731.78h2.66v8.20h-2.66zM494.86 731.78h2.66v8.20h-2.66zM444.25 739.99h2.66v8.20h-2.66zM454.91 739.99h2.66v8.20h-2.66zM470.89 739.99h2.66v8.20h-2.66zM478.88 739.99h2.66v8.20h-2.66zM484.20 739.99h2.66v8.20h-2.66zM279.13 748.19h2.66v8.20h-2.66zM396.31 748.19h2.66v8.20h-2.66zM414.96 748.19h2.66v8.20h-2.66zM484.20 748.19h2.66v8.20h-2.66zM494.86 748.19h2.66v8.20h-2.66zM508.17 748.19h2.66v8.20h-2.66zM351.04 756.40h2.66v8.20h-2.66zM353.70 756.40h2.66v8.20h-2.66zM433.60 756.40h2.66v8.20h-2.66zM446.92 756.40h2.66v8.20h-2.66zM452.24 756.40h2.66v8.20h-2.66zM494.86 756.40h2.66v8.20h-2.66zM502.85 756.40h2.66v8.20h-2.66z"/>
<path fill="rgb(241,201,201)" d="M71.39 567.70h2.66v8.20h-2.66zM95.36 567.70h2.66v8.20h-2.66zM191.24 575.90h2.66v8.20h-2.66zM84.70 584.11h2.66v8.20h-2.66zM92.69 584.11h2.66v8.20h-2.66zM103.35 584.11h2.66v8.20h-2.66zM167.27 584.11h2.66v8.20h-2.66zM329.73 584.11h2.66v8.20h-2.66zM55.41 592.31h2.66v8.20h-2.66zM74.05 592.31h2.66v8.20h-2.66zM156.61 592.31h2.66v8.20h-2.66zM225.86 592.31h2.66v8.20h-2.66zM44.75 600.52h2.66v8.20h-2.66zM63.40 600.52h2.66v8.20h-2.66zM135.31 600.52h2.66v8.20h-2.66zM156.61 600.52h2.66v8.20h-2.66zM50.08 608.72h2.66v8.20h-2.66zM90.03 608.72h2.66v8.20h-2.66zM143.30 608.72h2.66v8.20h-2.66zM175.26 616.93h2.66v8.20h-2.66zM36.76 625.13h2.66v8.20h-2.66zM74.05 625.13h2.66v8.20h-2.66zM98.02 625.13h2.66v8.20h-2.66zM124.65 625.13h2.66v8.20h-2.66zM244.50 625.13h2.66v8.20h-2.66zM196.56 633.33h2.66v8.20h-2.66zM252.49 633.33h2.66v8.20h-2.66zM351.04 633.33h2.66v8.20h-2.66zM84.70 641.54h2.66v8.20h-2.66zM252.49 649.74h2.66v8.20h-2.66zM345.71 649.74h2.66v8.20h-2.66zM247.17 682.56h2.66v8.20h-2.66zM401.64 682.56h2.66v8.20h-2.66zM420.28 682.56h2.66v8.20h-2.66zM441.59 682.56h2.66v8.20h-2.66zM446.92 682.56h2.66v8.20h-2.66zM457.57 682.56h2.66v8.20h-2.66zM470.89 682.56h2.66v8.20h-2.66zM481.54 682.56h2.66v8.20h-2.66zM502.85 682.56h2.66v8.20h-2.66zM404.30 690.76h2.66v8.20h-2.66zM444.25 690.76h2.66v8.20h-2.66zM462.90 690.76h2.66v8.20h-2.66zM494.86 690.76h2.66v8.20h-2.66zM505.51 690.76h2.66v8.20h-2.66zM508.17 690.76h2.66v8.20h-2.66zM396.31 698.97h2.66v8.20h-2.66zM412.29 698.97h2.66v8.20h-2.66zM428.27 698.97h2.66v8.20h-2.66zM444.25 698.97h2.66v8.20h-2.66zM452.24 698.97h2.66v8.20h-2.66zM484.20 698.97h2.66v8.20h-2.66zM497.52 698.97h2.66v8.20h-2.66zM508.17 698.97h2.66v8.20h-2.66zM82.04 707.17h2.66v8.20h-2.66zM428.27 707.17h2.66v8.20h-2.66zM430.94 707.17h2.66v8.20h-2.66zM441.59 707.17h2.66v8.20h-2.66zM481.54 707.17h2.66v8.20h-2.66zM409.63 715.38h2.66v8.20h-2.66zM430.94 715.38h2.66v8.20h-2.66zM446.92 715.38h2.66v8.20h-2.66zM454.91 715.38h2.66v8.20h-2.66zM460.23 715.38h2.66v8.20h-2.66zM462.90 715.38h2.66v8.20h-2.66zM465.56 715.38h2.66v8.20h-2.66zM478.88 715.38h2.66v8.20h-2.66zM481.54 715.38h2.66v8.20h-2.66zM441.59 723.58h2.66v8.20h-2.66zM473.55 723.58h2.66v8.20h-2.66zM476.21 723.58h2.66v8.20h-2.66zM478.88 723.58h2.66v8.20h-2.66zM510.84 723.58h2.66v8.20h-2.66zM343.05 731.78h2.66v8.20h-2.66zM436.26 731.78h2.66v8.20h-2.66zM449.58 731.78h2.66v8.20h-2.66zM460.23 731.78h2.66v8.20h-2.66zM462.90 731.78h2.66v8.20h-2.66zM465.56 731.78h2.66v8.20h-2.66zM468.22 731.78h2.66v8.20h-2.66zM508.17 731.78h2.66v8.20h-2.66zM414.96 739.99h2.66v8.20h-2.66zM420.28 739.99h2.66v8.20h-2.66zM457.57 739.99h2.66v8.20h-2.66zM486.87 739.99h2.66v8.20h-2.66zM489.53 739.99h2.66v8.20h-2.66zM494.86 739.99h2.66v8.20h-2.66zM502.85 739.99h2.66v8.20h-2.66zM508.17 739.99h2.66v8.20h-2.66zM39.43 748.19h2.66v8.20h-2.66zM212.54 748.19h2.66v8.20h-2.66zM452.24 748.19h2.66v8.20h-2.66zM465.56 748.19h2.66v8.20h-2.66zM497.52 748.19h2.66v8.20h-2.66zM228.52 756.40h2.66v8.20h-2.66zM385.66 756.40h2.66v8.20h-2.66zM457.57 756.40h2.66v8.20h-2.66zM476.21 756.40h2.66v8.20h-2.66z"/>
<path fill="rgb(238,190,190)" d="M34.10 567.70h2.66v8.20h-2.66zM52.74 567.70h2.66v8.20h-2.66zM106.01 567.70h2.66v8.20h-2.66zM39.43 584.11h2.66v8.20h-2.66zM74.05 584.11h2.66v8.20h-2.66zM76.71 592.31h2.66v8.20h-2.66zM76.71 600.52h2.66v8.20h-2.66zM329.73 600.52h2.66v8.20h-2.66zM58.07 616.93h2.66v8.20h-2.66zM111.34 616.93h2.66v8.20h-2.66zM319.08 616.93h2.66v8.20h-2.66zM454.91 616.93h2.66v8.20h-2.66zM292.44 633.33h2.66v8.20h-2.66zM409.63 666.15h2.66v8.20h-2.66zM255.16 674.35h2.66v8.20h-2.66zM404.30 682.56h2.66v8.20h-2.66zM417.62 682.56h2.66v8.20h-2.66zM460.23 682.56h2.66v8.20h-2.66zM462.90 682.56h2.66v8.20h-2.66zM468.22 682.56h2.66v8.20h-2.66zM484.20 682.56h2.66v8.20h-2.66zM492.19 682.56h2.66v8.20h-2.66zM508.17 682.56h2.66v8.20h-2.66zM510.84 682.56h2.66v8.20h-2.66zM430.94 690.76h2.66v8.20h-2.66zM446.92 690.76h2.66v8.20h-2.66zM465.56 690.76h2.66v8.20h-2.66zM470.89 690.76h2.66v8.20h-2.66zM484.20 690.76h2.66v8.20h-2.66zM500.18 690.76h2.66v8.20h-2.66zM446.92 698.97h2.66v8.20h-2.66zM457.57 698.97h2.66v8.20h-2.66zM468.22 698.97h2.66v8.20h-2.66zM486.87 698.97h2.66v8.20h-2.66zM489.53 698.97h2.66v8.20h-2.66zM502.85 698.97h2.66v8.20h-2.66zM90.03 707.17h2.66v8.20h-2.66zM460.23 707.17h2.66v8.20h-2.66zM478.88 707.17h2.66v8.20h-2.66zM494.86 707.17h2.66v8.20h-2.66zM494.86 715.38h2.66v8.20h-2.66zM505.51 715.38h2.66v8.20h-2.66zM332.39 723.58h2.66v8.20h-2.66zM425.61 723.58h2.66v8.20h-2.66zM452.24 723.58h2.66v8.20h-2.66zM462.90 723.58h2.66v8.20h-2.66zM465.56 723.58h2.66v8.20h-2.66zM484.20 723.58h2.66v8.20h-2.66zM486.87 723.58h2.66v8.20h-2.66zM494.86 723.58h2.66v8.20h-2.66zM500.18 723.58h2.66v8.20h-2.66zM470.89 731.78h2.66v8.20h-2.66zM492.19 731.78h2.66v8.20h-2.66zM497.52 731.78h2.66v8.20h-2.66zM500.18 731.78h2.66v8.20h-2.66zM169.93 739.99h2.66v8.20h-2.66zM460.23 739.99h2.66v8.20h-2.66zM462.90 739.99h2.66v8.20h-2.66zM476.21 739.99h2.66v8.20h-2.66zM409.63 748.19h2.66v8.20h-2.66zM454.91 748.19h2.66v8.20h-2.66zM486.87 748.19h2.66v8.20h-2.66zM470.89 756.40h2.66v8.20h-2.66zM505.51 756.40h2.66v8.20h-2.66zM508.17 756.40h2.66v8.20h-2.66z"/>
<path fill="rgb(236,180,180)" d="M66.06 567.70h2.66v8.20h-2.66zM337.72 567.70h2.66v8.20h-2.66zM60.73 575.90h2.66v8.20h-2.66zM249.83 584.11h2.66v8.20h-2.66zM52.74 592.31h2.66v8.20h-2.66zM169.93 616.93h2.66v8.20h-2.66zM337.72 616.93h2.66v8.20h-2.66zM353.70 625.13h2.66v8.20h-2.66zM452.24 682.56h2.66v8.20h-2.66zM486.87 682.56h2.66v8.20h-2.66zM473.55 690.76h2.66v8.20h-2.66zM492.19 690.76h2.66v8.20h-2.66zM66.06 698.97h2.66v8.20h-2.66zM223.20 698.97h2.66v8.20h-2.66zM454.91 698.97h2.66v8.20h-2.66zM476.21 698.97h2.66v8.20h-2.66zM505.51 698.97h2.66v8.20h-2.66zM454.91 707.17h2.66v8.20h-2.66zM505.51 707.17h2.66v8.20h-2.66zM98.02 715.38h2.66v8.20h-2.66zM420.28 715.38h2.66v8.20h-2.66zM454.91 723.58h2.66v8.20h-2.66zM457.57 723.58h2.66v8.20h-2.66zM452.24 731.78h2.66v8.20h-2.66zM484.20 731.78h2.66v8.20h-2.66zM502.85 731.78h2.66v8.20h-2.66zM510.84 731.78h2.66v8.20h-2.66zM436.26 739.99h2.66v8.20h-2.66zM481.54 739.99h2.66v8.20h-2.66zM500.18 739.99h2.66v8.20h-2.66zM492.19 748.19h2.66v8.20h-2.66zM129.98 756.40h2.66v8.20h-2.66zM279.13 756.40h2.66v8.20h-2.66zM478.88 756.40h2.66v8.20h-2.66z"/>
<path fill="rgb(233,169,169)" d="M119.33 567.70h2.66v8.20h-2.66zM87.37 575.90h2.66v8.20h-2.66zM321.74 584.11h2.66v8.20h-2.66zM175.26 592.31h2.66v8.20h-2.66zM183.25 616.93h2.66v8.20h-2.66zM193.90 682.56h2.66v8.20h-2.66zM497.52 682.56h2.66v8.20h-2.66zM481.54 690.76h2.66v8.20h-2.66zM470.89 698.97h2.66v8.20h-2.66zM452.24 707.17h2.66v8.20h-2.66zM473.55 707.17h2.66v8.20h-2.66zM500.18 707.17h2.66v8.20h-2.66zM457.57 715.38h2.66v8.20h-2.66zM233.85 739.99h2.66v8.20h-2.66zM497.52 739.99h2.66v8.20h-2.66zM505.51 739.99h2.66v8.20h-2.66zM367.02 756.40h2.66v8.20h-2.66z"/>
<path fill="rgb(230,158,158)" d="M231.19 608.72h2.66v8.20h-2.66zM71.39 625.13h2.66v8.20h-2.66zM406.97 633.33h2.66v8.20h-2.66zM497.52 690.76h2.66v8.20h-2.66zM502.85 707.17h2.66v8.20h-2.66zM492.19 715.38h2.66v8.20h-2.66zM497.52 715.38h2.66v8.20h-2.66zM257.82 731.78h2.66v8.20h-2.66zM486.87 731.78h2.66v8.20h-2.66z"/>
<path fill="rgb(228,148,148)" d="M52.74 731.78h2.66v8.20h-2.66z"/>
<path fill="rgb(225,137,137)" d="M449.58 690.76h2.66v8.20h-2.66zM444.25 723.58h2.66v8.20h-2.66z"/>
<path fill="rgb(208,72,72)" d="M47.42 592.31h2.66v8.20h-2.66zM66.06 592.31h2.66v8.20h-2.66zM121.99 608.72h2.66v8.20h-2.66zM396.31 649.74h2.66v8.20h-2.66zM481.54 649.74h2.66v8.20h-2.66zM508.17 649.74h2.66v8.20h-2.66zM481.54 657.95h2.66v8.20h-2.66zM417.62 666.15h2.66v8.20h-2.66zM436.26 690.76h2.66v8.20h-2.66zM505.51 731.78h2.66v8.20h-2.66zM324.40 748.19h2.66v8.20h-2.66z"/>
<path stroke="#9596a0" stroke-width="0.9" fill="none" d="M34.10 567.70V764.60M36.76 567.70V764.60M39.43 567.70V764.60M42.09 567.70V764.60M44.75 567.70V764.60M47.42 567.70V764.60M50.08 567.70V764.60M52.74 567.70V764.60M55.41 567.70V764.60M58.07 567.70V764.60M60.73 567.70V764.60M63.40 567.70V764.60M66.06 567.70V764.60M68.72 567.70V764.60M71.39 567.70V764.60M74.05 567.70V764.60M76.71 567.70V764.60M79.38 567.70V764.60M82.04 567.70V764.60M84.70 567.70V764.60M87.37 567.70V764.60M90.03 567.70V764.60M92.69 567.70V764.60M95.36 567.70V764.60M98.02 567.70V764.60M100.68 567.70V764.60M103.35 567.70V764.60M106.01 567.70V764.60M108.67 567.70V764.60M111.34 567.70V764.60M114.00 567.70V764.60M116.66 567.70V764.60M119.33 567.70V764.60M121.99 567.70V764.60M124.65 567.70V764.60M127.32 567.70V764.60M129.98 567.70V764.60M132.64 567.70V764.60M135.31 567.70V764.60M137.97 567.70V764.60M140.63 567.70V764.60M143.30 567.70V764.60M145.96 567.70V764.60M148.62 567.70V764.60M151.29 567.70V764.60M153.95 567.70V764.60M156.61 567.70V764.60M159.28 567.70V764.60M161.94 567.70V764.60M164.60 567.70V764.60M167.27 567.70V764.60M169.93 567.70V764.60M172.59 567.70V764.60M175.26 567.70V764.60M177.92 567.70V764.60M180.58 567.70V764.60M183.25 567.70V764.60M185.91 567.70V764.60M188.57 567.70V764.60M191.24 567.70V764.60M193.90 567.70V764.60M196.56 567.70V764.60M199.23 567.70V764.60M201.89 567.70V764.60M204.55 567.70V764.60M207.22 567.70V764.60M209.88 567.70V764.60M212.54 567.70V764.60M215.21 567.70V764.60M217.87 567.70V764.60M220.53 567.70V764.60M223.20 567.70V764.60M225.86 567.70V764.60M228.52 567.70V764.60M231.19 567.70V764.60M233.85 567.70V764.60M236.51 567.70V764.60M239.18 567.70V764.60M241.84 567.70V764.60M244.50 567.70V764.60M247.17 567.70V764.60M249.83 567.70V764.60M252.49 567.70V764.60M255.16 567.70V764.60M257.82 567.70V764.60M260.48 567.70V764.60M263.15 567.70V764.60M265.81 567.70V764.60M268.47 567.70V764.60M271.14 567.70V764.60M273.80 567.70V764.60M276.46 567.70V764.60M279.13 567.70V764.60M281.79 567.70V764.60M284.45 567.70V764.60M287.12 567.70V764.60M289.78 567.70V764.60M292.44 567.70V764.60M295.11 567.70V764.60M297.77 567.70V764.60M300.43 567.70V764.60M303.10 567.70V764.60M305.76 567.70V764.60M308.42 567.70V764.60M311.09 567.70V764.60M313.75 567.70V764.60M316.41 567.70V764.60M319.08 567.70V764.60M321.74 567.70V764.60M324.40 567.70V764.60M327.07 567.70V764.60M329.73 567.70V764.60M332.39 567.70V764.60M335.06 567.70V764.60M337.72 567.70V764.60M340.38 567.70V764.60M343.05 567.70V764.60M345.71 567.70V764.60M348.37 567.70V764.60M351.04 567.70V764.60M353.70 567.70V764.60M356.36 567.70V764.60M359.03 567.70V764.60M361.69 567.70V764.60M364.35 567.70V764.60M367.02 567.70V764.60M369.68 567.70V764.60M372.34 567.70V764.60M375.01 567.70V764.60M377.67 567.70V764.60M380.33 567.70V764.60M383.00 567.70V764.60M385.66 567.70V764.60M388.32 567.70V764.60M390.99 567.70V764.60M393.65 567.70V764.60M396.31 567.70V764.60M398.98 567.70V764.60M401.64 567.70V764.60M404.30 567.70V764.60M406.97 567.70V764.60M409.63 567.70V764.60M412.29 567.70V764.60M414.96 567.70V764.60M417.62 567.70V764.60M420.28 567.70V764.60M422.95 567.70V764.60M425.61 567.70V764.60M428.27 567.70V764.60M430.94 567.70V764.60M433.60 567.70V764.60M436.26 567.70V764.60M438.93 567.70V764.60M441.59 567.70V764.60M444.25 567.70V764.60M446.92 567.70V764.60M449.58 567.70V764.60M452.24 567.70V764.60M454.91 567.70V764.60M457.57 567.70V764.60M460.23 567.70V764.60M462.90 567.70V764.60M465.56 567.70V764.60M468.22 567.70V764.60M470.89 567.70V764.60M473.55 567.70V764.60M476.21 567.70V764.60M478.88 567.70V764.60M481.54 567.70V764.60M484.20 567.70V764.60M486.87 567.70V764.60M489.53 567.70V764.60M492.19 567.70V764.60M494.86 567.70V764.60M497.52 567.70V764.60M500.18 567.70V764.60M502.85 567.70V764.60M505.51 567.70V764.60M508.17 567.70V764.60M510.84 567.70V764.60M513.50 567.70V764.60M34.10 567.70H513.50M34.10 575.90H513.50M34.10 584.11H513.50M34.10 592.31H513.50M34.10 600.52H513.50M34.10 608.72H513.50M34.10 616.93H513.50M34.10 625.13H513.50M34.10 633.33H513.50M34.10 641.54H513.50M34.10 649.74H513.50M34.10 657.95H513.50M34.10 666.15H513.50M34.10 674.35H513.50M34.10 682.56H513.50M34.10 690.76H513.50M34.10 698.97H513.50M34.10 707.17H513.50M34.10 715.38H513.50M34.10 723.58H513.50M34.10 731.78H513.50M34.10 739.99H513.50M34.10 748.19H513.50M34.10 756.40H513.50M34.10 764.60H513.50"/>
<path stroke="#222" stroke-width="1.5" fill="none" d="M34.1 566.9000000000001H513.5"/>
<path stroke="#111" stroke-width="1.5" fill="none" d="M34.7 566.7V764.6 M34.7 764.6H513.5"/>
<rect x="32.6" y="9.9" width="4" height="4.2" fill="#000"/>
<text x="29.2" y="15" font-size="10.3" font-weight="bold" text-anchor="end">6</text>
<rect x="32.6" y="89.9" width="4" height="4.2" fill="#000"/>
<text x="29.0" y="93" font-size="10.3" font-weight="bold" text-anchor="end">4</text>
<rect x="32.6" y="169.9" width="4" height="4.2" fill="#000"/>
<text x="29.0" y="174" font-size="10.3" font-weight="bold" text-anchor="end">2</text>
<rect x="32.6" y="249.9" width="4" height="4.2" fill="#000"/>
<text x="27.0" y="254.9" font-size="10.3" font-weight="bold" text-anchor="end">0</text>
<rect x="32.6" y="329.9" width="4" height="4.2" fill="#000"/>
<text x="27.3" y="332.2" font-size="10.3" font-weight="bold" text-anchor="end">-2</text>
<g fill="#000"><circle cx="45.40" cy="251.8" r="1.8"/><circle cx="54.98" cy="251.8" r="1.8"/><circle cx="64.57" cy="251.8" r="1.8"/><circle cx="74.16" cy="251.8" r="1.8"/><circle cx="83.74" cy="251.8" r="1.8"/><circle cx="93.33" cy="251.8" r="1.8"/><circle cx="102.91" cy="251.8" r="1.8"/><circle cx="112.50" cy="251.8" r="1.8"/><circle cx="122.08" cy="251.8" r="1.8"/><circle cx="131.67" cy="251.8" r="1.8"/><circle cx="141.25" cy="251.8" r="1.8"/><circle cx="150.84" cy="251.8" r="1.8"/><circle cx="160.42" cy="251.8" r="1.8"/><circle cx="170.01" cy="251.8" r="1.8"/><circle cx="179.59" cy="251.8" r="1.8"/><circle cx="189.18" cy="251.8" r="1.8"/><circle cx="198.76" cy="251.8" r="1.8"/><circle cx="208.35" cy="251.8" r="1.8"/><circle cx="217.93" cy="251.8" r="1.8"/><circle cx="227.52" cy="251.8" r="1.8"/><circle cx="237.10" cy="251.8" r="1.8"/><circle cx="246.69" cy="251.8" r="1.8"/><circle cx="256.27" cy="251.8" r="1.8"/><circle cx="265.86" cy="251.8" r="1.8"/><circle cx="275.44" cy="251.8" r="1.8"/><circle cx="285.03" cy="251.8" r="1.8"/><circle cx="294.61" cy="251.8" r="1.8"/><circle cx="304.19" cy="251.8" r="1.8"/><circle cx="313.78" cy="251.8" r="1.8"/><circle cx="323.37" cy="251.8" r="1.8"/><circle cx="332.95" cy="251.8" r="1.8"/><circle cx="342.54" cy="251.8" r="1.8"/><circle cx="352.12" cy="251.8" r="1.8"/><circle cx="361.70" cy="251.8" r="1.8"/><circle cx="371.29" cy="251.8" r="1.8"/><circle cx="380.88" cy="251.8" r="1.8"/><circle cx="390.46" cy="251.8" r="1.8"/><circle cx="400.05" cy="251.8" r="1.8"/><circle cx="409.63" cy="251.8" r="1.8"/><circle cx="419.22" cy="251.8" r="1.8"/><circle cx="428.80" cy="251.8" r="1.8"/><circle cx="438.38" cy="251.8" r="1.8"/><circle cx="447.97" cy="251.8" r="1.8"/><circle cx="457.56" cy="251.8" r="1.8"/><circle cx="467.14" cy="251.8" r="1.8"/><circle cx="476.73" cy="251.8" r="1.8"/><circle cx="486.31" cy="251.8" r="1.8"/><circle cx="495.90" cy="251.8" r="1.8"/><circle cx="505.48" cy="251.8" r="1.8"/></g>
<g fill="#f05a1c"><circle cx="38.30" cy="317.00" r="3.45"/><circle cx="40.69" cy="315.12" r="3.45"/><circle cx="43.09" cy="313.01" r="3.45"/><circle cx="45.48" cy="310.62" r="3.45"/><circle cx="47.88" cy="308.47" r="3.45"/><circle cx="50.27" cy="306.69" r="3.45"/><circle cx="52.67" cy="305.00" r="3.45"/><circle cx="55.06" cy="303.36" r="3.45"/><circle cx="57.46" cy="301.73" r="3.45"/><circle cx="59.85" cy="299.35" r="3.45"/><circle cx="62.25" cy="297.35" r="3.45"/><circle cx="64.64" cy="296.71" r="3.45"/><circle cx="67.04" cy="296.06" r="3.45"/><circle cx="69.43" cy="295.45" r="3.45"/><circle cx="71.83" cy="294.86" r="3.45"/><circle cx="74.22" cy="294.28" r="3.45"/><circle cx="76.62" cy="293.69" r="3.45"/><circle cx="79.01" cy="292.98" r="3.45"/><circle cx="81.41" cy="292.27" r="3.45"/><circle cx="83.80" cy="291.56" r="3.45"/><circle cx="86.20" cy="290.99" r="3.45"/><circle cx="88.59" cy="290.57" r="3.45"/><circle cx="90.99" cy="290.14" r="3.45"/><circle cx="93.38" cy="289.72" r="3.45"/><circle cx="95.78" cy="289.24" r="3.45"/><circle cx="98.17" cy="288.77" r="3.45"/><circle cx="100.57" cy="288.29" r="3.45"/><circle cx="102.96" cy="287.81" r="3.45"/><circle cx="105.36" cy="287.38" r="3.45"/><circle cx="107.75" cy="287.00" r="3.45"/><circle cx="110.15" cy="286.62" r="3.45"/><circle cx="112.54" cy="286.24" r="3.45"/><circle cx="114.94" cy="285.86" r="3.45"/><circle cx="117.33" cy="285.44" r="3.45"/><circle cx="119.73" cy="285.02" r="3.45"/><circle cx="122.12" cy="284.38" r="3.45"/><circle cx="124.52" cy="283.48" r="3.45"/><circle cx="126.91" cy="282.57" r="3.45"/><circle cx="129.31" cy="281.67" r="3.45"/><circle cx="131.70" cy="281.19" r="3.45"/><circle cx="134.10" cy="280.73" r="3.45"/><circle cx="136.49" cy="280.28" r="3.45"/><circle cx="138.89" cy="279.93" r="3.45"/><circle cx="141.28" cy="279.73" r="3.45"/><circle cx="143.68" cy="279.53" r="3.45"/><circle cx="146.07" cy="279.33" r="3.45"/><circle cx="148.47" cy="279.13" r="3.45"/><circle cx="150.86" cy="278.75" r="3.45"/><circle cx="153.26" cy="278.07" r="3.45"/><circle cx="155.65" cy="277.38" r="3.45"/><circle cx="158.05" cy="276.70" r="3.45"/><circle cx="160.44" cy="276.02" r="3.45"/><circle cx="162.84" cy="275.35" r="3.45"/><circle cx="165.23" cy="274.69" r="3.45"/><circle cx="167.63" cy="274.02" r="3.45"/><circle cx="170.02" cy="273.36" r="3.45"/><circle cx="172.42" cy="272.75" r="3.45"/><circle cx="174.81" cy="272.25" r="3.45"/><circle cx="177.21" cy="271.76" r="3.45"/><circle cx="179.60" cy="271.26" r="3.45"/><circle cx="182.00" cy="270.76" r="3.45"/><circle cx="184.39" cy="270.36" r="3.45"/><circle cx="186.79" cy="269.98" r="3.45"/><circle cx="189.18" cy="269.60" r="3.45"/><circle cx="191.58" cy="269.21" r="3.45"/><circle cx="193.97" cy="268.79" r="3.45"/><circle cx="196.37" cy="268.31" r="3.45"/><circle cx="198.76" cy="267.84" r="3.45"/><circle cx="201.16" cy="267.36" r="3.45"/><circle cx="203.55" cy="266.89" r="3.45"/><circle cx="205.95" cy="266.32" r="3.45"/><circle cx="208.34" cy="265.75" r="3.45"/><circle cx="210.74" cy="265.18" r="3.45"/><circle cx="213.13" cy="264.61" r="3.45"/><circle cx="215.53" cy="264.16" r="3.45"/><circle cx="217.92" cy="263.78" r="3.45"/><circle cx="220.32" cy="263.40" r="3.45"/><circle cx="222.71" cy="263.02" r="3.45"/><circle cx="225.11" cy="262.64" r="3.45"/><circle cx="227.50" cy="262.30" r="3.45"/><circle cx="229.90" cy="261.96" r="3.45"/><circle cx="232.29" cy="261.62" r="3.45"/><circle cx="234.69" cy="261.27" r="3.45"/><circle cx="237.08" cy="261.02" r="3.45"/><circle cx="239.48" cy="260.80" r="3.45"/><circle cx="241.87" cy="260.57" r="3.45"/><circle cx="244.27" cy="260.34" r="3.45"/><circle cx="246.66" cy="260.07" r="3.45"/><circle cx="249.06" cy="259.69" r="3.45"/><circle cx="251.45" cy="259.32" r="3.45"/></g>
<g fill="#2f7d32"><circle cx="253.85" cy="258.89" r="3.45"/><circle cx="256.24" cy="258.43" r="3.45"/><circle cx="258.64" cy="257.97" r="3.45"/><circle cx="261.03" cy="257.51" r="3.45"/><circle cx="263.43" cy="257.01" r="3.45"/><circle cx="265.82" cy="256.52" r="3.45"/><circle cx="268.22" cy="256.02" r="3.45"/><circle cx="270.61" cy="255.52" r="3.45"/><circle cx="273.01" cy="255.16" r="3.45"/><circle cx="275.40" cy="254.84" r="3.45"/><circle cx="277.80" cy="254.52" r="3.45"/><circle cx="280.19" cy="254.20" r="3.45"/><circle cx="282.59" cy="253.82" r="3.45"/><circle cx="284.98" cy="253.35" r="3.45"/><circle cx="287.38" cy="252.88" r="3.45"/><circle cx="289.77" cy="252.40" r="3.45"/><circle cx="292.17" cy="251.93" r="3.45"/><circle cx="294.56" cy="251.54" r="3.45"/><circle cx="296.96" cy="251.15" r="3.45"/><circle cx="299.35" cy="250.77" r="3.45"/><circle cx="301.75" cy="250.38" r="3.45"/><circle cx="304.14" cy="249.98" r="3.45"/><circle cx="306.54" cy="249.55" r="3.45"/><circle cx="308.93" cy="249.12" r="3.45"/><circle cx="311.33" cy="248.69" r="3.45"/><circle cx="313.72" cy="248.24" r="3.45"/><circle cx="316.12" cy="247.62" r="3.45"/><circle cx="318.51" cy="247.00" r="3.45"/><circle cx="320.91" cy="246.38" r="3.45"/><circle cx="323.30" cy="245.54" r="3.45"/><circle cx="325.70" cy="244.52" r="3.45"/><circle cx="328.09" cy="243.49" r="3.45"/><circle cx="330.49" cy="240.64" r="3.45"/><circle cx="332.88" cy="237.99" r="3.45"/><circle cx="335.28" cy="237.28" r="3.45"/><circle cx="337.67" cy="236.58" r="3.45"/><circle cx="340.07" cy="235.87" r="3.45"/><circle cx="342.46" cy="234.10" r="3.45"/><circle cx="344.86" cy="231.65" r="3.45"/><circle cx="347.25" cy="230.78" r="3.45"/><circle cx="349.65" cy="230.17" r="3.45"/><circle cx="352.04" cy="229.56" r="3.45"/><circle cx="354.44" cy="228.95" r="3.45"/><circle cx="356.83" cy="227.94" r="3.45"/><circle cx="359.23" cy="226.41" r="3.45"/><circle cx="361.62" cy="224.87" r="3.45"/><circle cx="364.02" cy="223.70" r="3.45"/><circle cx="366.41" cy="222.65" r="3.45"/><circle cx="368.81" cy="221.60" r="3.45"/><circle cx="371.20" cy="220.92" r="3.45"/><circle cx="373.60" cy="220.39" r="3.45"/><circle cx="375.99" cy="219.86" r="3.45"/><circle cx="378.39" cy="219.33" r="3.45"/><circle cx="380.78" cy="218.79" r="3.45"/><circle cx="383.18" cy="218.02" r="3.45"/><circle cx="385.57" cy="217.20" r="3.45"/><circle cx="387.97" cy="216.38" r="3.45"/><circle cx="390.36" cy="215.56" r="3.45"/><circle cx="392.76" cy="214.64" r="3.45"/><circle cx="395.15" cy="213.60" r="3.45"/><circle cx="397.55" cy="212.56" r="3.45"/><circle cx="399.94" cy="211.52" r="3.45"/><circle cx="402.34" cy="210.49" r="3.45"/><circle cx="404.73" cy="210.07" r="3.45"/><circle cx="407.13" cy="209.65" r="3.45"/><circle cx="409.52" cy="209.22" r="3.45"/><circle cx="411.92" cy="208.77" r="3.45"/><circle cx="414.31" cy="203.82" r="3.45"/><circle cx="416.71" cy="201.34" r="3.45"/><circle cx="419.10" cy="199.84" r="3.45"/><circle cx="421.50" cy="198.35" r="3.45"/><circle cx="423.89" cy="196.96" r="3.45"/><circle cx="426.29" cy="196.08" r="3.45"/><circle cx="428.68" cy="195.21" r="3.45"/><circle cx="431.08" cy="194.34" r="3.45"/><circle cx="433.47" cy="190.10" r="3.45"/><circle cx="435.87" cy="187.16" r="3.45"/><circle cx="438.26" cy="185.17" r="3.45"/><circle cx="440.66" cy="183.30" r="3.45"/><circle cx="443.05" cy="182.40" r="3.45"/><circle cx="445.45" cy="181.50" r="3.45"/><circle cx="447.84" cy="180.60" r="3.45"/><circle cx="450.24" cy="179.25" r="3.45"/><circle cx="452.63" cy="175.50" r="3.45"/><circle cx="455.03" cy="168.50" r="3.45"/><circle cx="457.42" cy="160.00" r="3.45"/><circle cx="459.82" cy="158.50" r="3.45"/><circle cx="462.21" cy="131.50" r="3.45"/><circle cx="464.61" cy="130.50" r="3.45"/><circle cx="467.00" cy="72.20" r="3.45"/></g>
<path stroke="#000" stroke-width="2.5" stroke-dasharray="3.6 0.5 3.6 0.5 3.6 0.5 3.7 16" d="M253.3 3V337.5"/>
<rect x="250" y="0" width="6" height="11.2" fill="#fff"/>
<path stroke="#000" stroke-width="2.2" d="M253.3 12V19.5"/>
<g stroke="#000" fill="none">
<path stroke-width="1.7" d="M36.5 12.2H515.5"/>
<path stroke-width="2" d="M36.5 11.3V332.5"/>
<path stroke-width="2" d="M514.8 11.3V332.5"/>
<path stroke-width="2" d="M32 332H515.8"/>
</g>
<g stroke="#000" fill="none">
<path stroke-width="1.6" d="M33 340.2H514.5"/>
<path stroke-width="2" d="M35 339.5V563"/>
<path stroke-width="1.9" d="M514.4 339.5V563"/>
<path stroke-width="1.7" d="M33 562.6H515.3"/>
</g>
<rect x="33.1" y="337.8" width="3.6" height="4.4" fill="#000"/>
<text x="30.6" y="345.9" font-size="9.8" class="t" text-anchor="end">100</text>
<rect x="33.1" y="382.3" width="3.6" height="4.4" fill="#000"/>
<text x="30.4" y="388.4" font-size="9.8" class="t" text-anchor="end">80</text>
<rect x="33.1" y="426.8" width="3.6" height="4.4" fill="#000"/>
<text x="30.3" y="432.4" font-size="9.8" class="t" text-anchor="end">60</text>
<rect x="33.1" y="471.3" width="3.6" height="4.4" fill="#000"/>
<text x="28.8" y="477.3" font-size="9.8" class="t" text-anchor="end">40</text>
<rect x="33.1" y="515.8" width="3.6" height="4.4" fill="#000"/>
<text x="28.8" y="522.8" font-size="9.8" class="t" text-anchor="end">20</text>
<rect x="33.1" y="560.4" width="3.6" height="4.4" fill="#000"/>
<text x="26.7" y="562.9" font-size="9.8" class="t" text-anchor="end">0</text>
<g fill="#000"><circle cx="45.70" cy="562.6" r="1.75"/><circle cx="55.26" cy="562.6" r="1.75"/><circle cx="64.83" cy="562.6" r="1.75"/><circle cx="74.39" cy="562.6" r="1.75"/><circle cx="83.95" cy="562.6" r="1.75"/><circle cx="93.51" cy="562.6" r="1.75"/><circle cx="103.08" cy="562.6" r="1.75"/><circle cx="112.64" cy="562.6" r="1.75"/><circle cx="122.20" cy="562.6" r="1.75"/><circle cx="131.76" cy="562.6" r="1.75"/><circle cx="141.32" cy="562.6" r="1.75"/><circle cx="150.89" cy="562.6" r="1.75"/><circle cx="160.45" cy="562.6" r="1.75"/><circle cx="170.01" cy="562.6" r="1.75"/><circle cx="179.57" cy="562.6" r="1.75"/><circle cx="189.14" cy="562.6" r="1.75"/><circle cx="198.70" cy="562.6" r="1.75"/><circle cx="208.26" cy="562.6" r="1.75"/><circle cx="217.82" cy="562.6" r="1.75"/><circle cx="227.39" cy="562.6" r="1.75"/><circle cx="236.95" cy="562.6" r="1.75"/><circle cx="246.51" cy="562.6" r="1.75"/><circle cx="256.07" cy="562.6" r="1.75"/><circle cx="265.64" cy="562.6" r="1.75"/><circle cx="275.20" cy="562.6" r="1.75"/><circle cx="284.76" cy="562.6" r="1.75"/><circle cx="294.32" cy="562.6" r="1.75"/><circle cx="303.89" cy="562.6" r="1.75"/><circle cx="313.45" cy="562.6" r="1.75"/><circle cx="323.01" cy="562.6" r="1.75"/><circle cx="332.57" cy="562.6" r="1.75"/><circle cx="342.14" cy="562.6" r="1.75"/><circle cx="351.70" cy="562.6" r="1.75"/><circle cx="361.26" cy="562.6" r="1.75"/><circle cx="370.82" cy="562.6" r="1.75"/><circle cx="380.39" cy="562.6" r="1.75"/><circle cx="389.95" cy="562.6" r="1.75"/><circle cx="399.51" cy="562.6" r="1.75"/><circle cx="409.07" cy="562.6" r="1.75"/><circle cx="418.64" cy="562.6" r="1.75"/><circle cx="428.20" cy="562.6" r="1.75"/><circle cx="437.76" cy="562.6" r="1.75"/><circle cx="447.32" cy="562.6" r="1.75"/><circle cx="456.89" cy="562.6" r="1.75"/><circle cx="466.45" cy="562.6" r="1.75"/><circle cx="476.01" cy="562.6" r="1.75"/><circle cx="485.57" cy="562.6" r="1.75"/><circle cx="495.14" cy="562.6" r="1.75"/><circle cx="504.70" cy="562.6" r="1.75"/></g>
<path stroke="#000" stroke-width="2.5" stroke-dasharray="3.6 0.5 3.6 0.5 3.6 0.5 3.7 16" d="M252.5 353V562"/>
<g fill="#2c4aa8"><ellipse cx="67.6" cy="354.4" rx="3.4" ry="2.45"/><ellipse cx="60.6" cy="362.3" rx="3.4" ry="2.45"/><ellipse cx="69.9" cy="365.9" rx="3.4" ry="2.45"/><ellipse cx="77" cy="377.5" rx="3.4" ry="2.45"/><ellipse cx="91.1" cy="374.3" rx="3.4" ry="2.45"/><ellipse cx="98.5" cy="379.1" rx="3.4" ry="2.45"/><ellipse cx="135.8" cy="374.6" rx="3.4" ry="2.45"/><ellipse cx="48.2" cy="381" rx="3.4" ry="2.45"/><ellipse cx="100.6" cy="399.4" rx="3.4" ry="2.45"/><ellipse cx="125" cy="397.3" rx="3.4" ry="2.45"/><ellipse cx="65" cy="404.3" rx="3.4" ry="2.45"/><ellipse cx="57.9" cy="407.5" rx="3.4" ry="2.45"/><ellipse cx="53" cy="410.1" rx="3.4" ry="2.45"/><ellipse cx="38.9" cy="428.5" rx="3.4" ry="2.45"/><ellipse cx="50.9" cy="426.5" rx="3.4" ry="2.45"/><ellipse cx="84.4" cy="427.6" rx="3.4" ry="2.45"/><ellipse cx="89.3" cy="429.9" rx="3.4" ry="2.45"/><ellipse cx="79.4" cy="431.8" rx="3.4" ry="2.45"/><ellipse cx="96.2" cy="434.1" rx="3.4" ry="2.45"/><ellipse cx="112.8" cy="429.2" rx="3.4" ry="2.45"/><ellipse cx="108.2" cy="443.3" rx="3.4" ry="2.45"/><ellipse cx="86.5" cy="452.5" rx="3.4" ry="2.45"/><ellipse cx="110.5" cy="454.2" rx="3.4" ry="2.45"/><ellipse cx="120" cy="453" rx="3.4" ry="2.45"/><ellipse cx="134" cy="453.6" rx="3.4" ry="2.45"/><ellipse cx="105.9" cy="486.8" rx="3.4" ry="2.45"/><ellipse cx="115.4" cy="490.3" rx="3.4" ry="2.45"/><ellipse cx="122.3" cy="500.6" rx="3.4" ry="2.45"/><ellipse cx="74.9" cy="495.6" rx="3.4" ry="2.45"/><ellipse cx="43.5" cy="530.9" rx="3.4" ry="2.45"/><ellipse cx="41.3" cy="544.3" rx="3.4" ry="2.45"/><ellipse cx="45.9" cy="551.2" rx="3.4" ry="2.45"/><ellipse cx="55.5" cy="547.6" rx="3.4" ry="2.45"/><ellipse cx="72.4" cy="553.8" rx="3.4" ry="2.45"/><ellipse cx="81.7" cy="545.5" rx="3.4" ry="2.45"/><ellipse cx="93.9" cy="548.9" rx="3.4" ry="2.45"/><ellipse cx="103.4" cy="541.1" rx="3.4" ry="2.45"/><ellipse cx="127.5" cy="534.4" rx="3.4" ry="2.45"/><ellipse cx="62.9" cy="561.8" rx="3.4" ry="2.45"/><ellipse cx="117.9" cy="560.5" rx="3.4" ry="2.45"/><ellipse cx="130.5" cy="559.5" rx="3.4" ry="2.45"/><ellipse cx="132.5" cy="557" rx="3.4" ry="2.45"/><ellipse cx="213.2" cy="350.3" rx="3.4" ry="2.45"/><ellipse cx="208.5" cy="359.5" rx="3.4" ry="2.45"/><ellipse cx="218.2" cy="388.4" rx="3.4" ry="2.45"/><ellipse cx="152.9" cy="405.9" rx="3.4" ry="2.45"/><ellipse cx="156.5" cy="405.9" rx="3.4" ry="2.45"/><ellipse cx="184.7" cy="405.9" rx="3.4" ry="2.45"/><ellipse cx="165.3" cy="419.5" rx="3.4" ry="2.45"/><ellipse cx="182.6" cy="418.6" rx="3.4" ry="2.45"/><ellipse cx="144.1" cy="426.2" rx="3.4" ry="2.45"/><ellipse cx="151.2" cy="429.2" rx="3.4" ry="2.45"/><ellipse cx="160.9" cy="425.7" rx="3.4" ry="2.45"/><ellipse cx="177.3" cy="423.9" rx="3.4" ry="2.45"/><ellipse cx="193.8" cy="431.5" rx="3.4" ry="2.45"/><ellipse cx="201.4" cy="430.6" rx="3.4" ry="2.45"/><ellipse cx="215.9" cy="430.9" rx="3.4" ry="2.45"/><ellipse cx="227.5" cy="428.8" rx="3.4" ry="2.45"/><ellipse cx="158.2" cy="439.9" rx="3.4" ry="2.45"/><ellipse cx="210.8" cy="439.4" rx="3.4" ry="2.45"/><ellipse cx="172.3" cy="453.3" rx="3.4" ry="2.45"/><ellipse cx="196.7" cy="460" rx="3.4" ry="2.45"/><ellipse cx="191.7" cy="463.9" rx="3.4" ry="2.45"/><ellipse cx="139.2" cy="468.3" rx="3.4" ry="2.45"/><ellipse cx="167.9" cy="520" rx="3.4" ry="2.45"/><ellipse cx="225.5" cy="520.8" rx="3.4" ry="2.45"/><ellipse cx="198.8" cy="524.2" rx="3.4" ry="2.45"/><ellipse cx="189.4" cy="531.4" rx="3.4" ry="2.45"/><ellipse cx="206.2" cy="530.9" rx="3.4" ry="2.45"/><ellipse cx="148.9" cy="542" rx="3.4" ry="2.45"/><ellipse cx="141.5" cy="549.4" rx="3.4" ry="2.45"/><ellipse cx="146.8" cy="549.1" rx="3.4" ry="2.45"/><ellipse cx="175" cy="553.3" rx="3.4" ry="2.45"/><ellipse cx="186.8" cy="555.6" rx="3.4" ry="2.45"/><ellipse cx="223.5" cy="549.8" rx="3.4" ry="2.45"/><ellipse cx="220.3" cy="556.6" rx="3.4" ry="2.45"/><ellipse cx="229.5" cy="541.5" rx="3.4" ry="2.45"/><ellipse cx="162.6" cy="560.9" rx="3.4" ry="2.45"/><ellipse cx="170.2" cy="560.9" rx="3.4" ry="2.45"/><ellipse cx="179.9" cy="560.5" rx="3.4" ry="2.45"/><ellipse cx="239.5" cy="364.1" rx="3.4" ry="2.45"/><ellipse cx="308.8" cy="357.8" rx="3.4" ry="2.45"/><ellipse cx="273" cy="371.2" rx="3.4" ry="2.45"/><ellipse cx="251.5" cy="382.6" rx="3.4" ry="2.45"/><ellipse cx="301.7" cy="381.2" rx="3.4" ry="2.45"/><ellipse cx="261.2" cy="402.9" rx="3.4" ry="2.45"/><ellipse cx="270.5" cy="407.7" rx="3.4" ry="2.45"/><ellipse cx="275.6" cy="428.8" rx="3.4" ry="2.45"/><ellipse cx="258.9" cy="451.2" rx="3.4" ry="2.45"/><ellipse cx="246.5" cy="456.5" rx="3.4" ry="2.45"/><ellipse cx="297" cy="454.2" rx="3.4" ry="2.45"/><ellipse cx="287.3" cy="459.6" rx="3.4" ry="2.45"/><ellipse cx="282.7" cy="481.5" rx="3.4" ry="2.45"/><ellipse cx="316.2" cy="510.1" rx="3.4" ry="2.45"/><ellipse cx="235.1" cy="525.6" rx="3.4" ry="2.45"/><ellipse cx="263.4" cy="533.5" rx="3.4" ry="2.45"/><ellipse cx="277.9" cy="540.9" rx="3.4" ry="2.45"/><ellipse cx="237" cy="551.7" rx="3.4" ry="2.45"/><ellipse cx="311.4" cy="548.9" rx="3.4" ry="2.45"/><ellipse cx="321" cy="536.9" rx="3.4" ry="2.45"/><ellipse cx="323.2" cy="548.7" rx="3.4" ry="2.45"/><ellipse cx="324.7" cy="552.9" rx="3.4" ry="2.45"/><ellipse cx="232.1" cy="560.5" rx="3.4" ry="2.45"/><ellipse cx="244.4" cy="560.9" rx="3.4" ry="2.45"/><ellipse cx="285" cy="560.9" rx="3.4" ry="2.45"/><ellipse cx="292" cy="557.7" rx="3.4" ry="2.45"/><ellipse cx="300" cy="560.9" rx="3.4" ry="2.45"/><ellipse cx="306.5" cy="557.7" rx="3.4" ry="2.45"/><ellipse cx="349.5" cy="367.5" rx="3.4" ry="2.45"/><ellipse cx="378.2" cy="386" rx="3.4" ry="2.45"/><ellipse cx="335.3" cy="398.8" rx="3.4" ry="2.45"/><ellipse cx="375.9" cy="410.3" rx="3.4" ry="2.45"/><ellipse cx="371.1" cy="428" rx="3.4" ry="2.45"/><ellipse cx="354.4" cy="465.1" rx="3.4" ry="2.45"/><ellipse cx="332.7" cy="500" rx="3.4" ry="2.45"/><ellipse cx="339.9" cy="514.3" rx="3.4" ry="2.45"/><ellipse cx="395" cy="514" rx="3.4" ry="2.45"/><ellipse cx="337.6" cy="532.1" rx="3.4" ry="2.45"/><ellipse cx="392.3" cy="536.5" rx="3.4" ry="2.45"/><ellipse cx="404.3" cy="535.3" rx="3.4" ry="2.45"/><ellipse cx="411.7" cy="538.5" rx="3.4" ry="2.45"/><ellipse cx="366.2" cy="542.7" rx="3.4" ry="2.45"/><ellipse cx="364.1" cy="545.9" rx="3.4" ry="2.45"/><ellipse cx="383.1" cy="549.1" rx="3.4" ry="2.45"/><ellipse cx="373.3" cy="552.9" rx="3.4" ry="2.45"/><ellipse cx="387.7" cy="555.6" rx="3.4" ry="2.45"/><ellipse cx="330.6" cy="558.6" rx="3.4" ry="2.45"/><ellipse cx="369" cy="558.6" rx="3.4" ry="2.45"/><ellipse cx="357" cy="561.8" rx="3.4" ry="2.45"/><ellipse cx="359.7" cy="561.4" rx="3.4" ry="2.45"/><ellipse cx="420" cy="555.1" rx="3.4" ry="2.45"/><ellipse cx="437.9" cy="413.3" rx="3.4" ry="2.45"/><ellipse cx="435.6" cy="465.6" rx="3.4" ry="2.45"/><ellipse cx="423.5" cy="485.4" rx="3.4" ry="2.45"/><ellipse cx="452.4" cy="500.9" rx="3.4" ry="2.45"/><ellipse cx="449.9" cy="505" rx="3.4" ry="2.45"/><ellipse cx="425.9" cy="528.6" rx="3.4" ry="2.45"/><ellipse cx="445.3" cy="530.2" rx="3.4" ry="2.45"/><ellipse cx="462.3" cy="535.3" rx="3.4" ry="2.45"/><ellipse cx="454.7" cy="549.4" rx="3.4" ry="2.45"/></g>
<g fill="#a01c1c"><ellipse cx="203.7" cy="545" rx="3.4" ry="2.45"/><ellipse cx="280.4" cy="471.5" rx="3.4" ry="2.45"/><ellipse cx="289.7" cy="503.4" rx="3.4" ry="2.45"/><ellipse cx="253.7" cy="508" rx="3.4" ry="2.45"/><ellipse cx="294.7" cy="514.3" rx="3.4" ry="2.45"/><ellipse cx="268.2" cy="520.7" rx="3.4" ry="2.45"/><ellipse cx="304" cy="530.9" rx="3.4" ry="2.45"/><ellipse cx="265.9" cy="540.6" rx="3.4" ry="2.45"/><ellipse cx="319.2" cy="540.6" rx="3.4" ry="2.45"/><ellipse cx="256.4" cy="545.4" rx="3.4" ry="2.45"/><ellipse cx="248.8" cy="547.1" rx="3.4" ry="2.45"/><ellipse cx="242.1" cy="553.8" rx="3.4" ry="2.45"/><ellipse cx="314.1" cy="548" rx="3.4" ry="2.45"/><ellipse cx="409.4" cy="430.6" rx="3.4" ry="2.45"/><ellipse cx="402" cy="452.2" rx="3.4" ry="2.45"/><ellipse cx="385.3" cy="476.7" rx="3.4" ry="2.45"/><ellipse cx="351.7" cy="507.4" rx="3.4" ry="2.45"/><ellipse cx="390.2" cy="522.1" rx="3.4" ry="2.45"/><ellipse cx="397.1" cy="521" rx="3.4" ry="2.45"/><ellipse cx="361.4" cy="531.1" rx="3.4" ry="2.45"/><ellipse cx="327.9" cy="535.1" rx="3.4" ry="2.45"/><ellipse cx="342.6" cy="533.4" rx="3.4" ry="2.45"/><ellipse cx="347.3" cy="536.7" rx="3.4" ry="2.45"/><ellipse cx="380.5" cy="541.8" rx="3.4" ry="2.45"/><ellipse cx="344.7" cy="548.9" rx="3.4" ry="2.45"/><ellipse cx="406.8" cy="549.6" rx="3.4" ry="2.45"/><ellipse cx="413.8" cy="535.7" rx="3.4" ry="2.45"/><ellipse cx="418.4" cy="538.5" rx="3.4" ry="2.45"/><ellipse cx="416" cy="554.5" rx="3.4" ry="2.45"/><ellipse cx="399.7" cy="562.3" rx="3.4" ry="2.45"/><ellipse cx="447.6" cy="482.6" rx="3.4" ry="2.45"/><ellipse cx="428.2" cy="536.2" rx="3.4" ry="2.45"/><ellipse cx="433.5" cy="540.1" rx="3.4" ry="2.45"/><ellipse cx="442.7" cy="543.8" rx="3.4" ry="2.45"/><ellipse cx="456.8" cy="537.4" rx="3.4" ry="2.45"/><ellipse cx="459.4" cy="545.2" rx="3.4" ry="2.45"/><ellipse cx="466.7" cy="549.2" rx="3.4" ry="2.45"/><ellipse cx="430.9" cy="553.8" rx="3.4" ry="2.45"/><ellipse cx="464" cy="556.1" rx="3.4" ry="2.45"/><ellipse cx="440.6" cy="560.9" rx="3.4" ry="2.45"/></g>
<ellipse cx="478.5" cy="355" rx="3.5" ry="2.6" fill="#2c4aa8"/>
<ellipse cx="478.5" cy="370" rx="3.5" ry="2.6" fill="#a01c1c"/>
<text x="487.4" y="357.6" font-size="10" class="t">Alive</text>
<text x="487.4" y="373" font-size="10" class="t">Dead</text>
<path stroke="#000" stroke-width="2.3" stroke-dasharray="3.6 0.5" d="M251.9 577V592.5M251.9 609V624.7M251.9 641.2V654.6M251.9 670.2V685.2M251.9 701V715M251.9 731.7V742M251.9 761.5V779"/>
<g stroke="#000" fill="none" stroke-width="1.4">
<path d="M34.6 764V780.5"/>
<path d="M252 764V778.5"/>
<path d="M513.8 764V780.5"/>
<path d="M42.6 774.6H66"/><path d="M259 776H280"/><path d="M226 776H246.4"/><path d="M480 776.4H501"/>
</g>
<g fill="#000">
<path d="M78.2 774.6L63.3 771.4L63.3 777.8Z"/>
<path d="M292 776L278 772.8L278 779.2Z"/>
<path d="M212.3 776L227 772.8L227 779.2Z"/>
<path d="M467.5 776.4L482 773.2L482 779.6Z"/>
</g>
<text x="83" y="777.6" font-size="10" class="t">Patients with low risk scores</text>
<text x="323.3" y="778.4" font-size="10" class="t">Patients with high risk scores</text>
<defs><linearGradient id="cb" x1="0" x2="1" y1="0" y2="0"><stop offset="0" stop-color="#2a2a8a"/><stop offset="0.5" stop-color="#ffffff"/><stop offset="1" stop-color="#c02a2a"/></linearGradient></defs>
<rect x="211.8" y="783.9" width="79" height="5.5" fill="url(#cb)"/>
<g font-size="9" font-weight="bold">
<text x="212.3" y="799.2">-6</text>
<text x="225.9" y="799.2">-4</text>
<text x="239.0" y="799.2">-2</text>
<text x="249.9" y="799.2">0</text>
<text x="260.6" y="799.2">2</text>
<text x="270.0" y="799.2">4</text>
<text x="281.0" y="799.2">6</text>
</g>
<text transform="translate(517,575.45) scale(1.02,0.94)" font-size="10" class="t" style="stroke-width:0.45px">H11436</text>
<text transform="translate(517,583.69) scale(1.02,0.94)" font-size="10" class="t" style="stroke-width:0.45px">BC039674</text>
<text transform="translate(517,591.94) scale(1.02,0.94)" font-size="10" class="t" style="stroke-width:0.45px">AI080288</text>
<text transform="translate(517,600.18) scale(1.02,0.94)" font-size="10" class="t" style="stroke-width:0.45px">BC005107</text>
<text transform="translate(517,608.43) scale(1.02,0.94)" font-size="10" class="t" style="stroke-width:0.45px">AI056187</text>
<text transform="translate(517,616.68) scale(1.02,0.94)" font-size="10" class="t" style="stroke-width:0.45px">BC035722</text>
<text transform="translate(517,624.92) scale(1.02,0.94)" font-size="10" class="t" style="stroke-width:0.45px">BF511694</text>
<text transform="translate(517,633.17) scale(1.02,0.94)" font-size="10" class="t" style="stroke-width:0.45px">T79746</text>
<text transform="translate(517,641.41) scale(1.02,0.94)" font-size="10" class="t" style="stroke-width:0.45px">BC021187</text>
<text transform="translate(517,649.66) scale(1.02,0.94)" font-size="10" class="t" style="stroke-width:0.45px">BF238392</text>
<text transform="translate(517,657.91) scale(1.02,0.94)" font-size="10" class="t" style="stroke-width:0.45px">AA041523</text>
<text transform="translate(517,666.15) scale(1.02,0.94)" font-size="10" class="t" style="stroke-width:0.45px">AF035291</text>
<text transform="translate(517,674.40) scale(1.02,0.94)" font-size="10" class="t" style="stroke-width:0.45px">BC038210</text>
<text transform="translate(517,682.64) scale(1.02,0.94)" font-size="10" class="t" style="stroke-width:0.45px">BE621082</text>
<text transform="translate(517,690.89) scale(1.02,0.94)" font-size="10" class="t" style="stroke-width:0.45px">AA463827</text>
<text transform="translate(517,699.14) scale(1.02,0.94)" font-size="10" class="t" style="stroke-width:0.45px">BC037827</text>
<text transform="translate(517,707.38) scale(1.02,0.94)" font-size="10" class="t" style="stroke-width:0.45px">AK056852</text>
<text transform="translate(517,715.63) scale(1.02,0.94)" font-size="10" class="t" style="stroke-width:0.45px">AW206234</text>
<text transform="translate(517,723.87) scale(1.02,0.94)" font-size="10" class="t" style="stroke-width:0.45px">AL703532</text>
<text transform="translate(517,732.12) scale(1.02,0.94)" font-size="10" class="t" style="stroke-width:0.45px">AI095542</text>
<text transform="translate(517,740.37) scale(1.02,0.94)" font-size="10" class="t" style="stroke-width:0.45px">H04858</text>
<text transform="translate(517,748.61) scale(1.02,0.94)" font-size="10" class="t" style="stroke-width:0.45px">AI916498</text>
<text transform="translate(517,756.86) scale(1.02,0.94)" font-size="10" class="t" style="stroke-width:0.45px">AI028608</text>
<text transform="translate(517,765.10) scale(1.02,0.94)" font-size="10" class="t" style="stroke-width:0.45px">AK026189</text>
<text transform="translate(10.4,76.6) rotate(-90)" font-size="12.8" class="t" text-anchor="middle">Z-score distribution</text>
<text transform="translate(10.0,406.5) rotate(-90)" font-size="12.8" class="t" text-anchor="middle">Following up(months)</text>
<text transform="translate(9.7,625.2) rotate(-90)" font-size="12.9" class="t" text-anchor="middle">LncRNA signature</text>
<text x="-0.2" y="9.9" font-size="20" font-weight="bold">a</text>
<text x="0.2" y="340.3" font-size="20" font-weight="bold">b</text>
<text x="0.3" y="566.3" font-size="20" font-weight="bold">c</text>
</svg></body></html>
